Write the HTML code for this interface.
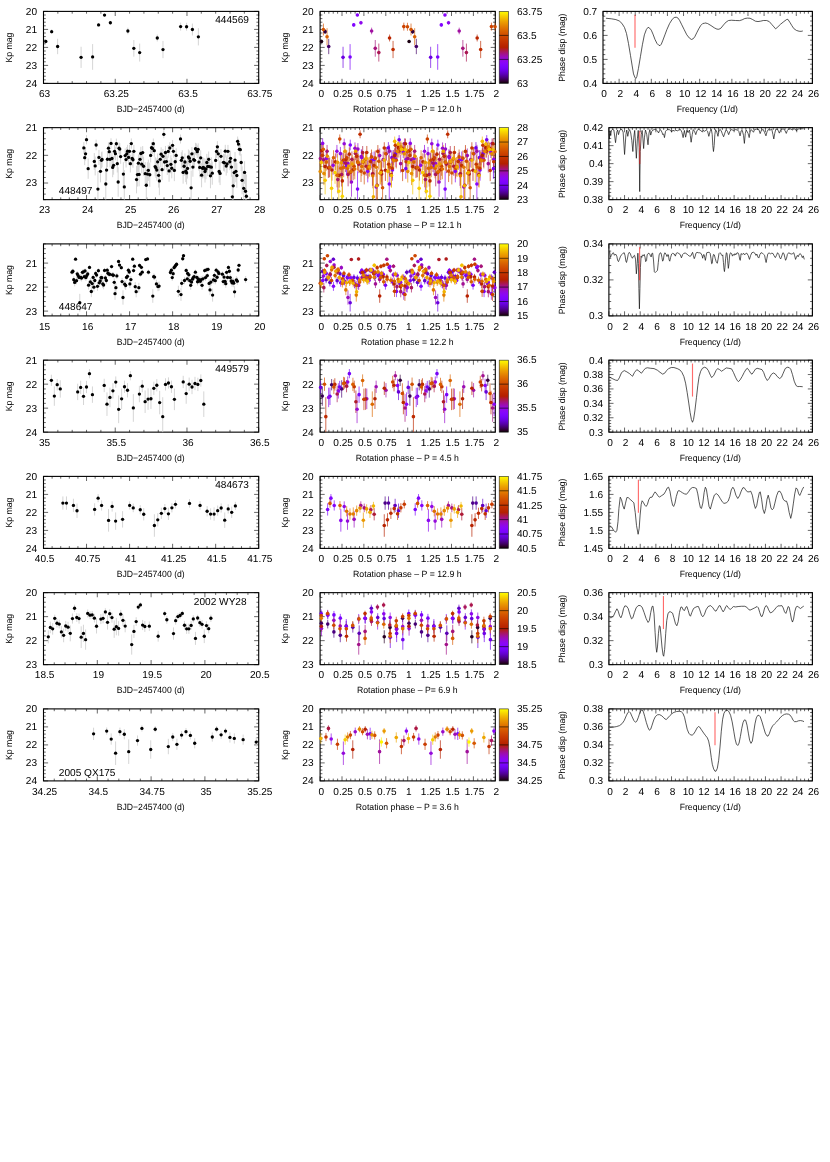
<!DOCTYPE html>
<html><head><meta charset="utf-8"><title>figure</title>
<style>
html,body{margin:0;padding:0;background:#fff;}
body{width:830px;height:1162px;overflow:hidden;font-family:"Liberation Sans", sans-serif;}
svg{display:block;will-change:transform;}
svg text{font-family:"Liberation Sans", sans-serif;fill:#000;text-rendering:geometricPrecision;}
</style></head><body>
<svg width="830" height="1162" viewBox="0 0 830 1162">
<rect width="830" height="1162" fill="#fff"/>
<defs><linearGradient id="pal" x1="0" y1="1" x2="0" y2="0">
<stop offset="0.000" stop-color="#000000"/>
<stop offset="0.020" stop-color="#240020"/>
<stop offset="0.040" stop-color="#33003f"/>
<stop offset="0.060" stop-color="#3e005e"/>
<stop offset="0.080" stop-color="#48007b"/>
<stop offset="0.100" stop-color="#510096"/>
<stop offset="0.120" stop-color="#5800af"/>
<stop offset="0.140" stop-color="#5f01c4"/>
<stop offset="0.160" stop-color="#6601d7"/>
<stop offset="0.180" stop-color="#6c01e7"/>
<stop offset="0.200" stop-color="#7202f3"/>
<stop offset="0.220" stop-color="#7803fa"/>
<stop offset="0.240" stop-color="#7d04fe"/>
<stop offset="0.260" stop-color="#8204fe"/>
<stop offset="0.280" stop-color="#8706fa"/>
<stop offset="0.300" stop-color="#8c07f3"/>
<stop offset="0.320" stop-color="#9008e7"/>
<stop offset="0.340" stop-color="#950ad7"/>
<stop offset="0.360" stop-color="#990cc4"/>
<stop offset="0.380" stop-color="#9d0eaf"/>
<stop offset="0.400" stop-color="#a11096"/>
<stop offset="0.420" stop-color="#a5137b"/>
<stop offset="0.440" stop-color="#a9165e"/>
<stop offset="0.460" stop-color="#ad193f"/>
<stop offset="0.480" stop-color="#b11c20"/>
<stop offset="0.500" stop-color="#b42000"/>
<stop offset="0.520" stop-color="#b82400"/>
<stop offset="0.540" stop-color="#bb2800"/>
<stop offset="0.560" stop-color="#bf2d00"/>
<stop offset="0.580" stop-color="#c23200"/>
<stop offset="0.600" stop-color="#c63700"/>
<stop offset="0.620" stop-color="#c93d00"/>
<stop offset="0.640" stop-color="#cc4300"/>
<stop offset="0.660" stop-color="#cf4900"/>
<stop offset="0.680" stop-color="#d25000"/>
<stop offset="0.700" stop-color="#d55700"/>
<stop offset="0.720" stop-color="#d85f00"/>
<stop offset="0.740" stop-color="#db6700"/>
<stop offset="0.760" stop-color="#de7000"/>
<stop offset="0.780" stop-color="#e17900"/>
<stop offset="0.800" stop-color="#e48300"/>
<stop offset="0.820" stop-color="#e78d00"/>
<stop offset="0.840" stop-color="#ea9700"/>
<stop offset="0.860" stop-color="#eca200"/>
<stop offset="0.880" stop-color="#efae00"/>
<stop offset="0.900" stop-color="#f2ba00"/>
<stop offset="0.920" stop-color="#f5c700"/>
<stop offset="0.940" stop-color="#f7d400"/>
<stop offset="0.960" stop-color="#fae200"/>
<stop offset="0.980" stop-color="#fcf000"/>
<stop offset="1.000" stop-color="#ffff00"/>
</linearGradient></defs>
<text transform="translate(44.60 97.00)" text-anchor="middle" font-size="10.1">63</text>
<text transform="translate(116.33 97.00)" text-anchor="middle" font-size="10.1">63.25</text>
<text transform="translate(188.07 97.00)" text-anchor="middle" font-size="10.1">63.5</text>
<text transform="translate(259.80 97.00)" text-anchor="middle" font-size="10.1">63.75</text>
<text transform="translate(37.00 14.80)" text-anchor="end" font-size="10.1">20</text>
<text transform="translate(37.00 32.80)" text-anchor="end" font-size="10.1">21</text>
<text transform="translate(37.00 50.80)" text-anchor="end" font-size="10.1">22</text>
<text transform="translate(37.00 68.80)" text-anchor="end" font-size="10.1">23</text>
<text transform="translate(37.00 86.80)" text-anchor="end" font-size="10.1">24</text>
<path d="M43.50 83.40v-4.60 M43.50 11.40v4.60 M57.85 83.40v-2.30 M57.85 11.40v2.30 M72.19 83.40v-2.30 M72.19 11.40v2.30 M86.54 83.40v-2.30 M86.54 11.40v2.30 M100.89 83.40v-2.30 M100.89 11.40v2.30 M115.23 83.40v-4.60 M115.23 11.40v4.60 M129.58 83.40v-2.30 M129.58 11.40v2.30 M143.93 83.40v-2.30 M143.93 11.40v2.30 M158.27 83.40v-2.30 M158.27 11.40v2.30 M172.62 83.40v-2.30 M172.62 11.40v2.30 M186.97 83.40v-4.60 M186.97 11.40v4.60 M201.31 83.40v-2.30 M201.31 11.40v2.30 M215.66 83.40v-2.30 M215.66 11.40v2.30 M230.01 83.40v-2.30 M230.01 11.40v2.30 M244.35 83.40v-2.30 M244.35 11.40v2.30 M258.70 83.40v-4.60 M258.70 11.40v4.60 M43.50 11.40h4.60 M258.70 11.40h-4.60 M43.50 15.00h2.30 M258.70 15.00h-2.30 M43.50 18.60h2.30 M258.70 18.60h-2.30 M43.50 22.20h2.30 M258.70 22.20h-2.30 M43.50 25.80h2.30 M258.70 25.80h-2.30 M43.50 29.40h4.60 M258.70 29.40h-4.60 M43.50 33.00h2.30 M258.70 33.00h-2.30 M43.50 36.60h2.30 M258.70 36.60h-2.30 M43.50 40.20h2.30 M258.70 40.20h-2.30 M43.50 43.80h2.30 M258.70 43.80h-2.30 M43.50 47.40h4.60 M258.70 47.40h-4.60 M43.50 51.00h2.30 M258.70 51.00h-2.30 M43.50 54.60h2.30 M258.70 54.60h-2.30 M43.50 58.20h2.30 M258.70 58.20h-2.30 M43.50 61.80h2.30 M258.70 61.80h-2.30 M43.50 65.40h4.60 M258.70 65.40h-4.60 M43.50 69.00h2.30 M258.70 69.00h-2.30 M43.50 72.60h2.30 M258.70 72.60h-2.30 M43.50 76.20h2.30 M258.70 76.20h-2.30 M43.50 79.80h2.30 M258.70 79.80h-2.30 M43.50 83.40h4.60 M258.70 83.40h-4.60" stroke="#000" stroke-width="0.6" fill="none"/>
<rect x="43.50" y="11.40" width="215.20" height="72.00" fill="none" stroke="#000" stroke-width="1.1"/>
<text transform="translate(150.70 112.10)" text-anchor="middle" font-size="9.0" textLength="68.00" lengthAdjust="spacingAndGlyphs">BJD−2457400 (d)</text>
<text transform="translate(11.60 47.60) rotate(-90)" text-anchor="middle" font-size="9.0" textLength="30.00" lengthAdjust="spacingAndGlyphs">Kp mag</text>
<path d="M45.83 39.86V43.04 M51.66 29.25V34.02 M57.63 38.80V54.17 M81.08 46.75V67.95 M92.61 44.10V69.81 M98.58 23.02V26.73 M104.54 13.75V16.40 M110.37 20.90V24.61 M127.87 27.66V34.29 M133.83 39.99V56.69 M139.66 43.57V61.59 M157.29 34.55V41.45 M162.99 40.92V58.14 M180.61 22.63V30.58 M186.58 22.76V30.71 M192.41 23.55V35.48 M198.37 28.19V45.42" stroke="#d0d0d0" stroke-width="0.9" fill="none"/>
<g fill="#000"><circle cx="45.83" cy="41.45" r="1.65"/><circle cx="51.66" cy="31.64" r="1.65"/><circle cx="57.63" cy="46.48" r="1.65"/><circle cx="81.08" cy="57.35" r="1.65"/><circle cx="92.61" cy="56.95" r="1.65"/><circle cx="98.58" cy="24.88" r="1.65"/><circle cx="104.54" cy="15.07" r="1.65"/><circle cx="110.37" cy="22.76" r="1.65"/><circle cx="127.87" cy="30.98" r="1.65"/><circle cx="133.83" cy="48.34" r="1.65"/><circle cx="139.66" cy="52.58" r="1.65"/><circle cx="157.29" cy="38.00" r="1.65"/><circle cx="162.99" cy="49.53" r="1.65"/><circle cx="180.61" cy="26.60" r="1.65"/><circle cx="186.58" cy="26.73" r="1.65"/><circle cx="192.41" cy="29.52" r="1.65"/><circle cx="198.37" cy="36.81" r="1.65"/></g>
<text transform="translate(248.90 23.00)" text-anchor="end" font-size="10.1">444569</text>
<text transform="translate(321.20 97.00)" text-anchor="middle" font-size="10.1">0</text>
<text transform="translate(343.10 97.00)" text-anchor="middle" font-size="10.1">0.25</text>
<text transform="translate(365.00 97.00)" text-anchor="middle" font-size="10.1">0.5</text>
<text transform="translate(386.90 97.00)" text-anchor="middle" font-size="10.1">0.75</text>
<text transform="translate(408.80 97.00)" text-anchor="middle" font-size="10.1">1</text>
<text transform="translate(430.70 97.00)" text-anchor="middle" font-size="10.1">1.25</text>
<text transform="translate(452.60 97.00)" text-anchor="middle" font-size="10.1">1.5</text>
<text transform="translate(474.50 97.00)" text-anchor="middle" font-size="10.1">1.75</text>
<text transform="translate(496.40 97.00)" text-anchor="middle" font-size="10.1">2</text>
<text transform="translate(313.60 14.80)" text-anchor="end" font-size="10.1">20</text>
<text transform="translate(313.60 32.80)" text-anchor="end" font-size="10.1">21</text>
<text transform="translate(313.60 50.80)" text-anchor="end" font-size="10.1">22</text>
<text transform="translate(313.60 68.80)" text-anchor="end" font-size="10.1">23</text>
<text transform="translate(313.60 86.80)" text-anchor="end" font-size="10.1">24</text>
<path d="M320.10 83.40v-4.60 M320.10 11.40v4.60 M324.48 83.40v-2.30 M324.48 11.40v2.30 M328.86 83.40v-2.30 M328.86 11.40v2.30 M333.24 83.40v-2.30 M333.24 11.40v2.30 M337.62 83.40v-2.30 M337.62 11.40v2.30 M342.00 83.40v-4.60 M342.00 11.40v4.60 M346.38 83.40v-2.30 M346.38 11.40v2.30 M350.76 83.40v-2.30 M350.76 11.40v2.30 M355.14 83.40v-2.30 M355.14 11.40v2.30 M359.52 83.40v-2.30 M359.52 11.40v2.30 M363.90 83.40v-4.60 M363.90 11.40v4.60 M368.28 83.40v-2.30 M368.28 11.40v2.30 M372.66 83.40v-2.30 M372.66 11.40v2.30 M377.04 83.40v-2.30 M377.04 11.40v2.30 M381.42 83.40v-2.30 M381.42 11.40v2.30 M385.80 83.40v-4.60 M385.80 11.40v4.60 M390.18 83.40v-2.30 M390.18 11.40v2.30 M394.56 83.40v-2.30 M394.56 11.40v2.30 M398.94 83.40v-2.30 M398.94 11.40v2.30 M403.32 83.40v-2.30 M403.32 11.40v2.30 M407.70 83.40v-4.60 M407.70 11.40v4.60 M412.08 83.40v-2.30 M412.08 11.40v2.30 M416.46 83.40v-2.30 M416.46 11.40v2.30 M420.84 83.40v-2.30 M420.84 11.40v2.30 M425.22 83.40v-2.30 M425.22 11.40v2.30 M429.60 83.40v-4.60 M429.60 11.40v4.60 M433.98 83.40v-2.30 M433.98 11.40v2.30 M438.36 83.40v-2.30 M438.36 11.40v2.30 M442.74 83.40v-2.30 M442.74 11.40v2.30 M447.12 83.40v-2.30 M447.12 11.40v2.30 M451.50 83.40v-4.60 M451.50 11.40v4.60 M455.88 83.40v-2.30 M455.88 11.40v2.30 M460.26 83.40v-2.30 M460.26 11.40v2.30 M464.64 83.40v-2.30 M464.64 11.40v2.30 M469.02 83.40v-2.30 M469.02 11.40v2.30 M473.40 83.40v-4.60 M473.40 11.40v4.60 M477.78 83.40v-2.30 M477.78 11.40v2.30 M482.16 83.40v-2.30 M482.16 11.40v2.30 M486.54 83.40v-2.30 M486.54 11.40v2.30 M490.92 83.40v-2.30 M490.92 11.40v2.30 M495.30 83.40v-4.60 M495.30 11.40v4.60 M320.10 11.40h4.60 M495.30 11.40h-4.60 M320.10 15.00h2.30 M495.30 15.00h-2.30 M320.10 18.60h2.30 M495.30 18.60h-2.30 M320.10 22.20h2.30 M495.30 22.20h-2.30 M320.10 25.80h2.30 M495.30 25.80h-2.30 M320.10 29.40h4.60 M495.30 29.40h-4.60 M320.10 33.00h2.30 M495.30 33.00h-2.30 M320.10 36.60h2.30 M495.30 36.60h-2.30 M320.10 40.20h2.30 M495.30 40.20h-2.30 M320.10 43.80h2.30 M495.30 43.80h-2.30 M320.10 47.40h4.60 M495.30 47.40h-4.60 M320.10 51.00h2.30 M495.30 51.00h-2.30 M320.10 54.60h2.30 M495.30 54.60h-2.30 M320.10 58.20h2.30 M495.30 58.20h-2.30 M320.10 61.80h2.30 M495.30 61.80h-2.30 M320.10 65.40h4.60 M495.30 65.40h-4.60 M320.10 69.00h2.30 M495.30 69.00h-2.30 M320.10 72.60h2.30 M495.30 72.60h-2.30 M320.10 76.20h2.30 M495.30 76.20h-2.30 M320.10 79.80h2.30 M495.30 79.80h-2.30 M320.10 83.40h4.60 M495.30 83.40h-4.60" stroke="#000" stroke-width="0.6" fill="none"/>
<rect x="320.10" y="11.40" width="175.20" height="72.00" fill="none" stroke="#000" stroke-width="1.1"/>
<text transform="translate(407.30 112.10)" text-anchor="middle" font-size="9.0" textLength="108.50" lengthAdjust="spacingAndGlyphs">Rotation phase – P = 12.0 h</text>
<text transform="translate(288.00 47.60) rotate(-90)" text-anchor="middle" font-size="9.0" textLength="30.00" lengthAdjust="spacingAndGlyphs">Kp mag</text>
<clipPath id="cm0"><rect x="318.10" y="11.40" width="179.20" height="72.00"/></clipPath>
<g clip-path="url(#cm0)"><g stroke-width="0.72" opacity="0.95"><path d="M321.52 39.86V43.04" stroke="#1b0011"/><path d="M409.12 39.86V43.04" stroke="#1b0011"/><path d="M325.08 29.25V34.02" stroke="#32003c"/><path d="M412.68 29.25V34.02" stroke="#32003c"/><path d="M328.73 38.80V54.17" stroke="#410066"/><path d="M416.33 38.80V54.17" stroke="#410066"/><path d="M343.05 46.75V67.95" stroke="#6b01e3"/><path d="M430.65 46.75V67.95" stroke="#6b01e3"/><path d="M350.09 44.10V69.81" stroke="#7a03fd"/><path d="M437.69 44.10V69.81" stroke="#7a03fd"/><path d="M353.73 23.02V26.73" stroke="#8104ff"/><path d="M441.33 23.02V26.73" stroke="#8104ff"/><path d="M357.37 13.75V16.40" stroke="#8806f9"/><path d="M444.97 13.75V16.40" stroke="#8806f9"/><path d="M360.93 20.90V24.61" stroke="#8e08ed"/><path d="M448.53 20.90V24.61" stroke="#8e08ed"/><path d="M371.61 27.66V34.29" stroke="#a00fa0"/><path d="M459.21 27.66V34.29" stroke="#a00fa0"/><path d="M375.26 39.99V56.69" stroke="#a5137b"/><path d="M462.86 39.99V56.69" stroke="#a5137b"/><path d="M378.82 43.57V61.59" stroke="#aa1754"/><path d="M466.42 43.57V61.59" stroke="#aa1754"/><path d="M389.58 34.55V41.45" stroke="#b92600"/><path d="M477.18 34.55V41.45" stroke="#b92600"/><path d="M393.06 40.92V58.14" stroke="#be2c00"/><path d="M480.66 40.92V58.14" stroke="#be2c00"/><path d="M403.82 22.63V30.58" stroke="#cc4200"/><path d="M491.42 22.63V30.58" stroke="#cc4200"/><path d="M407.46 22.76V30.71" stroke="#d04b00"/><path d="M495.06 22.76V30.71" stroke="#d04b00"/><path d="M323.42 23.55V35.48" stroke="#d45400"/><path d="M411.02 23.55V35.48" stroke="#d45400"/><path d="M327.06 28.19V45.42" stroke="#d85f00"/><path d="M414.66 28.19V45.42" stroke="#d85f00"/></g><circle cx="321.52" cy="41.45" r="1.8" fill="#1b0011"/><circle cx="409.12" cy="41.45" r="1.8" fill="#1b0011"/><circle cx="325.08" cy="31.64" r="1.8" fill="#32003c"/><circle cx="412.68" cy="31.64" r="1.8" fill="#32003c"/><circle cx="328.73" cy="46.48" r="1.8" fill="#410066"/><circle cx="416.33" cy="46.48" r="1.8" fill="#410066"/><circle cx="343.05" cy="57.35" r="1.8" fill="#6b01e3"/><circle cx="430.65" cy="57.35" r="1.8" fill="#6b01e3"/><circle cx="350.09" cy="56.95" r="1.8" fill="#7a03fd"/><circle cx="437.69" cy="56.95" r="1.8" fill="#7a03fd"/><circle cx="353.73" cy="24.88" r="1.8" fill="#8104ff"/><circle cx="441.33" cy="24.88" r="1.8" fill="#8104ff"/><circle cx="357.37" cy="15.07" r="1.8" fill="#8806f9"/><circle cx="444.97" cy="15.07" r="1.8" fill="#8806f9"/><circle cx="360.93" cy="22.76" r="1.8" fill="#8e08ed"/><circle cx="448.53" cy="22.76" r="1.8" fill="#8e08ed"/><circle cx="371.61" cy="30.98" r="1.8" fill="#a00fa0"/><circle cx="459.21" cy="30.98" r="1.8" fill="#a00fa0"/><circle cx="375.26" cy="48.34" r="1.8" fill="#a5137b"/><circle cx="462.86" cy="48.34" r="1.8" fill="#a5137b"/><circle cx="378.82" cy="52.58" r="1.8" fill="#aa1754"/><circle cx="466.42" cy="52.58" r="1.8" fill="#aa1754"/><circle cx="389.58" cy="38.00" r="1.8" fill="#b92600"/><circle cx="477.18" cy="38.00" r="1.8" fill="#b92600"/><circle cx="393.06" cy="49.53" r="1.8" fill="#be2c00"/><circle cx="480.66" cy="49.53" r="1.8" fill="#be2c00"/><circle cx="403.82" cy="26.60" r="1.8" fill="#cc4200"/><circle cx="491.42" cy="26.60" r="1.8" fill="#cc4200"/><circle cx="407.46" cy="26.73" r="1.8" fill="#d04b00"/><circle cx="495.06" cy="26.73" r="1.8" fill="#d04b00"/><circle cx="323.42" cy="29.52" r="1.8" fill="#d45400"/><circle cx="411.02" cy="29.52" r="1.8" fill="#d45400"/><circle cx="327.06" cy="36.81" r="1.8" fill="#d85f00"/><circle cx="414.66" cy="36.81" r="1.8" fill="#d85f00"/></g>
<rect x="499.20" y="11.40" width="9.20" height="72.00" fill="url(#pal)" stroke="#222" stroke-width="0.6"/>
<text transform="translate(517.00 86.70)" text-anchor="start" font-size="10.1">63</text>
<text transform="translate(517.00 62.70)" text-anchor="start" font-size="10.1">63.25</text>
<text transform="translate(517.00 38.70)" text-anchor="start" font-size="10.1">63.5</text>
<text transform="translate(517.00 14.70)" text-anchor="start" font-size="10.1">63.75</text>
<path d="M499.20 59.40H508.40 M499.20 35.40H508.40" stroke="#000" stroke-width="0.6"/>
<text transform="translate(604.10 97.00)" text-anchor="middle" font-size="10.1">0</text>
<text transform="translate(620.21 97.00)" text-anchor="middle" font-size="10.1">2</text>
<text transform="translate(636.32 97.00)" text-anchor="middle" font-size="10.1">4</text>
<text transform="translate(652.42 97.00)" text-anchor="middle" font-size="10.1">6</text>
<text transform="translate(668.53 97.00)" text-anchor="middle" font-size="10.1">8</text>
<text transform="translate(684.64 97.00)" text-anchor="middle" font-size="10.1">10</text>
<text transform="translate(700.75 97.00)" text-anchor="middle" font-size="10.1">12</text>
<text transform="translate(716.85 97.00)" text-anchor="middle" font-size="10.1">14</text>
<text transform="translate(732.96 97.00)" text-anchor="middle" font-size="10.1">16</text>
<text transform="translate(749.07 97.00)" text-anchor="middle" font-size="10.1">18</text>
<text transform="translate(765.18 97.00)" text-anchor="middle" font-size="10.1">20</text>
<text transform="translate(781.28 97.00)" text-anchor="middle" font-size="10.1">22</text>
<text transform="translate(797.39 97.00)" text-anchor="middle" font-size="10.1">24</text>
<text transform="translate(813.50 97.00)" text-anchor="middle" font-size="10.1">26</text>
<text transform="translate(597.20 86.80)" text-anchor="end" font-size="10.1">0.4</text>
<text transform="translate(597.20 62.80)" text-anchor="end" font-size="10.1">0.5</text>
<text transform="translate(597.20 38.80)" text-anchor="end" font-size="10.1">0.6</text>
<text transform="translate(597.20 14.80)" text-anchor="end" font-size="10.1">0.7</text>
<path d="M603.00 83.40v-4.60 M603.00 11.40v4.60 M607.03 83.40v-2.30 M607.03 11.40v2.30 M611.05 83.40v-2.30 M611.05 11.40v2.30 M615.08 83.40v-2.30 M615.08 11.40v2.30 M619.11 83.40v-4.60 M619.11 11.40v4.60 M623.13 83.40v-2.30 M623.13 11.40v2.30 M627.16 83.40v-2.30 M627.16 11.40v2.30 M631.19 83.40v-2.30 M631.19 11.40v2.30 M635.22 83.40v-4.60 M635.22 11.40v4.60 M639.24 83.40v-2.30 M639.24 11.40v2.30 M643.27 83.40v-2.30 M643.27 11.40v2.30 M647.30 83.40v-2.30 M647.30 11.40v2.30 M651.32 83.40v-4.60 M651.32 11.40v4.60 M655.35 83.40v-2.30 M655.35 11.40v2.30 M659.38 83.40v-2.30 M659.38 11.40v2.30 M663.40 83.40v-2.30 M663.40 11.40v2.30 M667.43 83.40v-4.60 M667.43 11.40v4.60 M671.46 83.40v-2.30 M671.46 11.40v2.30 M675.48 83.40v-2.30 M675.48 11.40v2.30 M679.51 83.40v-2.30 M679.51 11.40v2.30 M683.54 83.40v-4.60 M683.54 11.40v4.60 M687.57 83.40v-2.30 M687.57 11.40v2.30 M691.59 83.40v-2.30 M691.59 11.40v2.30 M695.62 83.40v-2.30 M695.62 11.40v2.30 M699.65 83.40v-4.60 M699.65 11.40v4.60 M703.67 83.40v-2.30 M703.67 11.40v2.30 M707.70 83.40v-2.30 M707.70 11.40v2.30 M711.73 83.40v-2.30 M711.73 11.40v2.30 M715.75 83.40v-4.60 M715.75 11.40v4.60 M719.78 83.40v-2.30 M719.78 11.40v2.30 M723.81 83.40v-2.30 M723.81 11.40v2.30 M727.83 83.40v-2.30 M727.83 11.40v2.30 M731.86 83.40v-4.60 M731.86 11.40v4.60 M735.89 83.40v-2.30 M735.89 11.40v2.30 M739.92 83.40v-2.30 M739.92 11.40v2.30 M743.94 83.40v-2.30 M743.94 11.40v2.30 M747.97 83.40v-4.60 M747.97 11.40v4.60 M752.00 83.40v-2.30 M752.00 11.40v2.30 M756.02 83.40v-2.30 M756.02 11.40v2.30 M760.05 83.40v-2.30 M760.05 11.40v2.30 M764.08 83.40v-4.60 M764.08 11.40v4.60 M768.10 83.40v-2.30 M768.10 11.40v2.30 M772.13 83.40v-2.30 M772.13 11.40v2.30 M776.16 83.40v-2.30 M776.16 11.40v2.30 M780.18 83.40v-4.60 M780.18 11.40v4.60 M784.21 83.40v-2.30 M784.21 11.40v2.30 M788.24 83.40v-2.30 M788.24 11.40v2.30 M792.27 83.40v-2.30 M792.27 11.40v2.30 M796.29 83.40v-4.60 M796.29 11.40v4.60 M800.32 83.40v-2.30 M800.32 11.40v2.30 M804.35 83.40v-2.30 M804.35 11.40v2.30 M808.37 83.40v-2.30 M808.37 11.40v2.30 M812.40 83.40v-4.60 M812.40 11.40v4.60 M603.00 83.40h4.60 M812.40 83.40h-4.60 M603.00 78.60h2.30 M812.40 78.60h-2.30 M603.00 73.80h2.30 M812.40 73.80h-2.30 M603.00 69.00h2.30 M812.40 69.00h-2.30 M603.00 64.20h2.30 M812.40 64.20h-2.30 M603.00 59.40h4.60 M812.40 59.40h-4.60 M603.00 54.60h2.30 M812.40 54.60h-2.30 M603.00 49.80h2.30 M812.40 49.80h-2.30 M603.00 45.00h2.30 M812.40 45.00h-2.30 M603.00 40.20h2.30 M812.40 40.20h-2.30 M603.00 35.40h4.60 M812.40 35.40h-4.60 M603.00 30.60h2.30 M812.40 30.60h-2.30 M603.00 25.80h2.30 M812.40 25.80h-2.30 M603.00 21.00h2.30 M812.40 21.00h-2.30 M603.00 16.20h2.30 M812.40 16.20h-2.30 M603.00 11.40h4.60 M812.40 11.40h-4.60" stroke="#000" stroke-width="0.6" fill="none"/>
<rect x="603.00" y="11.40" width="209.40" height="72.00" fill="none" stroke="#000" stroke-width="1.1"/>
<text transform="translate(707.30 112.10)" text-anchor="middle" font-size="9.0" textLength="61.20" lengthAdjust="spacingAndGlyphs">Frequency (1/d)</text>
<text transform="translate(564.50 47.60) rotate(-90)" text-anchor="middle" font-size="9.0" textLength="68.20" lengthAdjust="spacingAndGlyphs">Phase disp (mag)</text>
<path d="M605.95 18.25 L611.25 18.78 L615.89 19.58 L619.20 20.90 L621.86 23.29 L624.51 27.53 L626.49 33.49 L628.48 43.43 L630.47 55.36 L632.19 65.96 L633.52 73.92 L634.84 77.23 L635.77 78.55 L636.83 76.57 L638.42 68.61 L640.41 56.69 L642.40 44.76 L644.39 34.82 L646.37 29.52 L648.10 27.27 L649.69 28.19 L651.28 30.18 L653.00 34.16 L654.99 39.46 L656.98 43.43 L658.70 45.16 L660.02 45.69 L661.35 44.10 L662.94 40.12 L664.93 34.82 L666.92 29.52 L669.57 23.55 L672.22 19.31 L674.20 17.59 L676.19 17.19 L677.78 17.86 L679.51 20.24 L681.49 24.22 L684.14 29.52 L686.80 34.82 L689.45 38.13 L691.43 39.46 L693.16 38.80 L694.75 36.81 L696.73 32.83 L698.72 28.86 L700.71 25.54 L702.70 23.55 L704.69 23.16 L705.00 22.89 L707.65 23.55 L710.96 25.54 L714.28 27.80 L716.93 29.12 L718.92 29.25 L720.90 28.19 L723.55 24.88 L726.20 21.96 L728.59 20.51 L731.51 20.24 L735.48 20.51 L739.46 20.64 L742.11 19.84 L744.76 18.52 L747.41 18.12 L750.06 18.25 L752.71 19.58 L755.36 21.17 L758.01 21.57 L760.66 21.17 L763.31 20.51 L766.63 20.51 L769.28 21.57 L771.93 24.61 L773.92 26.87 L775.64 28.86 L777.89 26.87 L780.54 24.22 L783.86 21.57 L786.51 19.58 L787.83 19.31 L789.82 22.23 L791.81 25.54 L793.80 28.59 L796.45 30.45 L799.10 31.24 L801.08 31.37 L802.81 30.98" stroke="#111" stroke-width="0.7" fill="none" stroke-linejoin="round"/>
<path d="M635.00 14.80V47.80" stroke="#ff0000" stroke-opacity="0.58" stroke-width="1.15"/>
<text transform="translate(44.60 213.25)" text-anchor="middle" font-size="10.1">23</text>
<text transform="translate(87.64 213.25)" text-anchor="middle" font-size="10.1">24</text>
<text transform="translate(130.68 213.25)" text-anchor="middle" font-size="10.1">25</text>
<text transform="translate(173.72 213.25)" text-anchor="middle" font-size="10.1">26</text>
<text transform="translate(216.76 213.25)" text-anchor="middle" font-size="10.1">27</text>
<text transform="translate(259.80 213.25)" text-anchor="middle" font-size="10.1">28</text>
<text transform="translate(37.00 131.05)" text-anchor="end" font-size="10.1">21</text>
<text transform="translate(37.00 158.74)" text-anchor="end" font-size="10.1">22</text>
<text transform="translate(37.00 186.43)" text-anchor="end" font-size="10.1">23</text>
<path d="M43.50 199.65v-4.60 M43.50 127.65v4.60 M52.11 199.65v-2.30 M52.11 127.65v2.30 M60.72 199.65v-2.30 M60.72 127.65v2.30 M69.32 199.65v-2.30 M69.32 127.65v2.30 M77.93 199.65v-2.30 M77.93 127.65v2.30 M86.54 199.65v-4.60 M86.54 127.65v4.60 M95.15 199.65v-2.30 M95.15 127.65v2.30 M103.76 199.65v-2.30 M103.76 127.65v2.30 M112.36 199.65v-2.30 M112.36 127.65v2.30 M120.97 199.65v-2.30 M120.97 127.65v2.30 M129.58 199.65v-4.60 M129.58 127.65v4.60 M138.19 199.65v-2.30 M138.19 127.65v2.30 M146.80 199.65v-2.30 M146.80 127.65v2.30 M155.40 199.65v-2.30 M155.40 127.65v2.30 M164.01 199.65v-2.30 M164.01 127.65v2.30 M172.62 199.65v-4.60 M172.62 127.65v4.60 M181.23 199.65v-2.30 M181.23 127.65v2.30 M189.84 199.65v-2.30 M189.84 127.65v2.30 M198.44 199.65v-2.30 M198.44 127.65v2.30 M207.05 199.65v-2.30 M207.05 127.65v2.30 M215.66 199.65v-4.60 M215.66 127.65v4.60 M224.27 199.65v-2.30 M224.27 127.65v2.30 M232.88 199.65v-2.30 M232.88 127.65v2.30 M241.48 199.65v-2.30 M241.48 127.65v2.30 M250.09 199.65v-2.30 M250.09 127.65v2.30 M258.70 199.65v-4.60 M258.70 127.65v4.60 M43.50 127.65h4.60 M258.70 127.65h-4.60 M43.50 133.19h2.30 M258.70 133.19h-2.30 M43.50 138.73h2.30 M258.70 138.73h-2.30 M43.50 144.27h2.30 M258.70 144.27h-2.30 M43.50 149.80h2.30 M258.70 149.80h-2.30 M43.50 155.34h4.60 M258.70 155.34h-4.60 M43.50 160.88h2.30 M258.70 160.88h-2.30 M43.50 166.42h2.30 M258.70 166.42h-2.30 M43.50 171.96h2.30 M258.70 171.96h-2.30 M43.50 177.50h2.30 M258.70 177.50h-2.30 M43.50 183.03h4.60 M258.70 183.03h-4.60 M43.50 188.57h2.30 M258.70 188.57h-2.30 M43.50 194.11h2.30 M258.70 194.11h-2.30 M43.50 199.65h2.30 M258.70 199.65h-2.30" stroke="#000" stroke-width="0.6" fill="none"/>
<rect x="43.50" y="127.65" width="215.20" height="72.00" fill="none" stroke="#000" stroke-width="1.1"/>
<text transform="translate(150.70 228.35)" text-anchor="middle" font-size="9.0" textLength="68.00" lengthAdjust="spacingAndGlyphs">BJD−2457400 (d)</text>
<text transform="translate(11.60 163.85) rotate(-90)" text-anchor="middle" font-size="9.0" textLength="30.00" lengthAdjust="spacingAndGlyphs">Kp mag</text>
<path d="M86.51 135.11V144.32 M83.83 142.12V153.64 M85.57 147.03V160.59 M84.70 150.11V165.17 M88.17 158.45V178.81 M96.12 139.67V150.31 M94.31 153.10V169.83 M95.18 156.49V175.41 M97.93 171.24V199.65 M98.94 149.94V164.91 M100.46 160.40V182.35 M101.47 152.21V168.42 M102.05 151.53V167.36 M105.81 168.49V199.56 M106.60 159.48V180.66 M107.47 151.36V167.10 M108.48 142.36V153.98 M109.28 145.25V158.03 M110.00 151.48V167.27 M111.01 138.30V148.49 M111.95 150.79V166.22 M112.67 157.56V177.24 M113.61 156.06V174.68 M114.55 144.95V157.60 M115.42 146.91V160.41 M116.36 138.61V148.90 M117.30 154.76V172.52 M118.17 167.31V196.69 M119.04 142.42V154.06 M119.76 143.15V155.07 M120.63 149.24V163.86 M123.37 162.24V185.86 M124.31 170.10V199.65 M125.18 148.49V162.74 M126.05 151.65V167.53 M126.84 147.03V160.59 M127.57 144.83V157.43 M128.58 149.94V164.91 M129.52 144.95V157.60 M130.39 154.76V172.52 M131.33 138.43V148.66 M132.19 150.79V166.22 M132.99 151.76V167.71 M133.86 144.95V157.60 M136.53 165.85V193.38 M137.47 162.58V186.53 M138.41 154.43V171.98 M139.08 162.48V186.34 M140.02 151.48V167.27 M140.89 146.79V160.24 M142.70 146.02V159.13 M141.76 155.14V173.15 M143.57 156.71V175.78 M145.23 161.99V185.38 M146.31 169.19V199.65 M147.40 162.24V185.86 M148.34 159.63V180.94 M149.78 162.72V186.82 M150.65 148.32V162.48 M151.52 141.94V153.39 M152.46 142.54V154.23 M153.33 138.55V148.82 M154.27 144.47V156.92 M155.13 156.97V176.23 M155.93 157.92V177.88 M156.80 159.48V180.66 M157.66 153.38V170.28 M158.60 163.11V187.59 M159.40 166.65V195.18 M160.27 151.48V167.27 M161.13 147.32V161.02 M162.07 159.22V180.20 M162.94 149.07V163.60 M163.81 130.32V138.26 M164.60 153.49V170.46 M165.47 145.96V159.05 M166.41 153.16V169.92 M167.28 156.22V174.96 M168.22 145.07V157.77 M169.08 160.09V181.79 M169.81 142.24V153.81 M170.89 155.25V173.33 M171.76 158.19V178.34 M172.55 139.97V150.72 M173.42 144.95V157.60 M174.36 159.74V181.13 M175.23 153.33V170.19 M176.17 148.32V162.48 M180.51 134.47V143.50 M181.37 152.21V168.42 M182.24 150.22V165.34 M183.11 161.10V183.67 M184.05 156.71V175.78 M184.92 153.49V170.46 M185.78 160.24V182.07 M186.58 161.50V184.43 M187.52 158.29V178.53 M188.39 149.53V164.30 M189.33 150.51V165.78 M190.19 152.94V169.57 M191.13 170.56V199.65 M191.93 147.03V160.59 M192.87 157.29V176.78 M193.73 151.65V167.53 M194.53 152.21V168.42 M195.47 142.85V154.65 M196.41 143.45V155.49 M197.28 145.25V158.03 M198.17 143.33V155.32 M198.89 153.60V170.64 M199.76 157.56V177.24 M200.70 150.22V165.34 M201.57 162.96V187.30 M202.51 158.19V178.34 M203.23 157.56V177.24 M204.17 158.19V178.34 M205.04 160.50V182.54 M205.98 158.71V179.27 M206.84 153.88V171.08 M207.71 156.87V176.05 M208.65 151.48V167.27 M209.52 157.03V176.32 M210.46 163.44V188.27 M211.33 157.40V176.96 M212.27 161.65V184.72 M215.66 152.32V168.59 M216.53 145.07V157.77 M217.40 141.20V152.39 M218.27 147.03V160.59 M219.13 160.50V182.54 M220.07 161.84V185.10 M220.94 149.07V163.60 M223.47 153.77V170.90 M224.41 154.16V171.53 M225.28 144.83V157.43 M226.22 156.60V175.59 M227.08 154.98V172.88 M227.95 144.95V157.60 M229.76 153.33V170.19 M230.55 150.68V166.04 M231.42 157.29V176.78 M232.36 174.75V199.65 M233.23 169.51V199.65 M234.17 161.25V183.96 M235.04 152.04V168.15 M235.90 160.40V182.35 M236.84 163.20V187.79 M237.64 136.55V146.19 M238.51 138.86V149.23 M239.37 143.33V155.32 M240.31 143.63V155.74 M241.18 153.88V171.08 M242.12 166.30V194.38 M243.71 170.87V199.65 M244.58 161.15V183.77 M245.52 172.31V199.65 M246.39 174.52V199.65" stroke="#d0d0d0" stroke-width="0.9" fill="none"/>
<g fill="#000"><circle cx="86.51" cy="139.71" r="1.65"/><circle cx="83.83" cy="147.88" r="1.65"/><circle cx="85.57" cy="153.81" r="1.65"/><circle cx="84.70" cy="157.64" r="1.65"/><circle cx="88.17" cy="168.63" r="1.65"/><circle cx="96.12" cy="144.99" r="1.65"/><circle cx="94.31" cy="161.47" r="1.65"/><circle cx="95.18" cy="165.95" r="1.65"/><circle cx="97.93" cy="189.08" r="1.65"/><circle cx="98.94" cy="157.42" r="1.65"/><circle cx="100.46" cy="171.37" r="1.65"/><circle cx="101.47" cy="160.31" r="1.65"/><circle cx="102.05" cy="159.45" r="1.65"/><circle cx="105.81" cy="184.02" r="1.65"/><circle cx="106.60" cy="170.07" r="1.65"/><circle cx="107.47" cy="159.23" r="1.65"/><circle cx="108.48" cy="148.17" r="1.65"/><circle cx="109.28" cy="151.64" r="1.65"/><circle cx="110.00" cy="159.37" r="1.65"/><circle cx="111.01" cy="143.40" r="1.65"/><circle cx="111.95" cy="158.51" r="1.65"/><circle cx="112.67" cy="167.40" r="1.65"/><circle cx="113.61" cy="165.37" r="1.65"/><circle cx="114.55" cy="151.28" r="1.65"/><circle cx="115.42" cy="153.66" r="1.65"/><circle cx="116.36" cy="143.76" r="1.65"/><circle cx="117.30" cy="163.64" r="1.65"/><circle cx="118.17" cy="182.00" r="1.65"/><circle cx="119.04" cy="148.24" r="1.65"/><circle cx="119.76" cy="149.11" r="1.65"/><circle cx="120.63" cy="156.55" r="1.65"/><circle cx="123.37" cy="174.05" r="1.65"/><circle cx="124.31" cy="186.92" r="1.65"/><circle cx="125.18" cy="155.61" r="1.65"/><circle cx="126.05" cy="159.59" r="1.65"/><circle cx="126.84" cy="153.81" r="1.65"/><circle cx="127.57" cy="151.13" r="1.65"/><circle cx="128.58" cy="157.42" r="1.65"/><circle cx="129.52" cy="151.28" r="1.65"/><circle cx="130.39" cy="163.64" r="1.65"/><circle cx="131.33" cy="143.54" r="1.65"/><circle cx="132.19" cy="158.51" r="1.65"/><circle cx="132.99" cy="159.73" r="1.65"/><circle cx="133.86" cy="151.28" r="1.65"/><circle cx="136.53" cy="179.61" r="1.65"/><circle cx="137.47" cy="174.55" r="1.65"/><circle cx="138.41" cy="163.20" r="1.65"/><circle cx="139.08" cy="174.41" r="1.65"/><circle cx="140.02" cy="159.37" r="1.65"/><circle cx="140.89" cy="153.52" r="1.65"/><circle cx="142.70" cy="152.58" r="1.65"/><circle cx="141.76" cy="164.14" r="1.65"/><circle cx="143.57" cy="166.24" r="1.65"/><circle cx="145.23" cy="173.69" r="1.65"/><circle cx="146.31" cy="185.25" r="1.65"/><circle cx="147.40" cy="174.05" r="1.65"/><circle cx="148.34" cy="170.29" r="1.65"/><circle cx="149.78" cy="174.77" r="1.65"/><circle cx="150.65" cy="155.40" r="1.65"/><circle cx="151.52" cy="147.66" r="1.65"/><circle cx="152.46" cy="148.39" r="1.65"/><circle cx="153.33" cy="143.69" r="1.65"/><circle cx="154.27" cy="150.70" r="1.65"/><circle cx="155.13" cy="166.60" r="1.65"/><circle cx="155.93" cy="167.90" r="1.65"/><circle cx="156.80" cy="170.07" r="1.65"/><circle cx="157.66" cy="161.83" r="1.65"/><circle cx="158.60" cy="175.35" r="1.65"/><circle cx="159.40" cy="180.92" r="1.65"/><circle cx="160.27" cy="159.37" r="1.65"/><circle cx="161.13" cy="154.17" r="1.65"/><circle cx="162.07" cy="169.71" r="1.65"/><circle cx="162.94" cy="156.34" r="1.65"/><circle cx="163.81" cy="134.29" r="1.65"/><circle cx="164.60" cy="161.98" r="1.65"/><circle cx="165.47" cy="152.51" r="1.65"/><circle cx="166.41" cy="161.54" r="1.65"/><circle cx="167.28" cy="165.59" r="1.65"/><circle cx="168.22" cy="151.42" r="1.65"/><circle cx="169.08" cy="170.94" r="1.65"/><circle cx="169.81" cy="148.02" r="1.65"/><circle cx="170.89" cy="164.29" r="1.65"/><circle cx="171.76" cy="168.27" r="1.65"/><circle cx="172.55" cy="145.35" r="1.65"/><circle cx="173.42" cy="151.28" r="1.65"/><circle cx="174.36" cy="170.43" r="1.65"/><circle cx="175.23" cy="161.76" r="1.65"/><circle cx="176.17" cy="155.40" r="1.65"/><circle cx="180.51" cy="138.99" r="1.65"/><circle cx="181.37" cy="160.31" r="1.65"/><circle cx="182.24" cy="157.78" r="1.65"/><circle cx="183.11" cy="172.39" r="1.65"/><circle cx="184.05" cy="166.24" r="1.65"/><circle cx="184.92" cy="161.98" r="1.65"/><circle cx="185.78" cy="171.16" r="1.65"/><circle cx="186.58" cy="172.96" r="1.65"/><circle cx="187.52" cy="168.41" r="1.65"/><circle cx="188.39" cy="156.92" r="1.65"/><circle cx="189.33" cy="158.14" r="1.65"/><circle cx="190.19" cy="161.25" r="1.65"/><circle cx="191.13" cy="187.78" r="1.65"/><circle cx="191.93" cy="153.81" r="1.65"/><circle cx="192.87" cy="167.04" r="1.65"/><circle cx="193.73" cy="159.59" r="1.65"/><circle cx="194.53" cy="160.31" r="1.65"/><circle cx="195.47" cy="148.75" r="1.65"/><circle cx="196.41" cy="149.47" r="1.65"/><circle cx="197.28" cy="151.64" r="1.65"/><circle cx="198.17" cy="149.33" r="1.65"/><circle cx="198.89" cy="162.12" r="1.65"/><circle cx="199.76" cy="167.40" r="1.65"/><circle cx="200.70" cy="157.78" r="1.65"/><circle cx="201.57" cy="175.13" r="1.65"/><circle cx="202.51" cy="168.27" r="1.65"/><circle cx="203.23" cy="167.40" r="1.65"/><circle cx="204.17" cy="168.27" r="1.65"/><circle cx="205.04" cy="171.52" r="1.65"/><circle cx="205.98" cy="168.99" r="1.65"/><circle cx="206.84" cy="162.48" r="1.65"/><circle cx="207.71" cy="166.46" r="1.65"/><circle cx="208.65" cy="159.37" r="1.65"/><circle cx="209.52" cy="166.67" r="1.65"/><circle cx="210.46" cy="175.86" r="1.65"/><circle cx="211.33" cy="167.18" r="1.65"/><circle cx="212.27" cy="173.18" r="1.65"/><circle cx="215.66" cy="160.46" r="1.65"/><circle cx="216.53" cy="151.42" r="1.65"/><circle cx="217.40" cy="146.80" r="1.65"/><circle cx="218.27" cy="153.81" r="1.65"/><circle cx="219.13" cy="171.52" r="1.65"/><circle cx="220.07" cy="173.47" r="1.65"/><circle cx="220.94" cy="156.34" r="1.65"/><circle cx="223.47" cy="162.34" r="1.65"/><circle cx="224.41" cy="162.84" r="1.65"/><circle cx="225.28" cy="151.13" r="1.65"/><circle cx="226.22" cy="166.10" r="1.65"/><circle cx="227.08" cy="163.93" r="1.65"/><circle cx="227.95" cy="151.28" r="1.65"/><circle cx="229.76" cy="161.76" r="1.65"/><circle cx="230.55" cy="158.36" r="1.65"/><circle cx="231.42" cy="167.04" r="1.65"/><circle cx="232.36" cy="196.82" r="1.65"/><circle cx="233.23" cy="185.83" r="1.65"/><circle cx="234.17" cy="172.60" r="1.65"/><circle cx="235.04" cy="160.10" r="1.65"/><circle cx="235.90" cy="171.37" r="1.65"/><circle cx="236.84" cy="175.49" r="1.65"/><circle cx="237.64" cy="141.37" r="1.65"/><circle cx="238.51" cy="144.05" r="1.65"/><circle cx="239.37" cy="149.33" r="1.65"/><circle cx="240.31" cy="149.69" r="1.65"/><circle cx="241.18" cy="162.48" r="1.65"/><circle cx="242.12" cy="180.34" r="1.65"/><circle cx="243.71" cy="188.36" r="1.65"/><circle cx="244.58" cy="172.46" r="1.65"/><circle cx="245.52" cy="191.25" r="1.65"/><circle cx="246.39" cy="196.24" r="1.65"/></g>
<text transform="translate(58.80 194.45)" text-anchor="start" font-size="10.1">448497</text>
<text transform="translate(321.20 213.25)" text-anchor="middle" font-size="10.1">0</text>
<text transform="translate(343.10 213.25)" text-anchor="middle" font-size="10.1">0.25</text>
<text transform="translate(365.00 213.25)" text-anchor="middle" font-size="10.1">0.5</text>
<text transform="translate(386.90 213.25)" text-anchor="middle" font-size="10.1">0.75</text>
<text transform="translate(408.80 213.25)" text-anchor="middle" font-size="10.1">1</text>
<text transform="translate(430.70 213.25)" text-anchor="middle" font-size="10.1">1.25</text>
<text transform="translate(452.60 213.25)" text-anchor="middle" font-size="10.1">1.5</text>
<text transform="translate(474.50 213.25)" text-anchor="middle" font-size="10.1">1.75</text>
<text transform="translate(496.40 213.25)" text-anchor="middle" font-size="10.1">2</text>
<text transform="translate(313.60 131.05)" text-anchor="end" font-size="10.1">21</text>
<text transform="translate(313.60 158.74)" text-anchor="end" font-size="10.1">22</text>
<text transform="translate(313.60 186.43)" text-anchor="end" font-size="10.1">23</text>
<path d="M320.10 199.65v-4.60 M320.10 127.65v4.60 M324.48 199.65v-2.30 M324.48 127.65v2.30 M328.86 199.65v-2.30 M328.86 127.65v2.30 M333.24 199.65v-2.30 M333.24 127.65v2.30 M337.62 199.65v-2.30 M337.62 127.65v2.30 M342.00 199.65v-4.60 M342.00 127.65v4.60 M346.38 199.65v-2.30 M346.38 127.65v2.30 M350.76 199.65v-2.30 M350.76 127.65v2.30 M355.14 199.65v-2.30 M355.14 127.65v2.30 M359.52 199.65v-2.30 M359.52 127.65v2.30 M363.90 199.65v-4.60 M363.90 127.65v4.60 M368.28 199.65v-2.30 M368.28 127.65v2.30 M372.66 199.65v-2.30 M372.66 127.65v2.30 M377.04 199.65v-2.30 M377.04 127.65v2.30 M381.42 199.65v-2.30 M381.42 127.65v2.30 M385.80 199.65v-4.60 M385.80 127.65v4.60 M390.18 199.65v-2.30 M390.18 127.65v2.30 M394.56 199.65v-2.30 M394.56 127.65v2.30 M398.94 199.65v-2.30 M398.94 127.65v2.30 M403.32 199.65v-2.30 M403.32 127.65v2.30 M407.70 199.65v-4.60 M407.70 127.65v4.60 M412.08 199.65v-2.30 M412.08 127.65v2.30 M416.46 199.65v-2.30 M416.46 127.65v2.30 M420.84 199.65v-2.30 M420.84 127.65v2.30 M425.22 199.65v-2.30 M425.22 127.65v2.30 M429.60 199.65v-4.60 M429.60 127.65v4.60 M433.98 199.65v-2.30 M433.98 127.65v2.30 M438.36 199.65v-2.30 M438.36 127.65v2.30 M442.74 199.65v-2.30 M442.74 127.65v2.30 M447.12 199.65v-2.30 M447.12 127.65v2.30 M451.50 199.65v-4.60 M451.50 127.65v4.60 M455.88 199.65v-2.30 M455.88 127.65v2.30 M460.26 199.65v-2.30 M460.26 127.65v2.30 M464.64 199.65v-2.30 M464.64 127.65v2.30 M469.02 199.65v-2.30 M469.02 127.65v2.30 M473.40 199.65v-4.60 M473.40 127.65v4.60 M477.78 199.65v-2.30 M477.78 127.65v2.30 M482.16 199.65v-2.30 M482.16 127.65v2.30 M486.54 199.65v-2.30 M486.54 127.65v2.30 M490.92 199.65v-2.30 M490.92 127.65v2.30 M495.30 199.65v-4.60 M495.30 127.65v4.60 M320.10 127.65h4.60 M495.30 127.65h-4.60 M320.10 133.19h2.30 M495.30 133.19h-2.30 M320.10 138.73h2.30 M495.30 138.73h-2.30 M320.10 144.27h2.30 M495.30 144.27h-2.30 M320.10 149.80h2.30 M495.30 149.80h-2.30 M320.10 155.34h4.60 M495.30 155.34h-4.60 M320.10 160.88h2.30 M495.30 160.88h-2.30 M320.10 166.42h2.30 M495.30 166.42h-2.30 M320.10 171.96h2.30 M495.30 171.96h-2.30 M320.10 177.50h2.30 M495.30 177.50h-2.30 M320.10 183.03h4.60 M495.30 183.03h-4.60 M320.10 188.57h2.30 M495.30 188.57h-2.30 M320.10 194.11h2.30 M495.30 194.11h-2.30 M320.10 199.65h2.30 M495.30 199.65h-2.30" stroke="#000" stroke-width="0.6" fill="none"/>
<rect x="320.10" y="127.65" width="175.20" height="72.00" fill="none" stroke="#000" stroke-width="1.1"/>
<text transform="translate(407.30 228.35)" text-anchor="middle" font-size="9.0" textLength="108.50" lengthAdjust="spacingAndGlyphs">Rotation phase – P = 12.1 h</text>
<text transform="translate(288.00 163.85) rotate(-90)" text-anchor="middle" font-size="9.0" textLength="30.00" lengthAdjust="spacingAndGlyphs">Kp mag</text>
<clipPath id="cm1"><rect x="318.10" y="127.65" width="179.20" height="72.00"/></clipPath>
<g clip-path="url(#cm1)"><g stroke-width="0.72" opacity="0.95"><path d="M388.36 142.12V153.64" stroke="#6e02ec"/><path d="M475.96 142.12V153.64" stroke="#6e02ec"/><path d="M391.86 150.11V165.17" stroke="#7002ee"/><path d="M479.46 150.11V165.17" stroke="#7002ee"/><path d="M395.35 147.03V160.59" stroke="#7102f0"/><path d="M482.95 147.03V160.59" stroke="#7102f0"/><path d="M399.14 135.11V144.32" stroke="#7202f2"/><path d="M486.74 135.11V144.32" stroke="#7202f2"/><path d="M405.83 158.45V178.81" stroke="#7402f6"/><path d="M493.43 158.45V178.81" stroke="#7402f6"/><path d="M342.98 153.10V169.83" stroke="#7c03fe"/><path d="M430.58 153.10V169.83" stroke="#7c03fe"/><path d="M346.48 156.49V175.41" stroke="#7d04ff"/><path d="M434.08 156.49V175.41" stroke="#7d04ff"/><path d="M350.26 139.67V150.31" stroke="#7e04ff"/><path d="M437.86 139.67V150.31" stroke="#7e04ff"/><path d="M357.54 171.24V199.65" stroke="#8004ff"/><path d="M445.14 171.24V199.65" stroke="#8004ff"/><path d="M361.62 149.94V164.91" stroke="#8104ff"/><path d="M449.22 149.94V164.91" stroke="#8104ff"/><path d="M367.73 160.40V182.35" stroke="#8305fe"/><path d="M455.33 160.40V182.35" stroke="#8305fe"/><path d="M371.81 152.21V168.42" stroke="#8405fd"/><path d="M459.41 152.21V168.42" stroke="#8405fd"/><path d="M374.14 151.53V167.36" stroke="#8505fd"/><path d="M461.74 151.53V167.36" stroke="#8505fd"/><path d="M389.28 168.49V199.56" stroke="#8906f7"/><path d="M476.88 168.49V199.56" stroke="#8906f7"/><path d="M392.48 159.48V180.66" stroke="#8a06f6"/><path d="M480.08 159.48V180.66" stroke="#8a06f6"/><path d="M395.98 151.36V167.10" stroke="#8b07f4"/><path d="M483.58 151.36V167.10" stroke="#8b07f4"/><path d="M400.06 142.36V153.98" stroke="#8c07f2"/><path d="M487.66 142.36V153.98" stroke="#8c07f2"/><path d="M403.26 145.25V158.03" stroke="#8d07f0"/><path d="M490.86 145.25V158.03" stroke="#8d07f0"/><path d="M406.17 151.48V167.27" stroke="#8e08ee"/><path d="M493.77 151.48V167.27" stroke="#8e08ee"/><path d="M322.65 138.30V148.49" stroke="#8f08eb"/><path d="M410.25 138.30V148.49" stroke="#8f08eb"/><path d="M326.43 150.79V166.22" stroke="#9008e8"/><path d="M414.03 150.79V166.22" stroke="#9008e8"/><path d="M329.34 157.56V177.24" stroke="#9108e6"/><path d="M416.94 157.56V177.24" stroke="#9108e6"/><path d="M333.13 156.06V174.68" stroke="#9209e3"/><path d="M420.73 156.06V174.68" stroke="#9209e3"/><path d="M336.91 144.95V157.60" stroke="#9309df"/><path d="M424.51 144.95V157.60" stroke="#9309df"/><path d="M340.41 146.91V160.41" stroke="#930adc"/><path d="M428.01 146.91V160.41" stroke="#930adc"/><path d="M344.19 138.61V148.90" stroke="#940ad9"/><path d="M431.79 138.61V148.90" stroke="#940ad9"/><path d="M347.98 154.76V172.52" stroke="#950ad5"/><path d="M435.58 154.76V172.52" stroke="#950ad5"/><path d="M351.47 167.31V196.69" stroke="#960bd1"/><path d="M439.07 167.31V196.69" stroke="#960bd1"/><path d="M354.97 142.42V154.06" stroke="#970bcd"/><path d="M442.57 142.42V154.06" stroke="#970bcd"/><path d="M357.88 143.15V155.07" stroke="#980bca"/><path d="M445.48 143.15V155.07" stroke="#980bca"/><path d="M361.37 149.24V163.86" stroke="#990cc6"/><path d="M448.97 149.24V163.86" stroke="#990cc6"/><path d="M372.44 162.24V185.86" stroke="#9b0db9"/><path d="M460.04 162.24V185.86" stroke="#9b0db9"/><path d="M376.22 170.10V199.65" stroke="#9c0eb4"/><path d="M463.82 170.10V199.65" stroke="#9c0eb4"/><path d="M379.72 148.49V162.74" stroke="#9d0eaf"/><path d="M467.32 148.49V162.74" stroke="#9d0eaf"/><path d="M383.21 151.65V167.53" stroke="#9e0eaa"/><path d="M470.81 151.65V167.53" stroke="#9e0eaa"/><path d="M386.41 147.03V160.59" stroke="#9f0fa6"/><path d="M474.01 147.03V160.59" stroke="#9f0fa6"/><path d="M389.33 144.83V157.43" stroke="#9f0fa2"/><path d="M476.93 144.83V157.43" stroke="#9f0fa2"/><path d="M393.40 149.94V164.91" stroke="#a0109c"/><path d="M481.00 149.94V164.91" stroke="#a0109c"/><path d="M397.19 144.95V157.60" stroke="#a11096"/><path d="M484.79 144.95V157.60" stroke="#a11096"/><path d="M400.68 154.76V172.52" stroke="#a21191"/><path d="M488.28 154.76V172.52" stroke="#a21191"/><path d="M404.47 138.43V148.66" stroke="#a3118b"/><path d="M492.07 138.43V148.66" stroke="#a3118b"/><path d="M320.36 150.79V166.22" stroke="#a41286"/><path d="M407.96 150.79V166.22" stroke="#a41286"/><path d="M323.56 151.76V167.71" stroke="#a41281"/><path d="M411.16 151.76V167.71" stroke="#a41281"/><path d="M327.06 144.95V157.60" stroke="#a5137b"/><path d="M414.66 144.95V157.60" stroke="#a5137b"/><path d="M337.83 165.85V193.38" stroke="#a81569"/><path d="M425.43 165.85V193.38" stroke="#a81569"/><path d="M341.62 162.58V186.53" stroke="#a91563"/><path d="M429.22 162.58V186.53" stroke="#a91563"/><path d="M345.40 154.43V171.98" stroke="#a9165c"/><path d="M433.00 154.43V171.98" stroke="#a9165c"/><path d="M348.12 162.48V186.34" stroke="#aa1658"/><path d="M435.72 162.48V186.34" stroke="#aa1658"/><path d="M351.91 151.48V167.27" stroke="#ab1751"/><path d="M439.51 151.48V167.27" stroke="#ab1751"/><path d="M355.40 146.79V160.24" stroke="#ac184b"/><path d="M443.00 146.79V160.24" stroke="#ac184b"/><path d="M358.89 155.14V173.15" stroke="#ac1845"/><path d="M446.49 155.14V173.15" stroke="#ac1845"/><path d="M362.68 146.02V159.13" stroke="#ad193e"/><path d="M450.28 146.02V159.13" stroke="#ad193e"/><path d="M366.17 156.71V175.78" stroke="#ae1a38"/><path d="M453.77 156.71V175.78" stroke="#ae1a38"/><path d="M372.87 161.99V185.38" stroke="#af1b2b"/><path d="M460.47 161.99V185.38" stroke="#af1b2b"/><path d="M377.24 169.19V199.65" stroke="#b01c24"/><path d="M464.84 169.19V199.65" stroke="#b01c24"/><path d="M381.61 162.24V185.86" stroke="#b11d1c"/><path d="M469.21 162.24V185.86" stroke="#b11d1c"/><path d="M385.39 159.63V180.94" stroke="#b21d15"/><path d="M472.99 159.63V180.94" stroke="#b21d15"/><path d="M391.21 162.72V186.82" stroke="#b31f0a"/><path d="M478.81 162.72V186.82" stroke="#b31f0a"/><path d="M394.71 148.32V162.48" stroke="#b41f03"/><path d="M482.31 148.32V162.48" stroke="#b41f03"/><path d="M398.20 141.94V153.39" stroke="#b52000"/><path d="M485.80 141.94V153.39" stroke="#b52000"/><path d="M401.99 142.54V154.23" stroke="#b52100"/><path d="M489.59 142.54V154.23" stroke="#b52100"/><path d="M405.48 138.55V148.82" stroke="#b62200"/><path d="M493.08 138.55V148.82" stroke="#b62200"/><path d="M321.67 144.47V156.92" stroke="#b72300"/><path d="M409.27 144.47V156.92" stroke="#b72300"/><path d="M325.16 156.97V176.23" stroke="#b82400"/><path d="M412.76 156.97V176.23" stroke="#b82400"/><path d="M328.36 157.92V177.88" stroke="#b82400"/><path d="M415.96 157.92V177.88" stroke="#b82400"/><path d="M331.86 159.48V180.66" stroke="#b92500"/><path d="M419.46 159.48V180.66" stroke="#b92500"/><path d="M335.35 153.38V170.28" stroke="#ba2600"/><path d="M422.95 153.38V170.28" stroke="#ba2600"/><path d="M339.14 163.11V187.59" stroke="#ba2700"/><path d="M426.74 163.11V187.59" stroke="#ba2700"/><path d="M342.34 166.65V195.18" stroke="#bb2800"/><path d="M429.94 166.65V195.18" stroke="#bb2800"/><path d="M345.83 151.48V167.27" stroke="#bc2900"/><path d="M433.43 151.48V167.27" stroke="#bc2900"/><path d="M349.33 147.32V161.02" stroke="#bd2a00"/><path d="M436.93 147.32V161.02" stroke="#bd2a00"/><path d="M353.11 159.22V180.20" stroke="#bd2b00"/><path d="M440.71 159.22V180.20" stroke="#bd2b00"/><path d="M356.61 149.07V163.60" stroke="#be2c00"/><path d="M444.21 149.07V163.60" stroke="#be2c00"/><path d="M360.10 130.32V138.26" stroke="#bf2d00"/><path d="M447.70 130.32V138.26" stroke="#bf2d00"/><path d="M363.30 153.49V170.46" stroke="#bf2d00"/><path d="M450.90 153.49V170.46" stroke="#bf2d00"/><path d="M366.80 145.96V159.05" stroke="#c02e00"/><path d="M454.40 145.96V159.05" stroke="#c02e00"/><path d="M370.58 153.16V169.92" stroke="#c13000"/><path d="M458.18 153.16V169.92" stroke="#c13000"/><path d="M374.08 156.22V174.96" stroke="#c13100"/><path d="M461.68 156.22V174.96" stroke="#c13100"/><path d="M377.86 145.07V157.77" stroke="#c23200"/><path d="M465.46 145.07V157.77" stroke="#c23200"/><path d="M381.36 160.09V181.79" stroke="#c33300"/><path d="M468.96 160.09V181.79" stroke="#c33300"/><path d="M384.27 142.24V153.81" stroke="#c33400"/><path d="M471.87 142.24V153.81" stroke="#c33400"/><path d="M388.64 155.25V173.33" stroke="#c43500"/><path d="M476.24 155.25V173.33" stroke="#c43500"/><path d="M392.13 158.19V178.34" stroke="#c53600"/><path d="M479.73 158.19V178.34" stroke="#c53600"/><path d="M395.33 139.97V150.72" stroke="#c53700"/><path d="M482.93 139.97V150.72" stroke="#c53700"/><path d="M398.83 144.95V157.60" stroke="#c63800"/><path d="M486.43 144.95V157.60" stroke="#c63800"/><path d="M402.61 159.74V181.13" stroke="#c73900"/><path d="M490.21 159.74V181.13" stroke="#c73900"/><path d="M406.11 153.33V170.19" stroke="#c83a00"/><path d="M493.71 153.33V170.19" stroke="#c83a00"/><path d="M322.29 148.32V162.48" stroke="#c83c00"/><path d="M409.89 148.32V162.48" stroke="#c83c00"/><path d="M339.76 134.47V143.50" stroke="#cb4200"/><path d="M427.36 134.47V143.50" stroke="#cb4200"/><path d="M343.26 152.21V168.42" stroke="#cc4300"/><path d="M430.86 152.21V168.42" stroke="#cc4300"/><path d="M346.75 150.22V165.34" stroke="#cd4400"/><path d="M434.35 150.22V165.34" stroke="#cd4400"/><path d="M350.25 161.10V183.67" stroke="#cd4600"/><path d="M437.85 161.10V183.67" stroke="#cd4600"/><path d="M354.03 156.71V175.78" stroke="#ce4700"/><path d="M441.63 156.71V175.78" stroke="#ce4700"/><path d="M357.53 153.49V170.46" stroke="#cf4800"/><path d="M445.13 153.49V170.46" stroke="#cf4800"/><path d="M361.02 160.24V182.07" stroke="#cf4a00"/><path d="M448.62 160.24V182.07" stroke="#cf4a00"/><path d="M364.22 161.50V184.43" stroke="#d04b00"/><path d="M451.82 161.50V184.43" stroke="#d04b00"/><path d="M368.01 158.29V178.53" stroke="#d14c00"/><path d="M455.61 158.29V178.53" stroke="#d14c00"/><path d="M371.50 149.53V164.30" stroke="#d14e00"/><path d="M459.10 149.53V164.30" stroke="#d14e00"/><path d="M375.29 150.51V165.78" stroke="#d24f00"/><path d="M462.89 150.51V165.78" stroke="#d24f00"/><path d="M378.78 152.94V169.57" stroke="#d35100"/><path d="M466.38 152.94V169.57" stroke="#d35100"/><path d="M382.57 170.56V199.65" stroke="#d35200"/><path d="M470.17 170.56V199.65" stroke="#d35200"/><path d="M385.77 147.03V160.59" stroke="#d45400"/><path d="M473.37 147.03V160.59" stroke="#d45400"/><path d="M389.55 157.29V176.78" stroke="#d45500"/><path d="M477.15 157.29V176.78" stroke="#d45500"/><path d="M393.05 151.65V167.53" stroke="#d55700"/><path d="M480.65 151.65V167.53" stroke="#d55700"/><path d="M396.25 152.21V168.42" stroke="#d65800"/><path d="M483.85 152.21V168.42" stroke="#d65800"/><path d="M400.04 142.85V154.65" stroke="#d65a00"/><path d="M487.64 142.85V154.65" stroke="#d65a00"/><path d="M403.82 143.45V155.49" stroke="#d75b00"/><path d="M491.42 143.45V155.49" stroke="#d75b00"/><path d="M407.32 145.25V158.03" stroke="#d85d00"/><path d="M494.92 145.25V158.03" stroke="#d85d00"/><path d="M323.31 143.33V155.32" stroke="#d85f00"/><path d="M410.91 143.33V155.32" stroke="#d85f00"/><path d="M326.22 153.60V170.64" stroke="#d96000"/><path d="M413.82 153.60V170.64" stroke="#d96000"/><path d="M329.71 157.56V177.24" stroke="#d96200"/><path d="M417.31 157.56V177.24" stroke="#d96200"/><path d="M333.50 150.22V165.34" stroke="#da6300"/><path d="M421.10 150.22V165.34" stroke="#da6300"/><path d="M336.99 162.96V187.30" stroke="#db6500"/><path d="M424.59 162.96V187.30" stroke="#db6500"/><path d="M340.78 158.19V178.34" stroke="#db6700"/><path d="M428.38 158.19V178.34" stroke="#db6700"/><path d="M343.69 157.56V177.24" stroke="#dc6800"/><path d="M431.29 157.56V177.24" stroke="#dc6800"/><path d="M347.48 158.19V178.34" stroke="#dc6a00"/><path d="M435.08 158.19V178.34" stroke="#dc6a00"/><path d="M350.97 160.50V182.54" stroke="#dd6c00"/><path d="M438.57 160.50V182.54" stroke="#dd6c00"/><path d="M354.75 158.71V179.27" stroke="#de6e00"/><path d="M442.35 158.71V179.27" stroke="#de6e00"/><path d="M358.25 153.88V171.08" stroke="#de7000"/><path d="M445.85 153.88V171.08" stroke="#de7000"/><path d="M361.74 156.87V176.05" stroke="#df7100"/><path d="M449.34 156.87V176.05" stroke="#df7100"/><path d="M365.53 151.48V167.27" stroke="#df7300"/><path d="M453.13 151.48V167.27" stroke="#df7300"/><path d="M369.02 157.03V176.32" stroke="#e07500"/><path d="M456.62 157.03V176.32" stroke="#e07500"/><path d="M372.81 163.44V188.27" stroke="#e17700"/><path d="M460.41 163.44V188.27" stroke="#e17700"/><path d="M376.30 157.40V176.96" stroke="#e17900"/><path d="M463.90 157.40V176.96" stroke="#e17900"/><path d="M380.09 161.65V184.72" stroke="#e27b00"/><path d="M467.69 161.65V184.72" stroke="#e27b00"/><path d="M393.77 152.32V168.59" stroke="#e48300"/><path d="M481.37 152.32V168.59" stroke="#e48300"/><path d="M397.27 145.07V157.77" stroke="#e58500"/><path d="M484.87 145.07V157.77" stroke="#e58500"/><path d="M400.76 141.20V152.39" stroke="#e58700"/><path d="M488.36 141.20V152.39" stroke="#e58700"/><path d="M404.25 147.03V160.59" stroke="#e68900"/><path d="M491.85 147.03V160.59" stroke="#e68900"/><path d="M320.15 160.50V182.54" stroke="#e68b00"/><path d="M407.75 160.50V182.54" stroke="#e68b00"/><path d="M323.93 161.84V185.10" stroke="#e78d00"/><path d="M411.53 161.84V185.10" stroke="#e78d00"/><path d="M327.43 149.07V163.60" stroke="#e88f00"/><path d="M415.03 149.07V163.60" stroke="#e88f00"/><path d="M337.62 153.77V170.90" stroke="#e99500"/><path d="M425.22 153.77V170.90" stroke="#e99500"/><path d="M341.40 154.16V171.53" stroke="#ea9700"/><path d="M429.00 154.16V171.53" stroke="#ea9700"/><path d="M344.90 144.83V157.43" stroke="#ea9a00"/><path d="M432.50 144.83V157.43" stroke="#ea9a00"/><path d="M348.68 156.60V175.59" stroke="#eb9c00"/><path d="M436.28 156.60V175.59" stroke="#eb9c00"/><path d="M352.18 154.98V172.88" stroke="#ec9e00"/><path d="M439.78 154.98V172.88" stroke="#ec9e00"/><path d="M355.67 144.95V157.60" stroke="#eca100"/><path d="M443.27 144.95V157.60" stroke="#eca100"/><path d="M362.95 153.33V170.19" stroke="#eda500"/><path d="M450.55 153.33V170.19" stroke="#eda500"/><path d="M366.15 150.68V166.04" stroke="#eea700"/><path d="M453.75 150.68V166.04" stroke="#eea700"/><path d="M369.65 157.29V176.78" stroke="#eeaa00"/><path d="M457.25 157.29V176.78" stroke="#eeaa00"/><path d="M373.43 174.75V199.65" stroke="#efac00"/><path d="M461.03 174.75V199.65" stroke="#efac00"/><path d="M376.93 169.51V199.65" stroke="#efaf00"/><path d="M464.53 169.51V199.65" stroke="#efaf00"/><path d="M380.71 161.25V183.96" stroke="#f0b100"/><path d="M468.31 161.25V183.96" stroke="#f0b100"/><path d="M384.21 152.04V168.15" stroke="#f1b400"/><path d="M471.81 152.04V168.15" stroke="#f1b400"/><path d="M387.70 160.40V182.35" stroke="#f1b600"/><path d="M475.30 160.40V182.35" stroke="#f1b600"/><path d="M391.49 163.20V187.79" stroke="#f2b900"/><path d="M479.09 163.20V187.79" stroke="#f2b900"/><path d="M394.69 136.55V146.19" stroke="#f2bb00"/><path d="M482.29 136.55V146.19" stroke="#f2bb00"/><path d="M398.18 138.86V149.23" stroke="#f3be00"/><path d="M485.78 138.86V149.23" stroke="#f3be00"/><path d="M401.68 143.33V155.32" stroke="#f3c000"/><path d="M489.28 143.33V155.32" stroke="#f3c000"/><path d="M405.46 143.63V155.74" stroke="#f4c300"/><path d="M493.06 143.63V155.74" stroke="#f4c300"/><path d="M321.36 153.88V171.08" stroke="#f4c600"/><path d="M408.96 153.88V171.08" stroke="#f4c600"/><path d="M325.14 166.30V194.38" stroke="#f5c800"/><path d="M412.74 166.30V194.38" stroke="#f5c800"/><path d="M331.55 170.87V199.65" stroke="#f6cd00"/><path d="M419.15 170.87V199.65" stroke="#f6cd00"/><path d="M335.04 161.15V183.77" stroke="#f6d000"/><path d="M422.64 161.15V183.77" stroke="#f6d000"/><path d="M338.83 172.31V199.65" stroke="#f7d300"/><path d="M426.43 172.31V199.65" stroke="#f7d300"/><path d="M342.32 174.52V199.65" stroke="#f8d600"/><path d="M429.92 174.52V199.65" stroke="#f8d600"/></g><circle cx="388.36" cy="147.88" r="1.8" fill="#6e02ec"/><circle cx="475.96" cy="147.88" r="1.8" fill="#6e02ec"/><circle cx="391.86" cy="157.64" r="1.8" fill="#7002ee"/><circle cx="479.46" cy="157.64" r="1.8" fill="#7002ee"/><circle cx="395.35" cy="153.81" r="1.8" fill="#7102f0"/><circle cx="482.95" cy="153.81" r="1.8" fill="#7102f0"/><circle cx="399.14" cy="139.71" r="1.8" fill="#7202f2"/><circle cx="486.74" cy="139.71" r="1.8" fill="#7202f2"/><circle cx="405.83" cy="168.63" r="1.8" fill="#7402f6"/><circle cx="493.43" cy="168.63" r="1.8" fill="#7402f6"/><circle cx="342.98" cy="161.47" r="1.8" fill="#7c03fe"/><circle cx="430.58" cy="161.47" r="1.8" fill="#7c03fe"/><circle cx="346.48" cy="165.95" r="1.8" fill="#7d04ff"/><circle cx="434.08" cy="165.95" r="1.8" fill="#7d04ff"/><circle cx="350.26" cy="144.99" r="1.8" fill="#7e04ff"/><circle cx="437.86" cy="144.99" r="1.8" fill="#7e04ff"/><circle cx="357.54" cy="189.08" r="1.8" fill="#8004ff"/><circle cx="445.14" cy="189.08" r="1.8" fill="#8004ff"/><circle cx="361.62" cy="157.42" r="1.8" fill="#8104ff"/><circle cx="449.22" cy="157.42" r="1.8" fill="#8104ff"/><circle cx="367.73" cy="171.37" r="1.8" fill="#8305fe"/><circle cx="455.33" cy="171.37" r="1.8" fill="#8305fe"/><circle cx="371.81" cy="160.31" r="1.8" fill="#8405fd"/><circle cx="459.41" cy="160.31" r="1.8" fill="#8405fd"/><circle cx="374.14" cy="159.45" r="1.8" fill="#8505fd"/><circle cx="461.74" cy="159.45" r="1.8" fill="#8505fd"/><circle cx="389.28" cy="184.02" r="1.8" fill="#8906f7"/><circle cx="476.88" cy="184.02" r="1.8" fill="#8906f7"/><circle cx="392.48" cy="170.07" r="1.8" fill="#8a06f6"/><circle cx="480.08" cy="170.07" r="1.8" fill="#8a06f6"/><circle cx="395.98" cy="159.23" r="1.8" fill="#8b07f4"/><circle cx="483.58" cy="159.23" r="1.8" fill="#8b07f4"/><circle cx="400.06" cy="148.17" r="1.8" fill="#8c07f2"/><circle cx="487.66" cy="148.17" r="1.8" fill="#8c07f2"/><circle cx="403.26" cy="151.64" r="1.8" fill="#8d07f0"/><circle cx="490.86" cy="151.64" r="1.8" fill="#8d07f0"/><circle cx="406.17" cy="159.37" r="1.8" fill="#8e08ee"/><circle cx="493.77" cy="159.37" r="1.8" fill="#8e08ee"/><circle cx="322.65" cy="143.40" r="1.8" fill="#8f08eb"/><circle cx="410.25" cy="143.40" r="1.8" fill="#8f08eb"/><circle cx="326.43" cy="158.51" r="1.8" fill="#9008e8"/><circle cx="414.03" cy="158.51" r="1.8" fill="#9008e8"/><circle cx="329.34" cy="167.40" r="1.8" fill="#9108e6"/><circle cx="416.94" cy="167.40" r="1.8" fill="#9108e6"/><circle cx="333.13" cy="165.37" r="1.8" fill="#9209e3"/><circle cx="420.73" cy="165.37" r="1.8" fill="#9209e3"/><circle cx="336.91" cy="151.28" r="1.8" fill="#9309df"/><circle cx="424.51" cy="151.28" r="1.8" fill="#9309df"/><circle cx="340.41" cy="153.66" r="1.8" fill="#930adc"/><circle cx="428.01" cy="153.66" r="1.8" fill="#930adc"/><circle cx="344.19" cy="143.76" r="1.8" fill="#940ad9"/><circle cx="431.79" cy="143.76" r="1.8" fill="#940ad9"/><circle cx="347.98" cy="163.64" r="1.8" fill="#950ad5"/><circle cx="435.58" cy="163.64" r="1.8" fill="#950ad5"/><circle cx="351.47" cy="182.00" r="1.8" fill="#960bd1"/><circle cx="439.07" cy="182.00" r="1.8" fill="#960bd1"/><circle cx="354.97" cy="148.24" r="1.8" fill="#970bcd"/><circle cx="442.57" cy="148.24" r="1.8" fill="#970bcd"/><circle cx="357.88" cy="149.11" r="1.8" fill="#980bca"/><circle cx="445.48" cy="149.11" r="1.8" fill="#980bca"/><circle cx="361.37" cy="156.55" r="1.8" fill="#990cc6"/><circle cx="448.97" cy="156.55" r="1.8" fill="#990cc6"/><circle cx="372.44" cy="174.05" r="1.8" fill="#9b0db9"/><circle cx="460.04" cy="174.05" r="1.8" fill="#9b0db9"/><circle cx="376.22" cy="186.92" r="1.8" fill="#9c0eb4"/><circle cx="463.82" cy="186.92" r="1.8" fill="#9c0eb4"/><circle cx="379.72" cy="155.61" r="1.8" fill="#9d0eaf"/><circle cx="467.32" cy="155.61" r="1.8" fill="#9d0eaf"/><circle cx="383.21" cy="159.59" r="1.8" fill="#9e0eaa"/><circle cx="470.81" cy="159.59" r="1.8" fill="#9e0eaa"/><circle cx="386.41" cy="153.81" r="1.8" fill="#9f0fa6"/><circle cx="474.01" cy="153.81" r="1.8" fill="#9f0fa6"/><circle cx="389.33" cy="151.13" r="1.8" fill="#9f0fa2"/><circle cx="476.93" cy="151.13" r="1.8" fill="#9f0fa2"/><circle cx="393.40" cy="157.42" r="1.8" fill="#a0109c"/><circle cx="481.00" cy="157.42" r="1.8" fill="#a0109c"/><circle cx="397.19" cy="151.28" r="1.8" fill="#a11096"/><circle cx="484.79" cy="151.28" r="1.8" fill="#a11096"/><circle cx="400.68" cy="163.64" r="1.8" fill="#a21191"/><circle cx="488.28" cy="163.64" r="1.8" fill="#a21191"/><circle cx="404.47" cy="143.54" r="1.8" fill="#a3118b"/><circle cx="492.07" cy="143.54" r="1.8" fill="#a3118b"/><circle cx="320.36" cy="158.51" r="1.8" fill="#a41286"/><circle cx="407.96" cy="158.51" r="1.8" fill="#a41286"/><circle cx="323.56" cy="159.73" r="1.8" fill="#a41281"/><circle cx="411.16" cy="159.73" r="1.8" fill="#a41281"/><circle cx="327.06" cy="151.28" r="1.8" fill="#a5137b"/><circle cx="414.66" cy="151.28" r="1.8" fill="#a5137b"/><circle cx="337.83" cy="179.61" r="1.8" fill="#a81569"/><circle cx="425.43" cy="179.61" r="1.8" fill="#a81569"/><circle cx="341.62" cy="174.55" r="1.8" fill="#a91563"/><circle cx="429.22" cy="174.55" r="1.8" fill="#a91563"/><circle cx="345.40" cy="163.20" r="1.8" fill="#a9165c"/><circle cx="433.00" cy="163.20" r="1.8" fill="#a9165c"/><circle cx="348.12" cy="174.41" r="1.8" fill="#aa1658"/><circle cx="435.72" cy="174.41" r="1.8" fill="#aa1658"/><circle cx="351.91" cy="159.37" r="1.8" fill="#ab1751"/><circle cx="439.51" cy="159.37" r="1.8" fill="#ab1751"/><circle cx="355.40" cy="153.52" r="1.8" fill="#ac184b"/><circle cx="443.00" cy="153.52" r="1.8" fill="#ac184b"/><circle cx="358.89" cy="164.14" r="1.8" fill="#ac1845"/><circle cx="446.49" cy="164.14" r="1.8" fill="#ac1845"/><circle cx="362.68" cy="152.58" r="1.8" fill="#ad193e"/><circle cx="450.28" cy="152.58" r="1.8" fill="#ad193e"/><circle cx="366.17" cy="166.24" r="1.8" fill="#ae1a38"/><circle cx="453.77" cy="166.24" r="1.8" fill="#ae1a38"/><circle cx="372.87" cy="173.69" r="1.8" fill="#af1b2b"/><circle cx="460.47" cy="173.69" r="1.8" fill="#af1b2b"/><circle cx="377.24" cy="185.25" r="1.8" fill="#b01c24"/><circle cx="464.84" cy="185.25" r="1.8" fill="#b01c24"/><circle cx="381.61" cy="174.05" r="1.8" fill="#b11d1c"/><circle cx="469.21" cy="174.05" r="1.8" fill="#b11d1c"/><circle cx="385.39" cy="170.29" r="1.8" fill="#b21d15"/><circle cx="472.99" cy="170.29" r="1.8" fill="#b21d15"/><circle cx="391.21" cy="174.77" r="1.8" fill="#b31f0a"/><circle cx="478.81" cy="174.77" r="1.8" fill="#b31f0a"/><circle cx="394.71" cy="155.40" r="1.8" fill="#b41f03"/><circle cx="482.31" cy="155.40" r="1.8" fill="#b41f03"/><circle cx="398.20" cy="147.66" r="1.8" fill="#b52000"/><circle cx="485.80" cy="147.66" r="1.8" fill="#b52000"/><circle cx="401.99" cy="148.39" r="1.8" fill="#b52100"/><circle cx="489.59" cy="148.39" r="1.8" fill="#b52100"/><circle cx="405.48" cy="143.69" r="1.8" fill="#b62200"/><circle cx="493.08" cy="143.69" r="1.8" fill="#b62200"/><circle cx="321.67" cy="150.70" r="1.8" fill="#b72300"/><circle cx="409.27" cy="150.70" r="1.8" fill="#b72300"/><circle cx="325.16" cy="166.60" r="1.8" fill="#b82400"/><circle cx="412.76" cy="166.60" r="1.8" fill="#b82400"/><circle cx="328.36" cy="167.90" r="1.8" fill="#b82400"/><circle cx="415.96" cy="167.90" r="1.8" fill="#b82400"/><circle cx="331.86" cy="170.07" r="1.8" fill="#b92500"/><circle cx="419.46" cy="170.07" r="1.8" fill="#b92500"/><circle cx="335.35" cy="161.83" r="1.8" fill="#ba2600"/><circle cx="422.95" cy="161.83" r="1.8" fill="#ba2600"/><circle cx="339.14" cy="175.35" r="1.8" fill="#ba2700"/><circle cx="426.74" cy="175.35" r="1.8" fill="#ba2700"/><circle cx="342.34" cy="180.92" r="1.8" fill="#bb2800"/><circle cx="429.94" cy="180.92" r="1.8" fill="#bb2800"/><circle cx="345.83" cy="159.37" r="1.8" fill="#bc2900"/><circle cx="433.43" cy="159.37" r="1.8" fill="#bc2900"/><circle cx="349.33" cy="154.17" r="1.8" fill="#bd2a00"/><circle cx="436.93" cy="154.17" r="1.8" fill="#bd2a00"/><circle cx="353.11" cy="169.71" r="1.8" fill="#bd2b00"/><circle cx="440.71" cy="169.71" r="1.8" fill="#bd2b00"/><circle cx="356.61" cy="156.34" r="1.8" fill="#be2c00"/><circle cx="444.21" cy="156.34" r="1.8" fill="#be2c00"/><circle cx="360.10" cy="134.29" r="1.8" fill="#bf2d00"/><circle cx="447.70" cy="134.29" r="1.8" fill="#bf2d00"/><circle cx="363.30" cy="161.98" r="1.8" fill="#bf2d00"/><circle cx="450.90" cy="161.98" r="1.8" fill="#bf2d00"/><circle cx="366.80" cy="152.51" r="1.8" fill="#c02e00"/><circle cx="454.40" cy="152.51" r="1.8" fill="#c02e00"/><circle cx="370.58" cy="161.54" r="1.8" fill="#c13000"/><circle cx="458.18" cy="161.54" r="1.8" fill="#c13000"/><circle cx="374.08" cy="165.59" r="1.8" fill="#c13100"/><circle cx="461.68" cy="165.59" r="1.8" fill="#c13100"/><circle cx="377.86" cy="151.42" r="1.8" fill="#c23200"/><circle cx="465.46" cy="151.42" r="1.8" fill="#c23200"/><circle cx="381.36" cy="170.94" r="1.8" fill="#c33300"/><circle cx="468.96" cy="170.94" r="1.8" fill="#c33300"/><circle cx="384.27" cy="148.02" r="1.8" fill="#c33400"/><circle cx="471.87" cy="148.02" r="1.8" fill="#c33400"/><circle cx="388.64" cy="164.29" r="1.8" fill="#c43500"/><circle cx="476.24" cy="164.29" r="1.8" fill="#c43500"/><circle cx="392.13" cy="168.27" r="1.8" fill="#c53600"/><circle cx="479.73" cy="168.27" r="1.8" fill="#c53600"/><circle cx="395.33" cy="145.35" r="1.8" fill="#c53700"/><circle cx="482.93" cy="145.35" r="1.8" fill="#c53700"/><circle cx="398.83" cy="151.28" r="1.8" fill="#c63800"/><circle cx="486.43" cy="151.28" r="1.8" fill="#c63800"/><circle cx="402.61" cy="170.43" r="1.8" fill="#c73900"/><circle cx="490.21" cy="170.43" r="1.8" fill="#c73900"/><circle cx="406.11" cy="161.76" r="1.8" fill="#c83a00"/><circle cx="493.71" cy="161.76" r="1.8" fill="#c83a00"/><circle cx="322.29" cy="155.40" r="1.8" fill="#c83c00"/><circle cx="409.89" cy="155.40" r="1.8" fill="#c83c00"/><circle cx="339.76" cy="138.99" r="1.8" fill="#cb4200"/><circle cx="427.36" cy="138.99" r="1.8" fill="#cb4200"/><circle cx="343.26" cy="160.31" r="1.8" fill="#cc4300"/><circle cx="430.86" cy="160.31" r="1.8" fill="#cc4300"/><circle cx="346.75" cy="157.78" r="1.8" fill="#cd4400"/><circle cx="434.35" cy="157.78" r="1.8" fill="#cd4400"/><circle cx="350.25" cy="172.39" r="1.8" fill="#cd4600"/><circle cx="437.85" cy="172.39" r="1.8" fill="#cd4600"/><circle cx="354.03" cy="166.24" r="1.8" fill="#ce4700"/><circle cx="441.63" cy="166.24" r="1.8" fill="#ce4700"/><circle cx="357.53" cy="161.98" r="1.8" fill="#cf4800"/><circle cx="445.13" cy="161.98" r="1.8" fill="#cf4800"/><circle cx="361.02" cy="171.16" r="1.8" fill="#cf4a00"/><circle cx="448.62" cy="171.16" r="1.8" fill="#cf4a00"/><circle cx="364.22" cy="172.96" r="1.8" fill="#d04b00"/><circle cx="451.82" cy="172.96" r="1.8" fill="#d04b00"/><circle cx="368.01" cy="168.41" r="1.8" fill="#d14c00"/><circle cx="455.61" cy="168.41" r="1.8" fill="#d14c00"/><circle cx="371.50" cy="156.92" r="1.8" fill="#d14e00"/><circle cx="459.10" cy="156.92" r="1.8" fill="#d14e00"/><circle cx="375.29" cy="158.14" r="1.8" fill="#d24f00"/><circle cx="462.89" cy="158.14" r="1.8" fill="#d24f00"/><circle cx="378.78" cy="161.25" r="1.8" fill="#d35100"/><circle cx="466.38" cy="161.25" r="1.8" fill="#d35100"/><circle cx="382.57" cy="187.78" r="1.8" fill="#d35200"/><circle cx="470.17" cy="187.78" r="1.8" fill="#d35200"/><circle cx="385.77" cy="153.81" r="1.8" fill="#d45400"/><circle cx="473.37" cy="153.81" r="1.8" fill="#d45400"/><circle cx="389.55" cy="167.04" r="1.8" fill="#d45500"/><circle cx="477.15" cy="167.04" r="1.8" fill="#d45500"/><circle cx="393.05" cy="159.59" r="1.8" fill="#d55700"/><circle cx="480.65" cy="159.59" r="1.8" fill="#d55700"/><circle cx="396.25" cy="160.31" r="1.8" fill="#d65800"/><circle cx="483.85" cy="160.31" r="1.8" fill="#d65800"/><circle cx="400.04" cy="148.75" r="1.8" fill="#d65a00"/><circle cx="487.64" cy="148.75" r="1.8" fill="#d65a00"/><circle cx="403.82" cy="149.47" r="1.8" fill="#d75b00"/><circle cx="491.42" cy="149.47" r="1.8" fill="#d75b00"/><circle cx="407.32" cy="151.64" r="1.8" fill="#d85d00"/><circle cx="494.92" cy="151.64" r="1.8" fill="#d85d00"/><circle cx="323.31" cy="149.33" r="1.8" fill="#d85f00"/><circle cx="410.91" cy="149.33" r="1.8" fill="#d85f00"/><circle cx="326.22" cy="162.12" r="1.8" fill="#d96000"/><circle cx="413.82" cy="162.12" r="1.8" fill="#d96000"/><circle cx="329.71" cy="167.40" r="1.8" fill="#d96200"/><circle cx="417.31" cy="167.40" r="1.8" fill="#d96200"/><circle cx="333.50" cy="157.78" r="1.8" fill="#da6300"/><circle cx="421.10" cy="157.78" r="1.8" fill="#da6300"/><circle cx="336.99" cy="175.13" r="1.8" fill="#db6500"/><circle cx="424.59" cy="175.13" r="1.8" fill="#db6500"/><circle cx="340.78" cy="168.27" r="1.8" fill="#db6700"/><circle cx="428.38" cy="168.27" r="1.8" fill="#db6700"/><circle cx="343.69" cy="167.40" r="1.8" fill="#dc6800"/><circle cx="431.29" cy="167.40" r="1.8" fill="#dc6800"/><circle cx="347.48" cy="168.27" r="1.8" fill="#dc6a00"/><circle cx="435.08" cy="168.27" r="1.8" fill="#dc6a00"/><circle cx="350.97" cy="171.52" r="1.8" fill="#dd6c00"/><circle cx="438.57" cy="171.52" r="1.8" fill="#dd6c00"/><circle cx="354.75" cy="168.99" r="1.8" fill="#de6e00"/><circle cx="442.35" cy="168.99" r="1.8" fill="#de6e00"/><circle cx="358.25" cy="162.48" r="1.8" fill="#de7000"/><circle cx="445.85" cy="162.48" r="1.8" fill="#de7000"/><circle cx="361.74" cy="166.46" r="1.8" fill="#df7100"/><circle cx="449.34" cy="166.46" r="1.8" fill="#df7100"/><circle cx="365.53" cy="159.37" r="1.8" fill="#df7300"/><circle cx="453.13" cy="159.37" r="1.8" fill="#df7300"/><circle cx="369.02" cy="166.67" r="1.8" fill="#e07500"/><circle cx="456.62" cy="166.67" r="1.8" fill="#e07500"/><circle cx="372.81" cy="175.86" r="1.8" fill="#e17700"/><circle cx="460.41" cy="175.86" r="1.8" fill="#e17700"/><circle cx="376.30" cy="167.18" r="1.8" fill="#e17900"/><circle cx="463.90" cy="167.18" r="1.8" fill="#e17900"/><circle cx="380.09" cy="173.18" r="1.8" fill="#e27b00"/><circle cx="467.69" cy="173.18" r="1.8" fill="#e27b00"/><circle cx="393.77" cy="160.46" r="1.8" fill="#e48300"/><circle cx="481.37" cy="160.46" r="1.8" fill="#e48300"/><circle cx="397.27" cy="151.42" r="1.8" fill="#e58500"/><circle cx="484.87" cy="151.42" r="1.8" fill="#e58500"/><circle cx="400.76" cy="146.80" r="1.8" fill="#e58700"/><circle cx="488.36" cy="146.80" r="1.8" fill="#e58700"/><circle cx="404.25" cy="153.81" r="1.8" fill="#e68900"/><circle cx="491.85" cy="153.81" r="1.8" fill="#e68900"/><circle cx="320.15" cy="171.52" r="1.8" fill="#e68b00"/><circle cx="407.75" cy="171.52" r="1.8" fill="#e68b00"/><circle cx="323.93" cy="173.47" r="1.8" fill="#e78d00"/><circle cx="411.53" cy="173.47" r="1.8" fill="#e78d00"/><circle cx="327.43" cy="156.34" r="1.8" fill="#e88f00"/><circle cx="415.03" cy="156.34" r="1.8" fill="#e88f00"/><circle cx="337.62" cy="162.34" r="1.8" fill="#e99500"/><circle cx="425.22" cy="162.34" r="1.8" fill="#e99500"/><circle cx="341.40" cy="162.84" r="1.8" fill="#ea9700"/><circle cx="429.00" cy="162.84" r="1.8" fill="#ea9700"/><circle cx="344.90" cy="151.13" r="1.8" fill="#ea9a00"/><circle cx="432.50" cy="151.13" r="1.8" fill="#ea9a00"/><circle cx="348.68" cy="166.10" r="1.8" fill="#eb9c00"/><circle cx="436.28" cy="166.10" r="1.8" fill="#eb9c00"/><circle cx="352.18" cy="163.93" r="1.8" fill="#ec9e00"/><circle cx="439.78" cy="163.93" r="1.8" fill="#ec9e00"/><circle cx="355.67" cy="151.28" r="1.8" fill="#eca100"/><circle cx="443.27" cy="151.28" r="1.8" fill="#eca100"/><circle cx="362.95" cy="161.76" r="1.8" fill="#eda500"/><circle cx="450.55" cy="161.76" r="1.8" fill="#eda500"/><circle cx="366.15" cy="158.36" r="1.8" fill="#eea700"/><circle cx="453.75" cy="158.36" r="1.8" fill="#eea700"/><circle cx="369.65" cy="167.04" r="1.8" fill="#eeaa00"/><circle cx="457.25" cy="167.04" r="1.8" fill="#eeaa00"/><circle cx="373.43" cy="196.82" r="1.8" fill="#efac00"/><circle cx="461.03" cy="196.82" r="1.8" fill="#efac00"/><circle cx="376.93" cy="185.83" r="1.8" fill="#efaf00"/><circle cx="464.53" cy="185.83" r="1.8" fill="#efaf00"/><circle cx="380.71" cy="172.60" r="1.8" fill="#f0b100"/><circle cx="468.31" cy="172.60" r="1.8" fill="#f0b100"/><circle cx="384.21" cy="160.10" r="1.8" fill="#f1b400"/><circle cx="471.81" cy="160.10" r="1.8" fill="#f1b400"/><circle cx="387.70" cy="171.37" r="1.8" fill="#f1b600"/><circle cx="475.30" cy="171.37" r="1.8" fill="#f1b600"/><circle cx="391.49" cy="175.49" r="1.8" fill="#f2b900"/><circle cx="479.09" cy="175.49" r="1.8" fill="#f2b900"/><circle cx="394.69" cy="141.37" r="1.8" fill="#f2bb00"/><circle cx="482.29" cy="141.37" r="1.8" fill="#f2bb00"/><circle cx="398.18" cy="144.05" r="1.8" fill="#f3be00"/><circle cx="485.78" cy="144.05" r="1.8" fill="#f3be00"/><circle cx="401.68" cy="149.33" r="1.8" fill="#f3c000"/><circle cx="489.28" cy="149.33" r="1.8" fill="#f3c000"/><circle cx="405.46" cy="149.69" r="1.8" fill="#f4c300"/><circle cx="493.06" cy="149.69" r="1.8" fill="#f4c300"/><circle cx="321.36" cy="162.48" r="1.8" fill="#f4c600"/><circle cx="408.96" cy="162.48" r="1.8" fill="#f4c600"/><circle cx="325.14" cy="180.34" r="1.8" fill="#f5c800"/><circle cx="412.74" cy="180.34" r="1.8" fill="#f5c800"/><circle cx="331.55" cy="188.36" r="1.8" fill="#f6cd00"/><circle cx="419.15" cy="188.36" r="1.8" fill="#f6cd00"/><circle cx="335.04" cy="172.46" r="1.8" fill="#f6d000"/><circle cx="422.64" cy="172.46" r="1.8" fill="#f6d000"/><circle cx="338.83" cy="191.25" r="1.8" fill="#f7d300"/><circle cx="426.43" cy="191.25" r="1.8" fill="#f7d300"/><circle cx="342.32" cy="196.24" r="1.8" fill="#f8d600"/><circle cx="429.92" cy="196.24" r="1.8" fill="#f8d600"/></g>
<rect x="499.20" y="127.65" width="9.20" height="72.00" fill="url(#pal)" stroke="#222" stroke-width="0.6"/>
<text transform="translate(517.00 202.95)" text-anchor="start" font-size="10.1">23</text>
<text transform="translate(517.00 188.55)" text-anchor="start" font-size="10.1">24</text>
<text transform="translate(517.00 174.15)" text-anchor="start" font-size="10.1">25</text>
<text transform="translate(517.00 159.75)" text-anchor="start" font-size="10.1">26</text>
<text transform="translate(517.00 145.35)" text-anchor="start" font-size="10.1">27</text>
<text transform="translate(517.00 130.95)" text-anchor="start" font-size="10.1">28</text>
<path d="M499.20 185.25H508.40 M499.20 170.85H508.40 M499.20 156.45H508.40 M499.20 142.05H508.40" stroke="#000" stroke-width="0.6"/>
<text transform="translate(610.00 213.25)" text-anchor="middle" font-size="10.1">0</text>
<text transform="translate(625.65 213.25)" text-anchor="middle" font-size="10.1">2</text>
<text transform="translate(641.31 213.25)" text-anchor="middle" font-size="10.1">4</text>
<text transform="translate(656.96 213.25)" text-anchor="middle" font-size="10.1">6</text>
<text transform="translate(672.62 213.25)" text-anchor="middle" font-size="10.1">8</text>
<text transform="translate(688.27 213.25)" text-anchor="middle" font-size="10.1">10</text>
<text transform="translate(703.92 213.25)" text-anchor="middle" font-size="10.1">12</text>
<text transform="translate(719.58 213.25)" text-anchor="middle" font-size="10.1">14</text>
<text transform="translate(735.23 213.25)" text-anchor="middle" font-size="10.1">16</text>
<text transform="translate(750.88 213.25)" text-anchor="middle" font-size="10.1">18</text>
<text transform="translate(766.54 213.25)" text-anchor="middle" font-size="10.1">20</text>
<text transform="translate(782.19 213.25)" text-anchor="middle" font-size="10.1">22</text>
<text transform="translate(797.85 213.25)" text-anchor="middle" font-size="10.1">24</text>
<text transform="translate(813.50 213.25)" text-anchor="middle" font-size="10.1">26</text>
<text transform="translate(603.10 203.05)" text-anchor="end" font-size="10.1">0.38</text>
<text transform="translate(603.10 185.05)" text-anchor="end" font-size="10.1">0.39</text>
<text transform="translate(603.10 167.05)" text-anchor="end" font-size="10.1">0.4</text>
<text transform="translate(603.10 149.05)" text-anchor="end" font-size="10.1">0.41</text>
<text transform="translate(603.10 131.05)" text-anchor="end" font-size="10.1">0.42</text>
<path d="M608.90 199.65v-4.60 M608.90 127.65v4.60 M612.81 199.65v-2.30 M612.81 127.65v2.30 M616.73 199.65v-2.30 M616.73 127.65v2.30 M620.64 199.65v-2.30 M620.64 127.65v2.30 M624.55 199.65v-4.60 M624.55 127.65v4.60 M628.47 199.65v-2.30 M628.47 127.65v2.30 M632.38 199.65v-2.30 M632.38 127.65v2.30 M636.29 199.65v-2.30 M636.29 127.65v2.30 M640.21 199.65v-4.60 M640.21 127.65v4.60 M644.12 199.65v-2.30 M644.12 127.65v2.30 M648.03 199.65v-2.30 M648.03 127.65v2.30 M651.95 199.65v-2.30 M651.95 127.65v2.30 M655.86 199.65v-4.60 M655.86 127.65v4.60 M659.77 199.65v-2.30 M659.77 127.65v2.30 M663.69 199.65v-2.30 M663.69 127.65v2.30 M667.60 199.65v-2.30 M667.60 127.65v2.30 M671.52 199.65v-4.60 M671.52 127.65v4.60 M675.43 199.65v-2.30 M675.43 127.65v2.30 M679.34 199.65v-2.30 M679.34 127.65v2.30 M683.26 199.65v-2.30 M683.26 127.65v2.30 M687.17 199.65v-4.60 M687.17 127.65v4.60 M691.08 199.65v-2.30 M691.08 127.65v2.30 M695.00 199.65v-2.30 M695.00 127.65v2.30 M698.91 199.65v-2.30 M698.91 127.65v2.30 M702.82 199.65v-4.60 M702.82 127.65v4.60 M706.74 199.65v-2.30 M706.74 127.65v2.30 M710.65 199.65v-2.30 M710.65 127.65v2.30 M714.56 199.65v-2.30 M714.56 127.65v2.30 M718.48 199.65v-4.60 M718.48 127.65v4.60 M722.39 199.65v-2.30 M722.39 127.65v2.30 M726.30 199.65v-2.30 M726.30 127.65v2.30 M730.22 199.65v-2.30 M730.22 127.65v2.30 M734.13 199.65v-4.60 M734.13 127.65v4.60 M738.04 199.65v-2.30 M738.04 127.65v2.30 M741.96 199.65v-2.30 M741.96 127.65v2.30 M745.87 199.65v-2.30 M745.87 127.65v2.30 M749.78 199.65v-4.60 M749.78 127.65v4.60 M753.70 199.65v-2.30 M753.70 127.65v2.30 M757.61 199.65v-2.30 M757.61 127.65v2.30 M761.52 199.65v-2.30 M761.52 127.65v2.30 M765.44 199.65v-4.60 M765.44 127.65v4.60 M769.35 199.65v-2.30 M769.35 127.65v2.30 M773.27 199.65v-2.30 M773.27 127.65v2.30 M777.18 199.65v-2.30 M777.18 127.65v2.30 M781.09 199.65v-4.60 M781.09 127.65v4.60 M785.01 199.65v-2.30 M785.01 127.65v2.30 M788.92 199.65v-2.30 M788.92 127.65v2.30 M792.83 199.65v-2.30 M792.83 127.65v2.30 M796.75 199.65v-4.60 M796.75 127.65v4.60 M800.66 199.65v-2.30 M800.66 127.65v2.30 M804.57 199.65v-2.30 M804.57 127.65v2.30 M808.49 199.65v-2.30 M808.49 127.65v2.30 M812.40 199.65v-4.60 M812.40 127.65v4.60 M608.90 199.65h4.60 M812.40 199.65h-4.60 M608.90 196.05h2.30 M812.40 196.05h-2.30 M608.90 192.45h2.30 M812.40 192.45h-2.30 M608.90 188.85h2.30 M812.40 188.85h-2.30 M608.90 185.25h2.30 M812.40 185.25h-2.30 M608.90 181.65h4.60 M812.40 181.65h-4.60 M608.90 178.05h2.30 M812.40 178.05h-2.30 M608.90 174.45h2.30 M812.40 174.45h-2.30 M608.90 170.85h2.30 M812.40 170.85h-2.30 M608.90 167.25h2.30 M812.40 167.25h-2.30 M608.90 163.65h4.60 M812.40 163.65h-4.60 M608.90 160.05h2.30 M812.40 160.05h-2.30 M608.90 156.45h2.30 M812.40 156.45h-2.30 M608.90 152.85h2.30 M812.40 152.85h-2.30 M608.90 149.25h2.30 M812.40 149.25h-2.30 M608.90 145.65h4.60 M812.40 145.65h-4.60 M608.90 142.05h2.30 M812.40 142.05h-2.30 M608.90 138.45h2.30 M812.40 138.45h-2.30 M608.90 134.85h2.30 M812.40 134.85h-2.30 M608.90 131.25h2.30 M812.40 131.25h-2.30 M608.90 127.65h4.60 M812.40 127.65h-4.60" stroke="#000" stroke-width="0.6" fill="none"/>
<rect x="608.90" y="127.65" width="203.50" height="72.00" fill="none" stroke="#000" stroke-width="1.1"/>
<text transform="translate(710.25 228.35)" text-anchor="middle" font-size="9.0" textLength="61.20" lengthAdjust="spacingAndGlyphs">Frequency (1/d)</text>
<text transform="translate(564.50 163.85) rotate(-90)" text-anchor="middle" font-size="9.0" textLength="68.20" lengthAdjust="spacingAndGlyphs">Phase disp (mag)</text>
<path d="M609.05 132.12 L609.39 138.87 L610.06 131.28 L610.73 135.49 L611.33 130.43 L612.59 129.42 L613.86 130.01 L615.54 142.66 L616.81 132.12 L617.65 130.01 L618.49 134.65 L619.51 130.86 L620.60 129.59 L621.87 129.42 L623.13 132.12 L624.57 154.47 L625.92 134.65 L626.76 130.01 L627.77 136.34 L628.78 131.28 L629.63 129.59 L630.72 132.96 L631.82 140.55 L632.83 151.52 L633.84 137.18 L634.69 130.43 L635.53 143.08 L636.37 158.27 L637.39 138.87 L638.23 130.43 L639.16 147.30 L639.70 191.58 L640.25 151.52 L641.27 134.65 L642.11 130.43 L642.95 138.87 L643.63 148.57 L644.47 137.18 L645.48 130.01 L646.75 134.65 L648.01 144.77 L649.02 132.96 L649.87 129.59 L650.71 135.07 L651.81 131.28 L653.07 130.01 L654.76 129.42 L656.45 130.01 L657.46 130.86 L658.55 132.96 L659.65 130.43 L660.66 129.76 L661.93 132.12 L662.77 134.65 L663.61 133.81 L664.46 137.60 L665.55 131.28 L666.99 129.76 L669.10 129.59 L670.78 130.43 L671.63 132.12 L672.47 130.43 L673.00 130.01 L674.27 131.28 L675.53 130.01 L677.22 130.86 L678.90 130.01 L680.59 129.59 L681.86 132.12 L683.12 137.60 L684.39 130.43 L685.65 137.18 L686.92 130.43 L688.18 132.54 L689.45 130.01 L690.29 135.49 L691.13 142.24 L692.23 134.65 L693.24 129.59 L694.51 131.28 L695.77 134.65 L697.04 130.43 L698.30 129.42 L699.99 130.01 L702.10 131.70 L703.36 130.43 L704.63 131.28 L706.31 130.01 L707.58 131.28 L708.84 136.34 L710.11 131.28 L711.37 129.42 L712.22 134.65 L712.81 145.61 L713.48 151.52 L714.16 145.61 L714.83 134.65 L715.59 129.59 L716.86 132.12 L717.95 136.34 L718.96 131.28 L719.81 129.42 L721.07 130.43 L722.34 133.81 L723.60 136.76 L724.87 132.96 L726.13 129.76 L727.40 131.28 L728.66 134.65 L729.93 131.28 L731.19 129.59 L733.72 130.43 L735.41 129.59 L737.52 130.01 L738.78 131.28 L740.05 135.92 L740.89 132.12 L741.00 130.92 L742.34 130.47 L743.50 135.37 L744.39 143.40 L745.28 133.59 L746.17 130.02 L747.24 131.81 L748.13 133.59 L749.20 137.60 L750.09 131.81 L751.25 129.58 L752.41 130.92 L753.48 132.25 L754.55 129.58 L756.60 129.13 L758.83 129.58 L760.17 133.59 L761.51 130.02 L763.29 129.58 L764.63 132.70 L765.96 135.82 L767.03 131.81 L768.19 129.58 L769.98 130.20 L771.76 129.13 L772.92 134.48 L773.81 138.94 L774.70 133.59 L775.77 129.31 L777.55 129.13 L778.45 131.36 L779.34 133.14 L780.41 130.47 L781.57 129.13 L783.80 128.95 L785.13 130.92 L786.29 133.41 L787.36 130.47 L788.70 128.95 L790.93 128.95 L792.27 130.02 L793.60 128.95 L795.39 128.95 L796.46 130.92 L797.35 129.13 L799.84 128.78 L803.68 128.78" stroke="#111" stroke-width="0.7" fill="none" stroke-linejoin="round"/>
<path d="M639.75 131.05V164.05" stroke="#ff0000" stroke-opacity="0.58" stroke-width="1.15"/>
<text transform="translate(44.60 329.50)" text-anchor="middle" font-size="10.1">15</text>
<text transform="translate(87.64 329.50)" text-anchor="middle" font-size="10.1">16</text>
<text transform="translate(130.68 329.50)" text-anchor="middle" font-size="10.1">17</text>
<text transform="translate(173.72 329.50)" text-anchor="middle" font-size="10.1">18</text>
<text transform="translate(216.76 329.50)" text-anchor="middle" font-size="10.1">19</text>
<text transform="translate(259.80 329.50)" text-anchor="middle" font-size="10.1">20</text>
<text transform="translate(37.00 266.50)" text-anchor="end" font-size="10.1">21</text>
<text transform="translate(37.00 290.50)" text-anchor="end" font-size="10.1">22</text>
<text transform="translate(37.00 314.50)" text-anchor="end" font-size="10.1">23</text>
<path d="M43.50 315.90v-4.60 M43.50 243.90v4.60 M52.11 315.90v-2.30 M52.11 243.90v2.30 M60.72 315.90v-2.30 M60.72 243.90v2.30 M69.32 315.90v-2.30 M69.32 243.90v2.30 M77.93 315.90v-2.30 M77.93 243.90v2.30 M86.54 315.90v-4.60 M86.54 243.90v4.60 M95.15 315.90v-2.30 M95.15 243.90v2.30 M103.76 315.90v-2.30 M103.76 243.90v2.30 M112.36 315.90v-2.30 M112.36 243.90v2.30 M120.97 315.90v-2.30 M120.97 243.90v2.30 M129.58 315.90v-4.60 M129.58 243.90v4.60 M138.19 315.90v-2.30 M138.19 243.90v2.30 M146.80 315.90v-2.30 M146.80 243.90v2.30 M155.40 315.90v-2.30 M155.40 243.90v2.30 M164.01 315.90v-2.30 M164.01 243.90v2.30 M172.62 315.90v-4.60 M172.62 243.90v4.60 M181.23 315.90v-2.30 M181.23 243.90v2.30 M189.84 315.90v-2.30 M189.84 243.90v2.30 M198.44 315.90v-2.30 M198.44 243.90v2.30 M207.05 315.90v-2.30 M207.05 243.90v2.30 M215.66 315.90v-4.60 M215.66 243.90v4.60 M224.27 315.90v-2.30 M224.27 243.90v2.30 M232.88 315.90v-2.30 M232.88 243.90v2.30 M241.48 315.90v-2.30 M241.48 243.90v2.30 M250.09 315.90v-2.30 M250.09 243.90v2.30 M258.70 315.90v-4.60 M258.70 243.90v4.60 M43.50 243.90h2.30 M258.70 243.90h-2.30 M43.50 248.70h2.30 M258.70 248.70h-2.30 M43.50 253.50h2.30 M258.70 253.50h-2.30 M43.50 258.30h2.30 M258.70 258.30h-2.30 M43.50 263.10h4.60 M258.70 263.10h-4.60 M43.50 267.90h2.30 M258.70 267.90h-2.30 M43.50 272.70h2.30 M258.70 272.70h-2.30 M43.50 277.50h2.30 M258.70 277.50h-2.30 M43.50 282.30h2.30 M258.70 282.30h-2.30 M43.50 287.10h4.60 M258.70 287.10h-4.60 M43.50 291.90h2.30 M258.70 291.90h-2.30 M43.50 296.70h2.30 M258.70 296.70h-2.30 M43.50 301.50h2.30 M258.70 301.50h-2.30 M43.50 306.30h2.30 M258.70 306.30h-2.30 M43.50 311.10h4.60 M258.70 311.10h-4.60 M43.50 315.90h2.30 M258.70 315.90h-2.30" stroke="#000" stroke-width="0.6" fill="none"/>
<rect x="43.50" y="243.90" width="215.20" height="72.00" fill="none" stroke="#000" stroke-width="1.1"/>
<text transform="translate(150.70 344.60)" text-anchor="middle" font-size="9.0" textLength="68.00" lengthAdjust="spacingAndGlyphs">BJD−2457400 (d)</text>
<text transform="translate(11.60 280.10) rotate(-90)" text-anchor="middle" font-size="9.0" textLength="30.00" lengthAdjust="spacingAndGlyphs">Kp mag</text>
<path d="M72.02 269.61V274.78 M72.89 268.76V273.74 M73.76 276.21V283.21 M74.70 278.55V286.37 M75.57 257.65V260.71 M76.51 277.01V284.29 M77.23 271.03V276.54 M78.10 272.62V278.56 M79.04 274.21V280.59 M79.76 293.85V311.54 M80.70 274.21V280.59 M81.57 274.84V281.41 M82.43 269.74V274.94 M83.37 269.28V274.38 M84.24 273.58V279.77 M85.04 268.44V273.35 M85.90 274.40V280.83 M86.77 272.62V278.56 M87.71 271.15V276.70 M88.58 280.83V289.57 M89.52 265.29V269.56 M90.39 278.06V285.70 M91.33 285.86V297.12 M92.19 279.46V287.63 M93.13 274.21V280.59 M93.86 282.43V291.88 M94.80 276.89V284.12 M95.66 270.70V276.14 M96.60 272.18V277.99 M97.47 281.72V290.85 M98.41 268.24V273.11 M99.28 278.85V286.79 M100.22 277.32V284.70 M101.08 274.40V280.83 M101.81 274.52V281.00 M102.75 279.76V288.05 M103.61 280.66V289.32 M104.55 267.98V272.79 M105.42 274.71V281.24 M106.36 276.89V284.12 M107.23 267.78V272.55 M107.95 270.51V275.90 M109.04 271.35V276.94 M109.90 271.54V277.18 M111.57 264.49V268.62 M112.43 271.99V277.75 M113.37 272.31V278.15 M114.24 278.42V286.20 M115.04 287.52V299.81 M115.90 282.84V292.49 M116.84 272.94V278.96 M118.58 259.81V263.17 M119.52 263.16V267.05 M121.33 265.49V269.79 M122.05 277.81V285.37 M122.99 290.32V304.66 M124.72 280.06V288.47 M125.66 281.07V289.92 M126.53 274.21V280.59 M127.47 273.26V279.37 M128.41 267.78V272.55 M129.28 269.41V274.54 M129.86 279.76V288.05 M130.89 276.08V283.05 M132.70 257.65V260.71 M133.57 268.11V272.95 M134.36 264.16V268.22 M135.23 282.02V291.28 M136.17 285.98V297.30 M138.84 282.84V292.49 M139.57 263.50V267.44 M140.43 271.35V276.94 M141.37 265.16V269.40 M142.24 269.61V274.78 M145.71 257.99V261.10 M147.52 257.45V260.48 M148.46 269.61V274.78 M152.80 289.28V302.81 M153.66 273.58V279.77 M154.60 273.89V280.18 M156.41 279.76V288.05 M158.00 281.96V291.20 M159.08 281.55V290.60 M170.43 269.86V275.10 M171.37 267.78V272.55 M172.24 274.40V280.83 M173.18 270.90V276.38 M174.05 265.49V269.79 M174.99 264.36V268.46 M175.71 263.36V267.29 M176.58 262.36V266.12 M178.39 285.75V296.95 M180.99 288.17V300.89 M181.71 279.27V287.38 M182.72 257.24V260.25 M183.52 254.38V257.04 M184.53 276.89V284.12 M186.19 267.98V272.79 M187.28 275.46V282.23 M187.64 270.70V276.14 M188.89 271.99V277.75 M189.76 277.01V284.29 M190.70 280.95V289.75 M191.57 278.24V285.95 M192.51 275.77V282.64 M193.23 274.40V280.83 M194.17 273.58V279.77 M195.40 269.61V274.78 M196.84 274.21V280.59 M197.57 277.94V285.53 M198.43 275.77V282.64 M199.37 276.70V283.87 M200.24 277.63V285.12 M201.18 276.08V283.05 M202.05 280.95V289.75 M202.99 275.46V282.23 M204.65 268.11V272.95 M205.52 274.40V280.83 M206.46 267.46V272.16 M207.33 272.62V278.56 M208.05 267.00V271.60 M209.13 279.33V287.46 M210.00 284.62V295.18 M210.94 278.24V285.95 M212.60 288.60V301.62 M213.47 276.39V283.46 M214.41 272.43V278.31 M215.28 277.01V284.29 M216.22 267.78V272.55 M217.08 274.08V280.43 M218.02 269.28V274.38 M218.89 270.70V276.14 M222.36 271.35V276.94 M223.23 277.81V285.37 M224.10 273.89V280.18 M225.04 277.63V285.12 M225.76 279.58V287.80 M226.63 269.74V274.94 M227.57 274.21V280.59 M228.43 265.29V269.56 M229.37 268.76V273.74 M230.24 274.40V280.83 M231.18 277.32V284.70 M232.05 278.85V286.79 M232.99 277.63V285.12 M233.71 279.15V287.21 M234.58 286.14V297.57 M236.39 276.27V283.30 M237.33 277.44V284.87 M238.19 267.65V272.39 M238.99 263.36V267.29 M245.64 276.08V283.05" stroke="#d0d0d0" stroke-width="0.9" fill="none"/>
<g fill="#000"><circle cx="72.02" cy="272.19" r="1.65"/><circle cx="72.89" cy="271.25" r="1.65"/><circle cx="73.76" cy="279.71" r="1.65"/><circle cx="74.70" cy="282.46" r="1.65"/><circle cx="75.57" cy="259.18" r="1.65"/><circle cx="76.51" cy="280.65" r="1.65"/><circle cx="77.23" cy="273.78" r="1.65"/><circle cx="78.10" cy="275.59" r="1.65"/><circle cx="79.04" cy="277.40" r="1.65"/><circle cx="79.76" cy="302.70" r="1.65"/><circle cx="80.70" cy="277.40" r="1.65"/><circle cx="81.57" cy="278.12" r="1.65"/><circle cx="82.43" cy="272.34" r="1.65"/><circle cx="83.37" cy="271.83" r="1.65"/><circle cx="84.24" cy="276.67" r="1.65"/><circle cx="85.04" cy="270.89" r="1.65"/><circle cx="85.90" cy="277.61" r="1.65"/><circle cx="86.77" cy="275.59" r="1.65"/><circle cx="87.71" cy="273.93" r="1.65"/><circle cx="88.58" cy="285.20" r="1.65"/><circle cx="89.52" cy="267.42" r="1.65"/><circle cx="90.39" cy="281.88" r="1.65"/><circle cx="91.33" cy="291.49" r="1.65"/><circle cx="92.19" cy="283.54" r="1.65"/><circle cx="93.13" cy="277.40" r="1.65"/><circle cx="93.86" cy="287.16" r="1.65"/><circle cx="94.80" cy="280.51" r="1.65"/><circle cx="95.66" cy="273.42" r="1.65"/><circle cx="96.60" cy="275.08" r="1.65"/><circle cx="97.47" cy="286.29" r="1.65"/><circle cx="98.41" cy="270.67" r="1.65"/><circle cx="99.28" cy="282.82" r="1.65"/><circle cx="100.22" cy="281.01" r="1.65"/><circle cx="101.08" cy="277.61" r="1.65"/><circle cx="101.81" cy="277.76" r="1.65"/><circle cx="102.75" cy="283.90" r="1.65"/><circle cx="103.61" cy="284.99" r="1.65"/><circle cx="104.55" cy="270.39" r="1.65"/><circle cx="105.42" cy="277.98" r="1.65"/><circle cx="106.36" cy="280.51" r="1.65"/><circle cx="107.23" cy="270.17" r="1.65"/><circle cx="107.95" cy="273.20" r="1.65"/><circle cx="109.04" cy="274.14" r="1.65"/><circle cx="109.90" cy="274.36" r="1.65"/><circle cx="111.57" cy="266.55" r="1.65"/><circle cx="112.43" cy="274.87" r="1.65"/><circle cx="113.37" cy="275.23" r="1.65"/><circle cx="114.24" cy="282.31" r="1.65"/><circle cx="115.04" cy="293.66" r="1.65"/><circle cx="115.90" cy="287.66" r="1.65"/><circle cx="116.84" cy="275.95" r="1.65"/><circle cx="118.58" cy="261.49" r="1.65"/><circle cx="119.52" cy="265.11" r="1.65"/><circle cx="121.33" cy="267.64" r="1.65"/><circle cx="122.05" cy="281.59" r="1.65"/><circle cx="122.99" cy="297.49" r="1.65"/><circle cx="124.72" cy="284.27" r="1.65"/><circle cx="125.66" cy="285.49" r="1.65"/><circle cx="126.53" cy="277.40" r="1.65"/><circle cx="127.47" cy="276.31" r="1.65"/><circle cx="128.41" cy="270.17" r="1.65"/><circle cx="129.28" cy="271.98" r="1.65"/><circle cx="129.86" cy="283.90" r="1.65"/><circle cx="130.89" cy="279.57" r="1.65"/><circle cx="132.70" cy="259.18" r="1.65"/><circle cx="133.57" cy="270.53" r="1.65"/><circle cx="134.36" cy="266.19" r="1.65"/><circle cx="135.23" cy="286.65" r="1.65"/><circle cx="136.17" cy="291.64" r="1.65"/><circle cx="138.84" cy="287.66" r="1.65"/><circle cx="139.57" cy="265.47" r="1.65"/><circle cx="140.43" cy="274.14" r="1.65"/><circle cx="141.37" cy="267.28" r="1.65"/><circle cx="142.24" cy="272.19" r="1.65"/><circle cx="145.71" cy="259.54" r="1.65"/><circle cx="147.52" cy="258.96" r="1.65"/><circle cx="148.46" cy="272.19" r="1.65"/><circle cx="152.80" cy="296.05" r="1.65"/><circle cx="153.66" cy="276.67" r="1.65"/><circle cx="154.60" cy="277.04" r="1.65"/><circle cx="156.41" cy="283.90" r="1.65"/><circle cx="158.00" cy="286.58" r="1.65"/><circle cx="159.08" cy="286.07" r="1.65"/><circle cx="170.43" cy="272.48" r="1.65"/><circle cx="171.37" cy="270.17" r="1.65"/><circle cx="172.24" cy="277.61" r="1.65"/><circle cx="173.18" cy="273.64" r="1.65"/><circle cx="174.05" cy="267.64" r="1.65"/><circle cx="174.99" cy="266.41" r="1.65"/><circle cx="175.71" cy="265.33" r="1.65"/><circle cx="176.58" cy="264.24" r="1.65"/><circle cx="178.39" cy="291.35" r="1.65"/><circle cx="180.99" cy="294.53" r="1.65"/><circle cx="181.71" cy="283.33" r="1.65"/><circle cx="182.72" cy="258.75" r="1.65"/><circle cx="183.52" cy="255.71" r="1.65"/><circle cx="184.53" cy="280.51" r="1.65"/><circle cx="186.19" cy="270.39" r="1.65"/><circle cx="187.28" cy="278.84" r="1.65"/><circle cx="187.64" cy="273.42" r="1.65"/><circle cx="188.89" cy="274.87" r="1.65"/><circle cx="189.76" cy="280.65" r="1.65"/><circle cx="190.70" cy="285.35" r="1.65"/><circle cx="191.57" cy="282.10" r="1.65"/><circle cx="192.51" cy="279.20" r="1.65"/><circle cx="193.23" cy="277.61" r="1.65"/><circle cx="194.17" cy="276.67" r="1.65"/><circle cx="195.40" cy="272.19" r="1.65"/><circle cx="196.84" cy="277.40" r="1.65"/><circle cx="197.57" cy="281.73" r="1.65"/><circle cx="198.43" cy="279.20" r="1.65"/><circle cx="199.37" cy="280.29" r="1.65"/><circle cx="200.24" cy="281.37" r="1.65"/><circle cx="201.18" cy="279.57" r="1.65"/><circle cx="202.05" cy="285.35" r="1.65"/><circle cx="202.99" cy="278.84" r="1.65"/><circle cx="204.65" cy="270.53" r="1.65"/><circle cx="205.52" cy="277.61" r="1.65"/><circle cx="206.46" cy="269.81" r="1.65"/><circle cx="207.33" cy="275.59" r="1.65"/><circle cx="208.05" cy="269.30" r="1.65"/><circle cx="209.13" cy="283.40" r="1.65"/><circle cx="210.00" cy="289.90" r="1.65"/><circle cx="210.94" cy="282.10" r="1.65"/><circle cx="212.60" cy="295.11" r="1.65"/><circle cx="213.47" cy="279.93" r="1.65"/><circle cx="214.41" cy="275.37" r="1.65"/><circle cx="215.28" cy="280.65" r="1.65"/><circle cx="216.22" cy="270.17" r="1.65"/><circle cx="217.08" cy="277.25" r="1.65"/><circle cx="218.02" cy="271.83" r="1.65"/><circle cx="218.89" cy="273.42" r="1.65"/><circle cx="222.36" cy="274.14" r="1.65"/><circle cx="223.23" cy="281.59" r="1.65"/><circle cx="224.10" cy="277.04" r="1.65"/><circle cx="225.04" cy="281.37" r="1.65"/><circle cx="225.76" cy="283.69" r="1.65"/><circle cx="226.63" cy="272.34" r="1.65"/><circle cx="227.57" cy="277.40" r="1.65"/><circle cx="228.43" cy="267.42" r="1.65"/><circle cx="229.37" cy="271.25" r="1.65"/><circle cx="230.24" cy="277.61" r="1.65"/><circle cx="231.18" cy="281.01" r="1.65"/><circle cx="232.05" cy="282.82" r="1.65"/><circle cx="232.99" cy="281.37" r="1.65"/><circle cx="233.71" cy="283.18" r="1.65"/><circle cx="234.58" cy="291.86" r="1.65"/><circle cx="236.39" cy="279.78" r="1.65"/><circle cx="237.33" cy="281.16" r="1.65"/><circle cx="238.19" cy="270.02" r="1.65"/><circle cx="238.99" cy="265.33" r="1.65"/><circle cx="245.64" cy="279.57" r="1.65"/></g>
<text transform="translate(58.80 310.10)" text-anchor="start" font-size="10.1">448647</text>
<text transform="translate(321.20 329.50)" text-anchor="middle" font-size="10.1">0</text>
<text transform="translate(343.10 329.50)" text-anchor="middle" font-size="10.1">0.25</text>
<text transform="translate(365.00 329.50)" text-anchor="middle" font-size="10.1">0.5</text>
<text transform="translate(386.90 329.50)" text-anchor="middle" font-size="10.1">0.75</text>
<text transform="translate(408.80 329.50)" text-anchor="middle" font-size="10.1">1</text>
<text transform="translate(430.70 329.50)" text-anchor="middle" font-size="10.1">1.25</text>
<text transform="translate(452.60 329.50)" text-anchor="middle" font-size="10.1">1.5</text>
<text transform="translate(474.50 329.50)" text-anchor="middle" font-size="10.1">1.75</text>
<text transform="translate(496.40 329.50)" text-anchor="middle" font-size="10.1">2</text>
<text transform="translate(313.60 266.50)" text-anchor="end" font-size="10.1">21</text>
<text transform="translate(313.60 290.50)" text-anchor="end" font-size="10.1">22</text>
<text transform="translate(313.60 314.50)" text-anchor="end" font-size="10.1">23</text>
<path d="M320.10 315.90v-4.60 M320.10 243.90v4.60 M324.48 315.90v-2.30 M324.48 243.90v2.30 M328.86 315.90v-2.30 M328.86 243.90v2.30 M333.24 315.90v-2.30 M333.24 243.90v2.30 M337.62 315.90v-2.30 M337.62 243.90v2.30 M342.00 315.90v-4.60 M342.00 243.90v4.60 M346.38 315.90v-2.30 M346.38 243.90v2.30 M350.76 315.90v-2.30 M350.76 243.90v2.30 M355.14 315.90v-2.30 M355.14 243.90v2.30 M359.52 315.90v-2.30 M359.52 243.90v2.30 M363.90 315.90v-4.60 M363.90 243.90v4.60 M368.28 315.90v-2.30 M368.28 243.90v2.30 M372.66 315.90v-2.30 M372.66 243.90v2.30 M377.04 315.90v-2.30 M377.04 243.90v2.30 M381.42 315.90v-2.30 M381.42 243.90v2.30 M385.80 315.90v-4.60 M385.80 243.90v4.60 M390.18 315.90v-2.30 M390.18 243.90v2.30 M394.56 315.90v-2.30 M394.56 243.90v2.30 M398.94 315.90v-2.30 M398.94 243.90v2.30 M403.32 315.90v-2.30 M403.32 243.90v2.30 M407.70 315.90v-4.60 M407.70 243.90v4.60 M412.08 315.90v-2.30 M412.08 243.90v2.30 M416.46 315.90v-2.30 M416.46 243.90v2.30 M420.84 315.90v-2.30 M420.84 243.90v2.30 M425.22 315.90v-2.30 M425.22 243.90v2.30 M429.60 315.90v-4.60 M429.60 243.90v4.60 M433.98 315.90v-2.30 M433.98 243.90v2.30 M438.36 315.90v-2.30 M438.36 243.90v2.30 M442.74 315.90v-2.30 M442.74 243.90v2.30 M447.12 315.90v-2.30 M447.12 243.90v2.30 M451.50 315.90v-4.60 M451.50 243.90v4.60 M455.88 315.90v-2.30 M455.88 243.90v2.30 M460.26 315.90v-2.30 M460.26 243.90v2.30 M464.64 315.90v-2.30 M464.64 243.90v2.30 M469.02 315.90v-2.30 M469.02 243.90v2.30 M473.40 315.90v-4.60 M473.40 243.90v4.60 M477.78 315.90v-2.30 M477.78 243.90v2.30 M482.16 315.90v-2.30 M482.16 243.90v2.30 M486.54 315.90v-2.30 M486.54 243.90v2.30 M490.92 315.90v-2.30 M490.92 243.90v2.30 M495.30 315.90v-4.60 M495.30 243.90v4.60 M320.10 243.90h2.30 M495.30 243.90h-2.30 M320.10 248.70h2.30 M495.30 248.70h-2.30 M320.10 253.50h2.30 M495.30 253.50h-2.30 M320.10 258.30h2.30 M495.30 258.30h-2.30 M320.10 263.10h4.60 M495.30 263.10h-4.60 M320.10 267.90h2.30 M495.30 267.90h-2.30 M320.10 272.70h2.30 M495.30 272.70h-2.30 M320.10 277.50h2.30 M495.30 277.50h-2.30 M320.10 282.30h2.30 M495.30 282.30h-2.30 M320.10 287.10h4.60 M495.30 287.10h-4.60 M320.10 291.90h2.30 M495.30 291.90h-2.30 M320.10 296.70h2.30 M495.30 296.70h-2.30 M320.10 301.50h2.30 M495.30 301.50h-2.30 M320.10 306.30h2.30 M495.30 306.30h-2.30 M320.10 311.10h4.60 M495.30 311.10h-4.60 M320.10 315.90h2.30 M495.30 315.90h-2.30" stroke="#000" stroke-width="0.6" fill="none"/>
<rect x="320.10" y="243.90" width="175.20" height="72.00" fill="none" stroke="#000" stroke-width="1.1"/>
<text transform="translate(407.30 344.60)" text-anchor="middle" font-size="9.0" textLength="92.50" lengthAdjust="spacingAndGlyphs">Rotation phase = 12.2 h</text>
<text transform="translate(288.00 280.10) rotate(-90)" text-anchor="middle" font-size="9.0" textLength="30.00" lengthAdjust="spacingAndGlyphs">Kp mag</text>
<clipPath id="cm2"><rect x="318.10" y="243.90" width="179.20" height="72.00"/></clipPath>
<g clip-path="url(#cm2)"><g stroke-width="0.72" opacity="0.95"><path d="M406.79 269.61V274.78" stroke="#5d01bd"/><path d="M494.39 269.61V274.78" stroke="#5d01bd"/><path d="M322.67 268.76V273.74" stroke="#5e01c1"/><path d="M410.27 268.76V273.74" stroke="#5e01c1"/><path d="M326.14 276.21V283.21" stroke="#6001c5"/><path d="M413.74 276.21V283.21" stroke="#6001c5"/><path d="M329.90 278.55V286.37" stroke="#6101c9"/><path d="M417.50 278.55V286.37" stroke="#6101c9"/><path d="M333.37 257.65V260.71" stroke="#6201cd"/><path d="M420.97 257.65V260.71" stroke="#6201cd"/><path d="M337.13 277.01V284.29" stroke="#6401d1"/><path d="M424.73 277.01V284.29" stroke="#6401d1"/><path d="M340.03 271.03V276.54" stroke="#6501d4"/><path d="M427.63 271.03V276.54" stroke="#6501d4"/><path d="M343.50 272.62V278.56" stroke="#6601d8"/><path d="M431.10 272.62V278.56" stroke="#6601d8"/><path d="M347.26 274.21V280.59" stroke="#6801dc"/><path d="M434.86 274.21V280.59" stroke="#6801dc"/><path d="M350.15 293.85V311.54" stroke="#6901de"/><path d="M437.75 293.85V311.54" stroke="#6901de"/><path d="M353.91 274.21V280.59" stroke="#6a01e2"/><path d="M441.51 274.21V280.59" stroke="#6a01e2"/><path d="M357.39 274.84V281.41" stroke="#6b01e5"/><path d="M444.99 274.84V281.41" stroke="#6b01e5"/><path d="M360.86 269.74V274.94" stroke="#6c02e7"/><path d="M448.46 269.74V274.94" stroke="#6c02e7"/><path d="M364.62 269.28V274.38" stroke="#6e02ea"/><path d="M452.22 269.28V274.38" stroke="#6e02ea"/><path d="M368.09 273.58V279.77" stroke="#6f02ed"/><path d="M455.69 273.58V279.77" stroke="#6f02ed"/><path d="M371.27 268.44V273.35" stroke="#7002ef"/><path d="M458.87 268.44V273.35" stroke="#7002ef"/><path d="M374.75 274.40V280.83" stroke="#7102f1"/><path d="M462.35 274.40V280.83" stroke="#7102f1"/><path d="M378.22 272.62V278.56" stroke="#7202f3"/><path d="M465.82 272.62V278.56" stroke="#7202f3"/><path d="M381.98 271.15V276.70" stroke="#7402f5"/><path d="M469.58 271.15V276.70" stroke="#7402f5"/><path d="M385.45 280.83V289.57" stroke="#7502f7"/><path d="M473.05 280.83V289.57" stroke="#7502f7"/><path d="M389.21 265.29V269.56" stroke="#7602f8"/><path d="M476.81 265.29V269.56" stroke="#7602f8"/><path d="M392.69 278.06V285.70" stroke="#7703fa"/><path d="M480.29 278.06V285.70" stroke="#7703fa"/><path d="M396.45 285.86V297.12" stroke="#7803fb"/><path d="M484.05 285.86V297.12" stroke="#7803fb"/><path d="M399.92 279.46V287.63" stroke="#7903fc"/><path d="M487.52 279.46V287.63" stroke="#7903fc"/><path d="M403.68 274.21V280.59" stroke="#7a03fd"/><path d="M491.28 274.21V280.59" stroke="#7a03fd"/><path d="M406.57 282.43V291.88" stroke="#7b03fe"/><path d="M494.17 282.43V291.88" stroke="#7b03fe"/><path d="M322.74 276.89V284.12" stroke="#7c03fe"/><path d="M410.34 276.89V284.12" stroke="#7c03fe"/><path d="M326.21 270.70V276.14" stroke="#7e04ff"/><path d="M413.81 270.70V276.14" stroke="#7e04ff"/><path d="M329.97 272.18V277.99" stroke="#7f04ff"/><path d="M417.57 272.18V277.99" stroke="#7f04ff"/><path d="M333.44 281.72V290.85" stroke="#8004ff"/><path d="M421.04 281.72V290.85" stroke="#8004ff"/><path d="M337.20 268.24V273.11" stroke="#8104ff"/><path d="M424.80 268.24V273.11" stroke="#8104ff"/><path d="M340.68 278.85V286.79" stroke="#8204ff"/><path d="M428.28 278.85V286.79" stroke="#8204ff"/><path d="M344.44 277.32V284.70" stroke="#8305fe"/><path d="M432.04 277.32V284.70" stroke="#8305fe"/><path d="M347.91 274.40V280.83" stroke="#8405fd"/><path d="M435.51 274.40V280.83" stroke="#8405fd"/><path d="M350.80 274.52V281.00" stroke="#8505fd"/><path d="M438.40 274.52V281.00" stroke="#8505fd"/><path d="M354.56 279.76V288.05" stroke="#8605fc"/><path d="M442.16 279.76V288.05" stroke="#8605fc"/><path d="M358.04 280.66V289.32" stroke="#8706fb"/><path d="M445.64 280.66V289.32" stroke="#8706fb"/><path d="M361.80 267.98V272.79" stroke="#8806f9"/><path d="M449.40 267.98V272.79" stroke="#8806f9"/><path d="M365.27 274.71V281.24" stroke="#8906f8"/><path d="M452.87 274.71V281.24" stroke="#8906f8"/><path d="M369.03 276.89V284.12" stroke="#8a06f6"/><path d="M456.63 276.89V284.12" stroke="#8a06f6"/><path d="M372.50 267.78V272.55" stroke="#8b07f4"/><path d="M460.10 267.78V272.55" stroke="#8b07f4"/><path d="M375.40 270.51V275.90" stroke="#8c07f3"/><path d="M463.00 270.51V275.90" stroke="#8c07f3"/><path d="M379.74 271.35V276.94" stroke="#8d07f0"/><path d="M467.34 271.35V276.94" stroke="#8d07f0"/><path d="M383.21 271.54V277.18" stroke="#8e07ee"/><path d="M470.81 271.54V277.18" stroke="#8e07ee"/><path d="M389.86 264.49V268.62" stroke="#8f08e9"/><path d="M477.46 264.49V268.62" stroke="#8f08e9"/><path d="M393.34 271.99V277.75" stroke="#9008e7"/><path d="M480.94 271.99V277.75" stroke="#9008e7"/><path d="M397.10 272.31V278.15" stroke="#9109e3"/><path d="M484.70 272.31V278.15" stroke="#9109e3"/><path d="M400.57 278.42V286.20" stroke="#9209e0"/><path d="M488.17 278.42V286.20" stroke="#9209e0"/><path d="M403.75 287.52V299.81" stroke="#9309de"/><path d="M491.35 287.52V299.81" stroke="#9309de"/><path d="M407.22 282.84V292.49" stroke="#940ada"/><path d="M494.82 282.84V292.49" stroke="#940ada"/><path d="M323.39 272.94V278.96" stroke="#950ad7"/><path d="M410.99 272.94V278.96" stroke="#950ad7"/><path d="M330.33 259.81V263.17" stroke="#970bcf"/><path d="M417.93 259.81V263.17" stroke="#970bcf"/><path d="M334.09 263.16V267.05" stroke="#980bcb"/><path d="M421.69 263.16V267.05" stroke="#980bcb"/><path d="M341.33 265.49V269.79" stroke="#990cc3"/><path d="M428.93 265.49V269.79" stroke="#990cc3"/><path d="M344.22 277.81V285.37" stroke="#9a0cbf"/><path d="M431.82 277.81V285.37" stroke="#9a0cbf"/><path d="M347.98 290.32V304.66" stroke="#9b0dbb"/><path d="M435.58 290.32V304.66" stroke="#9b0dbb"/><path d="M354.92 280.06V288.47" stroke="#9d0eb2"/><path d="M442.52 280.06V288.47" stroke="#9d0eb2"/><path d="M358.69 281.07V289.92" stroke="#9e0eac"/><path d="M446.29 281.07V289.92" stroke="#9e0eac"/><path d="M362.16 274.21V280.59" stroke="#9e0fa8"/><path d="M449.76 274.21V280.59" stroke="#9e0fa8"/><path d="M365.92 273.26V279.37" stroke="#9f0fa2"/><path d="M453.52 273.26V279.37" stroke="#9f0fa2"/><path d="M369.68 267.78V272.55" stroke="#a0109d"/><path d="M457.28 267.78V272.55" stroke="#a0109d"/><path d="M373.15 269.41V274.54" stroke="#a11098"/><path d="M460.75 269.41V274.54" stroke="#a11098"/><path d="M375.47 279.76V288.05" stroke="#a21094"/><path d="M463.07 279.76V288.05" stroke="#a21094"/><path d="M379.62 276.08V283.05" stroke="#a3118e"/><path d="M467.22 276.08V283.05" stroke="#a3118e"/><path d="M386.85 257.65V260.71" stroke="#a41283"/><path d="M474.45 257.65V260.71" stroke="#a41283"/><path d="M390.32 268.11V272.95" stroke="#a5137d"/><path d="M477.92 268.11V272.95" stroke="#a5137d"/><path d="M393.50 264.16V268.22" stroke="#a61378"/><path d="M481.10 264.16V268.22" stroke="#a61378"/><path d="M396.98 282.02V291.28" stroke="#a61472"/><path d="M484.58 282.02V291.28" stroke="#a61472"/><path d="M400.74 285.98V297.30" stroke="#a7146c"/><path d="M488.34 285.98V297.30" stroke="#a7146c"/><path d="M323.84 282.84V292.49" stroke="#aa1659"/><path d="M411.44 282.84V292.49" stroke="#aa1659"/><path d="M326.74 263.50V267.44" stroke="#aa1754"/><path d="M414.34 263.50V267.44" stroke="#aa1754"/><path d="M330.21 271.35V276.94" stroke="#ab174e"/><path d="M417.81 271.35V276.94" stroke="#ab174e"/><path d="M333.97 265.16V269.40" stroke="#ac1847"/><path d="M421.57 265.16V269.40" stroke="#ac1847"/><path d="M337.44 269.61V274.78" stroke="#ad1941"/><path d="M425.04 269.61V274.78" stroke="#ad1941"/><path d="M351.33 257.99V261.10" stroke="#b01b28"/><path d="M438.93 257.99V261.10" stroke="#b01b28"/><path d="M358.56 257.45V260.48" stroke="#b11d1b"/><path d="M446.16 257.45V260.48" stroke="#b11d1b"/><path d="M362.33 269.61V274.78" stroke="#b21e14"/><path d="M449.93 269.61V274.78" stroke="#b21e14"/><path d="M379.69 289.28V302.81" stroke="#b62100"/><path d="M467.29 289.28V302.81" stroke="#b62100"/><path d="M383.16 273.58V279.77" stroke="#b62200"/><path d="M470.76 273.58V279.77" stroke="#b62200"/><path d="M386.92 273.89V280.18" stroke="#b72300"/><path d="M474.52 273.89V280.18" stroke="#b72300"/><path d="M394.15 279.76V288.05" stroke="#b92500"/><path d="M481.75 279.76V288.05" stroke="#b92500"/><path d="M400.52 281.96V291.20" stroke="#ba2600"/><path d="M488.12 281.96V291.20" stroke="#ba2600"/><path d="M404.86 281.55V290.60" stroke="#bb2800"/><path d="M492.46 281.55V290.60" stroke="#bb2800"/><path d="M362.69 269.86V275.10" stroke="#c43400"/><path d="M450.29 269.86V275.10" stroke="#c43400"/><path d="M366.45 267.78V272.55" stroke="#c53600"/><path d="M454.05 267.78V272.55" stroke="#c53600"/><path d="M369.92 274.40V280.83" stroke="#c53700"/><path d="M457.52 274.40V280.83" stroke="#c53700"/><path d="M373.68 270.90V276.38" stroke="#c63800"/><path d="M461.28 270.90V276.38" stroke="#c63800"/><path d="M377.15 265.49V269.79" stroke="#c73900"/><path d="M464.75 265.49V269.79" stroke="#c73900"/><path d="M380.91 264.36V268.46" stroke="#c73a00"/><path d="M468.51 264.36V268.46" stroke="#c73a00"/><path d="M383.81 263.36V267.29" stroke="#c83b00"/><path d="M471.41 263.36V267.29" stroke="#c83b00"/><path d="M387.28 262.36V266.12" stroke="#c93c00"/><path d="M474.88 262.36V266.12" stroke="#c93c00"/><path d="M394.51 285.75V296.95" stroke="#ca3f00"/><path d="M482.11 285.75V296.95" stroke="#ca3f00"/><path d="M404.93 288.17V300.89" stroke="#cc4200"/><path d="M492.53 288.17V300.89" stroke="#cc4200"/><path d="M320.22 279.27V287.38" stroke="#cc4400"/><path d="M407.82 279.27V287.38" stroke="#cc4400"/><path d="M324.27 257.24V260.25" stroke="#cd4500"/><path d="M411.87 257.24V260.25" stroke="#cd4500"/><path d="M327.46 254.38V257.04" stroke="#ce4600"/><path d="M415.06 254.38V257.04" stroke="#ce4600"/><path d="M331.51 276.89V284.12" stroke="#ce4800"/><path d="M419.11 276.89V284.12" stroke="#ce4800"/><path d="M338.16 267.98V272.79" stroke="#d04a00"/><path d="M425.76 267.98V272.79" stroke="#d04a00"/><path d="M342.50 275.46V282.23" stroke="#d04c00"/><path d="M430.10 275.46V282.23" stroke="#d04c00"/><path d="M343.95 270.70V276.14" stroke="#d14d00"/><path d="M431.55 270.70V276.14" stroke="#d14d00"/><path d="M348.97 271.99V277.75" stroke="#d24f00"/><path d="M436.57 271.99V277.75" stroke="#d24f00"/><path d="M352.44 277.01V284.29" stroke="#d25000"/><path d="M440.04 277.01V284.29" stroke="#d25000"/><path d="M356.20 280.95V289.75" stroke="#d35200"/><path d="M443.80 280.95V289.75" stroke="#d35200"/><path d="M359.67 278.24V285.95" stroke="#d45300"/><path d="M447.27 278.24V285.95" stroke="#d45300"/><path d="M363.43 275.77V282.64" stroke="#d45500"/><path d="M451.03 275.77V282.64" stroke="#d45500"/><path d="M366.33 274.40V280.83" stroke="#d55600"/><path d="M453.93 274.40V280.83" stroke="#d55600"/><path d="M370.09 273.58V279.77" stroke="#d55800"/><path d="M457.69 273.58V279.77" stroke="#d55800"/><path d="M375.01 269.61V274.78" stroke="#d65a00"/><path d="M462.61 269.61V274.78" stroke="#d65a00"/><path d="M380.79 274.21V280.59" stroke="#d75c00"/><path d="M468.39 274.21V280.59" stroke="#d75c00"/><path d="M383.69 277.94V285.53" stroke="#d85e00"/><path d="M471.29 277.94V285.53" stroke="#d85e00"/><path d="M387.16 275.77V282.64" stroke="#d85f00"/><path d="M474.76 275.77V282.64" stroke="#d85f00"/><path d="M390.92 276.70V283.87" stroke="#d96100"/><path d="M478.52 276.70V283.87" stroke="#d96100"/><path d="M394.39 277.63V285.12" stroke="#da6300"/><path d="M481.99 277.63V285.12" stroke="#da6300"/><path d="M398.15 276.08V283.05" stroke="#da6400"/><path d="M485.75 276.08V283.05" stroke="#da6400"/><path d="M401.63 280.95V289.75" stroke="#db6600"/><path d="M489.23 280.95V289.75" stroke="#db6600"/><path d="M405.39 275.46V282.23" stroke="#dc6800"/><path d="M492.99 275.46V282.23" stroke="#dc6800"/><path d="M324.44 268.11V272.95" stroke="#dd6b00"/><path d="M412.04 268.11V272.95" stroke="#dd6b00"/><path d="M327.91 274.40V280.83" stroke="#dd6d00"/><path d="M415.51 274.40V280.83" stroke="#dd6d00"/><path d="M331.68 267.46V272.16" stroke="#de6f00"/><path d="M419.28 267.46V272.16" stroke="#de6f00"/><path d="M335.15 272.62V278.56" stroke="#de7100"/><path d="M422.75 272.62V278.56" stroke="#de7100"/><path d="M338.04 267.00V271.60" stroke="#df7200"/><path d="M425.64 267.00V271.60" stroke="#df7200"/><path d="M342.38 279.33V287.46" stroke="#e07400"/><path d="M429.98 279.33V287.46" stroke="#e07400"/><path d="M345.85 284.62V295.18" stroke="#e07600"/><path d="M433.45 284.62V295.18" stroke="#e07600"/><path d="M349.62 278.24V285.95" stroke="#e17800"/><path d="M437.22 278.24V285.95" stroke="#e17800"/><path d="M356.27 288.60V301.62" stroke="#e27c00"/><path d="M443.87 288.60V301.62" stroke="#e27c00"/><path d="M359.74 276.39V283.46" stroke="#e37e00"/><path d="M447.34 276.39V283.46" stroke="#e37e00"/><path d="M363.50 272.43V278.31" stroke="#e38000"/><path d="M451.10 272.43V278.31" stroke="#e38000"/><path d="M366.98 277.01V284.29" stroke="#e48200"/><path d="M454.58 277.01V284.29" stroke="#e48200"/><path d="M370.74 267.78V272.55" stroke="#e48400"/><path d="M458.34 267.78V272.55" stroke="#e48400"/><path d="M374.21 274.08V280.43" stroke="#e58600"/><path d="M461.81 274.08V280.43" stroke="#e58600"/><path d="M377.97 269.28V274.38" stroke="#e68800"/><path d="M465.57 269.28V274.38" stroke="#e68800"/><path d="M381.44 270.70V276.14" stroke="#e68a00"/><path d="M469.04 270.70V276.14" stroke="#e68a00"/><path d="M395.33 271.35V276.94" stroke="#e89200"/><path d="M482.93 271.35V276.94" stroke="#e89200"/><path d="M398.80 277.81V285.37" stroke="#e99500"/><path d="M486.40 277.81V285.37" stroke="#e99500"/><path d="M402.28 273.89V280.18" stroke="#ea9700"/><path d="M489.88 273.89V280.18" stroke="#ea9700"/><path d="M406.04 277.63V285.12" stroke="#ea9900"/><path d="M493.64 277.63V285.12" stroke="#ea9900"/><path d="M321.33 279.58V287.80" stroke="#eb9b00"/><path d="M408.93 279.58V287.80" stroke="#eb9b00"/><path d="M324.80 269.74V274.94" stroke="#eb9d00"/><path d="M412.40 269.74V274.94" stroke="#eb9d00"/><path d="M328.56 274.21V280.59" stroke="#eca000"/><path d="M416.16 274.21V280.59" stroke="#eca000"/><path d="M332.04 265.29V269.56" stroke="#eca200"/><path d="M419.64 265.29V269.56" stroke="#eca200"/><path d="M335.80 268.76V273.74" stroke="#eda400"/><path d="M423.40 268.76V273.74" stroke="#eda400"/><path d="M339.27 274.40V280.83" stroke="#eea700"/><path d="M426.87 274.40V280.83" stroke="#eea700"/><path d="M343.03 277.32V284.70" stroke="#eea900"/><path d="M430.63 277.32V284.70" stroke="#eea900"/><path d="M346.50 278.85V286.79" stroke="#efac00"/><path d="M434.10 278.85V286.79" stroke="#efac00"/><path d="M350.26 277.63V285.12" stroke="#efae00"/><path d="M437.86 277.63V285.12" stroke="#efae00"/><path d="M353.16 279.15V287.21" stroke="#f0b000"/><path d="M440.76 279.15V287.21" stroke="#f0b000"/><path d="M356.63 286.14V297.57" stroke="#f0b300"/><path d="M444.23 286.14V297.57" stroke="#f0b300"/><path d="M363.86 276.27V283.30" stroke="#f1b800"/><path d="M451.46 276.27V283.30" stroke="#f1b800"/><path d="M367.63 277.44V284.87" stroke="#f2ba00"/><path d="M455.23 277.44V284.87" stroke="#f2ba00"/><path d="M371.10 267.65V272.39" stroke="#f3bd00"/><path d="M458.70 267.65V272.39" stroke="#f3bd00"/><path d="M374.28 263.36V267.29" stroke="#f3bf00"/><path d="M461.88 263.36V267.29" stroke="#f3bf00"/><path d="M400.90 276.08V283.05" stroke="#f7d300"/><path d="M488.50 276.08V283.05" stroke="#f7d300"/></g><circle cx="406.79" cy="272.19" r="1.8" fill="#5d01bd"/><circle cx="494.39" cy="272.19" r="1.8" fill="#5d01bd"/><circle cx="322.67" cy="271.25" r="1.8" fill="#5e01c1"/><circle cx="410.27" cy="271.25" r="1.8" fill="#5e01c1"/><circle cx="326.14" cy="279.71" r="1.8" fill="#6001c5"/><circle cx="413.74" cy="279.71" r="1.8" fill="#6001c5"/><circle cx="329.90" cy="282.46" r="1.8" fill="#6101c9"/><circle cx="417.50" cy="282.46" r="1.8" fill="#6101c9"/><circle cx="333.37" cy="259.18" r="1.8" fill="#6201cd"/><circle cx="420.97" cy="259.18" r="1.8" fill="#6201cd"/><circle cx="337.13" cy="280.65" r="1.8" fill="#6401d1"/><circle cx="424.73" cy="280.65" r="1.8" fill="#6401d1"/><circle cx="340.03" cy="273.78" r="1.8" fill="#6501d4"/><circle cx="427.63" cy="273.78" r="1.8" fill="#6501d4"/><circle cx="343.50" cy="275.59" r="1.8" fill="#6601d8"/><circle cx="431.10" cy="275.59" r="1.8" fill="#6601d8"/><circle cx="347.26" cy="277.40" r="1.8" fill="#6801dc"/><circle cx="434.86" cy="277.40" r="1.8" fill="#6801dc"/><circle cx="350.15" cy="302.70" r="1.8" fill="#6901de"/><circle cx="437.75" cy="302.70" r="1.8" fill="#6901de"/><circle cx="353.91" cy="277.40" r="1.8" fill="#6a01e2"/><circle cx="441.51" cy="277.40" r="1.8" fill="#6a01e2"/><circle cx="357.39" cy="278.12" r="1.8" fill="#6b01e5"/><circle cx="444.99" cy="278.12" r="1.8" fill="#6b01e5"/><circle cx="360.86" cy="272.34" r="1.8" fill="#6c02e7"/><circle cx="448.46" cy="272.34" r="1.8" fill="#6c02e7"/><circle cx="364.62" cy="271.83" r="1.8" fill="#6e02ea"/><circle cx="452.22" cy="271.83" r="1.8" fill="#6e02ea"/><circle cx="368.09" cy="276.67" r="1.8" fill="#6f02ed"/><circle cx="455.69" cy="276.67" r="1.8" fill="#6f02ed"/><circle cx="371.27" cy="270.89" r="1.8" fill="#7002ef"/><circle cx="458.87" cy="270.89" r="1.8" fill="#7002ef"/><circle cx="374.75" cy="277.61" r="1.8" fill="#7102f1"/><circle cx="462.35" cy="277.61" r="1.8" fill="#7102f1"/><circle cx="378.22" cy="275.59" r="1.8" fill="#7202f3"/><circle cx="465.82" cy="275.59" r="1.8" fill="#7202f3"/><circle cx="381.98" cy="273.93" r="1.8" fill="#7402f5"/><circle cx="469.58" cy="273.93" r="1.8" fill="#7402f5"/><circle cx="385.45" cy="285.20" r="1.8" fill="#7502f7"/><circle cx="473.05" cy="285.20" r="1.8" fill="#7502f7"/><circle cx="389.21" cy="267.42" r="1.8" fill="#7602f8"/><circle cx="476.81" cy="267.42" r="1.8" fill="#7602f8"/><circle cx="392.69" cy="281.88" r="1.8" fill="#7703fa"/><circle cx="480.29" cy="281.88" r="1.8" fill="#7703fa"/><circle cx="396.45" cy="291.49" r="1.8" fill="#7803fb"/><circle cx="484.05" cy="291.49" r="1.8" fill="#7803fb"/><circle cx="399.92" cy="283.54" r="1.8" fill="#7903fc"/><circle cx="487.52" cy="283.54" r="1.8" fill="#7903fc"/><circle cx="403.68" cy="277.40" r="1.8" fill="#7a03fd"/><circle cx="491.28" cy="277.40" r="1.8" fill="#7a03fd"/><circle cx="406.57" cy="287.16" r="1.8" fill="#7b03fe"/><circle cx="494.17" cy="287.16" r="1.8" fill="#7b03fe"/><circle cx="322.74" cy="280.51" r="1.8" fill="#7c03fe"/><circle cx="410.34" cy="280.51" r="1.8" fill="#7c03fe"/><circle cx="326.21" cy="273.42" r="1.8" fill="#7e04ff"/><circle cx="413.81" cy="273.42" r="1.8" fill="#7e04ff"/><circle cx="329.97" cy="275.08" r="1.8" fill="#7f04ff"/><circle cx="417.57" cy="275.08" r="1.8" fill="#7f04ff"/><circle cx="333.44" cy="286.29" r="1.8" fill="#8004ff"/><circle cx="421.04" cy="286.29" r="1.8" fill="#8004ff"/><circle cx="337.20" cy="270.67" r="1.8" fill="#8104ff"/><circle cx="424.80" cy="270.67" r="1.8" fill="#8104ff"/><circle cx="340.68" cy="282.82" r="1.8" fill="#8204ff"/><circle cx="428.28" cy="282.82" r="1.8" fill="#8204ff"/><circle cx="344.44" cy="281.01" r="1.8" fill="#8305fe"/><circle cx="432.04" cy="281.01" r="1.8" fill="#8305fe"/><circle cx="347.91" cy="277.61" r="1.8" fill="#8405fd"/><circle cx="435.51" cy="277.61" r="1.8" fill="#8405fd"/><circle cx="350.80" cy="277.76" r="1.8" fill="#8505fd"/><circle cx="438.40" cy="277.76" r="1.8" fill="#8505fd"/><circle cx="354.56" cy="283.90" r="1.8" fill="#8605fc"/><circle cx="442.16" cy="283.90" r="1.8" fill="#8605fc"/><circle cx="358.04" cy="284.99" r="1.8" fill="#8706fb"/><circle cx="445.64" cy="284.99" r="1.8" fill="#8706fb"/><circle cx="361.80" cy="270.39" r="1.8" fill="#8806f9"/><circle cx="449.40" cy="270.39" r="1.8" fill="#8806f9"/><circle cx="365.27" cy="277.98" r="1.8" fill="#8906f8"/><circle cx="452.87" cy="277.98" r="1.8" fill="#8906f8"/><circle cx="369.03" cy="280.51" r="1.8" fill="#8a06f6"/><circle cx="456.63" cy="280.51" r="1.8" fill="#8a06f6"/><circle cx="372.50" cy="270.17" r="1.8" fill="#8b07f4"/><circle cx="460.10" cy="270.17" r="1.8" fill="#8b07f4"/><circle cx="375.40" cy="273.20" r="1.8" fill="#8c07f3"/><circle cx="463.00" cy="273.20" r="1.8" fill="#8c07f3"/><circle cx="379.74" cy="274.14" r="1.8" fill="#8d07f0"/><circle cx="467.34" cy="274.14" r="1.8" fill="#8d07f0"/><circle cx="383.21" cy="274.36" r="1.8" fill="#8e07ee"/><circle cx="470.81" cy="274.36" r="1.8" fill="#8e07ee"/><circle cx="389.86" cy="266.55" r="1.8" fill="#8f08e9"/><circle cx="477.46" cy="266.55" r="1.8" fill="#8f08e9"/><circle cx="393.34" cy="274.87" r="1.8" fill="#9008e7"/><circle cx="480.94" cy="274.87" r="1.8" fill="#9008e7"/><circle cx="397.10" cy="275.23" r="1.8" fill="#9109e3"/><circle cx="484.70" cy="275.23" r="1.8" fill="#9109e3"/><circle cx="400.57" cy="282.31" r="1.8" fill="#9209e0"/><circle cx="488.17" cy="282.31" r="1.8" fill="#9209e0"/><circle cx="403.75" cy="293.66" r="1.8" fill="#9309de"/><circle cx="491.35" cy="293.66" r="1.8" fill="#9309de"/><circle cx="407.22" cy="287.66" r="1.8" fill="#940ada"/><circle cx="494.82" cy="287.66" r="1.8" fill="#940ada"/><circle cx="323.39" cy="275.95" r="1.8" fill="#950ad7"/><circle cx="410.99" cy="275.95" r="1.8" fill="#950ad7"/><circle cx="330.33" cy="261.49" r="1.8" fill="#970bcf"/><circle cx="417.93" cy="261.49" r="1.8" fill="#970bcf"/><circle cx="334.09" cy="265.11" r="1.8" fill="#980bcb"/><circle cx="421.69" cy="265.11" r="1.8" fill="#980bcb"/><circle cx="341.33" cy="267.64" r="1.8" fill="#990cc3"/><circle cx="428.93" cy="267.64" r="1.8" fill="#990cc3"/><circle cx="344.22" cy="281.59" r="1.8" fill="#9a0cbf"/><circle cx="431.82" cy="281.59" r="1.8" fill="#9a0cbf"/><circle cx="347.98" cy="297.49" r="1.8" fill="#9b0dbb"/><circle cx="435.58" cy="297.49" r="1.8" fill="#9b0dbb"/><circle cx="354.92" cy="284.27" r="1.8" fill="#9d0eb2"/><circle cx="442.52" cy="284.27" r="1.8" fill="#9d0eb2"/><circle cx="358.69" cy="285.49" r="1.8" fill="#9e0eac"/><circle cx="446.29" cy="285.49" r="1.8" fill="#9e0eac"/><circle cx="362.16" cy="277.40" r="1.8" fill="#9e0fa8"/><circle cx="449.76" cy="277.40" r="1.8" fill="#9e0fa8"/><circle cx="365.92" cy="276.31" r="1.8" fill="#9f0fa2"/><circle cx="453.52" cy="276.31" r="1.8" fill="#9f0fa2"/><circle cx="369.68" cy="270.17" r="1.8" fill="#a0109d"/><circle cx="457.28" cy="270.17" r="1.8" fill="#a0109d"/><circle cx="373.15" cy="271.98" r="1.8" fill="#a11098"/><circle cx="460.75" cy="271.98" r="1.8" fill="#a11098"/><circle cx="375.47" cy="283.90" r="1.8" fill="#a21094"/><circle cx="463.07" cy="283.90" r="1.8" fill="#a21094"/><circle cx="379.62" cy="279.57" r="1.8" fill="#a3118e"/><circle cx="467.22" cy="279.57" r="1.8" fill="#a3118e"/><circle cx="386.85" cy="259.18" r="1.8" fill="#a41283"/><circle cx="474.45" cy="259.18" r="1.8" fill="#a41283"/><circle cx="390.32" cy="270.53" r="1.8" fill="#a5137d"/><circle cx="477.92" cy="270.53" r="1.8" fill="#a5137d"/><circle cx="393.50" cy="266.19" r="1.8" fill="#a61378"/><circle cx="481.10" cy="266.19" r="1.8" fill="#a61378"/><circle cx="396.98" cy="286.65" r="1.8" fill="#a61472"/><circle cx="484.58" cy="286.65" r="1.8" fill="#a61472"/><circle cx="400.74" cy="291.64" r="1.8" fill="#a7146c"/><circle cx="488.34" cy="291.64" r="1.8" fill="#a7146c"/><circle cx="323.84" cy="287.66" r="1.8" fill="#aa1659"/><circle cx="411.44" cy="287.66" r="1.8" fill="#aa1659"/><circle cx="326.74" cy="265.47" r="1.8" fill="#aa1754"/><circle cx="414.34" cy="265.47" r="1.8" fill="#aa1754"/><circle cx="330.21" cy="274.14" r="1.8" fill="#ab174e"/><circle cx="417.81" cy="274.14" r="1.8" fill="#ab174e"/><circle cx="333.97" cy="267.28" r="1.8" fill="#ac1847"/><circle cx="421.57" cy="267.28" r="1.8" fill="#ac1847"/><circle cx="337.44" cy="272.19" r="1.8" fill="#ad1941"/><circle cx="425.04" cy="272.19" r="1.8" fill="#ad1941"/><circle cx="351.33" cy="259.54" r="1.8" fill="#b01b28"/><circle cx="438.93" cy="259.54" r="1.8" fill="#b01b28"/><circle cx="358.56" cy="258.96" r="1.8" fill="#b11d1b"/><circle cx="446.16" cy="258.96" r="1.8" fill="#b11d1b"/><circle cx="362.33" cy="272.19" r="1.8" fill="#b21e14"/><circle cx="449.93" cy="272.19" r="1.8" fill="#b21e14"/><circle cx="379.69" cy="296.05" r="1.8" fill="#b62100"/><circle cx="467.29" cy="296.05" r="1.8" fill="#b62100"/><circle cx="383.16" cy="276.67" r="1.8" fill="#b62200"/><circle cx="470.76" cy="276.67" r="1.8" fill="#b62200"/><circle cx="386.92" cy="277.04" r="1.8" fill="#b72300"/><circle cx="474.52" cy="277.04" r="1.8" fill="#b72300"/><circle cx="394.15" cy="283.90" r="1.8" fill="#b92500"/><circle cx="481.75" cy="283.90" r="1.8" fill="#b92500"/><circle cx="400.52" cy="286.58" r="1.8" fill="#ba2600"/><circle cx="488.12" cy="286.58" r="1.8" fill="#ba2600"/><circle cx="404.86" cy="286.07" r="1.8" fill="#bb2800"/><circle cx="492.46" cy="286.07" r="1.8" fill="#bb2800"/><circle cx="362.69" cy="272.48" r="1.8" fill="#c43400"/><circle cx="450.29" cy="272.48" r="1.8" fill="#c43400"/><circle cx="366.45" cy="270.17" r="1.8" fill="#c53600"/><circle cx="454.05" cy="270.17" r="1.8" fill="#c53600"/><circle cx="369.92" cy="277.61" r="1.8" fill="#c53700"/><circle cx="457.52" cy="277.61" r="1.8" fill="#c53700"/><circle cx="373.68" cy="273.64" r="1.8" fill="#c63800"/><circle cx="461.28" cy="273.64" r="1.8" fill="#c63800"/><circle cx="377.15" cy="267.64" r="1.8" fill="#c73900"/><circle cx="464.75" cy="267.64" r="1.8" fill="#c73900"/><circle cx="380.91" cy="266.41" r="1.8" fill="#c73a00"/><circle cx="468.51" cy="266.41" r="1.8" fill="#c73a00"/><circle cx="383.81" cy="265.33" r="1.8" fill="#c83b00"/><circle cx="471.41" cy="265.33" r="1.8" fill="#c83b00"/><circle cx="387.28" cy="264.24" r="1.8" fill="#c93c00"/><circle cx="474.88" cy="264.24" r="1.8" fill="#c93c00"/><circle cx="394.51" cy="291.35" r="1.8" fill="#ca3f00"/><circle cx="482.11" cy="291.35" r="1.8" fill="#ca3f00"/><circle cx="404.93" cy="294.53" r="1.8" fill="#cc4200"/><circle cx="492.53" cy="294.53" r="1.8" fill="#cc4200"/><circle cx="320.22" cy="283.33" r="1.8" fill="#cc4400"/><circle cx="407.82" cy="283.33" r="1.8" fill="#cc4400"/><circle cx="324.27" cy="258.75" r="1.8" fill="#cd4500"/><circle cx="411.87" cy="258.75" r="1.8" fill="#cd4500"/><circle cx="327.46" cy="255.71" r="1.8" fill="#ce4600"/><circle cx="415.06" cy="255.71" r="1.8" fill="#ce4600"/><circle cx="331.51" cy="280.51" r="1.8" fill="#ce4800"/><circle cx="419.11" cy="280.51" r="1.8" fill="#ce4800"/><circle cx="338.16" cy="270.39" r="1.8" fill="#d04a00"/><circle cx="425.76" cy="270.39" r="1.8" fill="#d04a00"/><circle cx="342.50" cy="278.84" r="1.8" fill="#d04c00"/><circle cx="430.10" cy="278.84" r="1.8" fill="#d04c00"/><circle cx="343.95" cy="273.42" r="1.8" fill="#d14d00"/><circle cx="431.55" cy="273.42" r="1.8" fill="#d14d00"/><circle cx="348.97" cy="274.87" r="1.8" fill="#d24f00"/><circle cx="436.57" cy="274.87" r="1.8" fill="#d24f00"/><circle cx="352.44" cy="280.65" r="1.8" fill="#d25000"/><circle cx="440.04" cy="280.65" r="1.8" fill="#d25000"/><circle cx="356.20" cy="285.35" r="1.8" fill="#d35200"/><circle cx="443.80" cy="285.35" r="1.8" fill="#d35200"/><circle cx="359.67" cy="282.10" r="1.8" fill="#d45300"/><circle cx="447.27" cy="282.10" r="1.8" fill="#d45300"/><circle cx="363.43" cy="279.20" r="1.8" fill="#d45500"/><circle cx="451.03" cy="279.20" r="1.8" fill="#d45500"/><circle cx="366.33" cy="277.61" r="1.8" fill="#d55600"/><circle cx="453.93" cy="277.61" r="1.8" fill="#d55600"/><circle cx="370.09" cy="276.67" r="1.8" fill="#d55800"/><circle cx="457.69" cy="276.67" r="1.8" fill="#d55800"/><circle cx="375.01" cy="272.19" r="1.8" fill="#d65a00"/><circle cx="462.61" cy="272.19" r="1.8" fill="#d65a00"/><circle cx="380.79" cy="277.40" r="1.8" fill="#d75c00"/><circle cx="468.39" cy="277.40" r="1.8" fill="#d75c00"/><circle cx="383.69" cy="281.73" r="1.8" fill="#d85e00"/><circle cx="471.29" cy="281.73" r="1.8" fill="#d85e00"/><circle cx="387.16" cy="279.20" r="1.8" fill="#d85f00"/><circle cx="474.76" cy="279.20" r="1.8" fill="#d85f00"/><circle cx="390.92" cy="280.29" r="1.8" fill="#d96100"/><circle cx="478.52" cy="280.29" r="1.8" fill="#d96100"/><circle cx="394.39" cy="281.37" r="1.8" fill="#da6300"/><circle cx="481.99" cy="281.37" r="1.8" fill="#da6300"/><circle cx="398.15" cy="279.57" r="1.8" fill="#da6400"/><circle cx="485.75" cy="279.57" r="1.8" fill="#da6400"/><circle cx="401.63" cy="285.35" r="1.8" fill="#db6600"/><circle cx="489.23" cy="285.35" r="1.8" fill="#db6600"/><circle cx="405.39" cy="278.84" r="1.8" fill="#dc6800"/><circle cx="492.99" cy="278.84" r="1.8" fill="#dc6800"/><circle cx="324.44" cy="270.53" r="1.8" fill="#dd6b00"/><circle cx="412.04" cy="270.53" r="1.8" fill="#dd6b00"/><circle cx="327.91" cy="277.61" r="1.8" fill="#dd6d00"/><circle cx="415.51" cy="277.61" r="1.8" fill="#dd6d00"/><circle cx="331.68" cy="269.81" r="1.8" fill="#de6f00"/><circle cx="419.28" cy="269.81" r="1.8" fill="#de6f00"/><circle cx="335.15" cy="275.59" r="1.8" fill="#de7100"/><circle cx="422.75" cy="275.59" r="1.8" fill="#de7100"/><circle cx="338.04" cy="269.30" r="1.8" fill="#df7200"/><circle cx="425.64" cy="269.30" r="1.8" fill="#df7200"/><circle cx="342.38" cy="283.40" r="1.8" fill="#e07400"/><circle cx="429.98" cy="283.40" r="1.8" fill="#e07400"/><circle cx="345.85" cy="289.90" r="1.8" fill="#e07600"/><circle cx="433.45" cy="289.90" r="1.8" fill="#e07600"/><circle cx="349.62" cy="282.10" r="1.8" fill="#e17800"/><circle cx="437.22" cy="282.10" r="1.8" fill="#e17800"/><circle cx="356.27" cy="295.11" r="1.8" fill="#e27c00"/><circle cx="443.87" cy="295.11" r="1.8" fill="#e27c00"/><circle cx="359.74" cy="279.93" r="1.8" fill="#e37e00"/><circle cx="447.34" cy="279.93" r="1.8" fill="#e37e00"/><circle cx="363.50" cy="275.37" r="1.8" fill="#e38000"/><circle cx="451.10" cy="275.37" r="1.8" fill="#e38000"/><circle cx="366.98" cy="280.65" r="1.8" fill="#e48200"/><circle cx="454.58" cy="280.65" r="1.8" fill="#e48200"/><circle cx="370.74" cy="270.17" r="1.8" fill="#e48400"/><circle cx="458.34" cy="270.17" r="1.8" fill="#e48400"/><circle cx="374.21" cy="277.25" r="1.8" fill="#e58600"/><circle cx="461.81" cy="277.25" r="1.8" fill="#e58600"/><circle cx="377.97" cy="271.83" r="1.8" fill="#e68800"/><circle cx="465.57" cy="271.83" r="1.8" fill="#e68800"/><circle cx="381.44" cy="273.42" r="1.8" fill="#e68a00"/><circle cx="469.04" cy="273.42" r="1.8" fill="#e68a00"/><circle cx="395.33" cy="274.14" r="1.8" fill="#e89200"/><circle cx="482.93" cy="274.14" r="1.8" fill="#e89200"/><circle cx="398.80" cy="281.59" r="1.8" fill="#e99500"/><circle cx="486.40" cy="281.59" r="1.8" fill="#e99500"/><circle cx="402.28" cy="277.04" r="1.8" fill="#ea9700"/><circle cx="489.88" cy="277.04" r="1.8" fill="#ea9700"/><circle cx="406.04" cy="281.37" r="1.8" fill="#ea9900"/><circle cx="493.64" cy="281.37" r="1.8" fill="#ea9900"/><circle cx="321.33" cy="283.69" r="1.8" fill="#eb9b00"/><circle cx="408.93" cy="283.69" r="1.8" fill="#eb9b00"/><circle cx="324.80" cy="272.34" r="1.8" fill="#eb9d00"/><circle cx="412.40" cy="272.34" r="1.8" fill="#eb9d00"/><circle cx="328.56" cy="277.40" r="1.8" fill="#eca000"/><circle cx="416.16" cy="277.40" r="1.8" fill="#eca000"/><circle cx="332.04" cy="267.42" r="1.8" fill="#eca200"/><circle cx="419.64" cy="267.42" r="1.8" fill="#eca200"/><circle cx="335.80" cy="271.25" r="1.8" fill="#eda400"/><circle cx="423.40" cy="271.25" r="1.8" fill="#eda400"/><circle cx="339.27" cy="277.61" r="1.8" fill="#eea700"/><circle cx="426.87" cy="277.61" r="1.8" fill="#eea700"/><circle cx="343.03" cy="281.01" r="1.8" fill="#eea900"/><circle cx="430.63" cy="281.01" r="1.8" fill="#eea900"/><circle cx="346.50" cy="282.82" r="1.8" fill="#efac00"/><circle cx="434.10" cy="282.82" r="1.8" fill="#efac00"/><circle cx="350.26" cy="281.37" r="1.8" fill="#efae00"/><circle cx="437.86" cy="281.37" r="1.8" fill="#efae00"/><circle cx="353.16" cy="283.18" r="1.8" fill="#f0b000"/><circle cx="440.76" cy="283.18" r="1.8" fill="#f0b000"/><circle cx="356.63" cy="291.86" r="1.8" fill="#f0b300"/><circle cx="444.23" cy="291.86" r="1.8" fill="#f0b300"/><circle cx="363.86" cy="279.78" r="1.8" fill="#f1b800"/><circle cx="451.46" cy="279.78" r="1.8" fill="#f1b800"/><circle cx="367.63" cy="281.16" r="1.8" fill="#f2ba00"/><circle cx="455.23" cy="281.16" r="1.8" fill="#f2ba00"/><circle cx="371.10" cy="270.02" r="1.8" fill="#f3bd00"/><circle cx="458.70" cy="270.02" r="1.8" fill="#f3bd00"/><circle cx="374.28" cy="265.33" r="1.8" fill="#f3bf00"/><circle cx="461.88" cy="265.33" r="1.8" fill="#f3bf00"/><circle cx="400.90" cy="279.57" r="1.8" fill="#f7d300"/><circle cx="488.50" cy="279.57" r="1.8" fill="#f7d300"/></g>
<rect x="499.20" y="243.90" width="9.20" height="72.00" fill="url(#pal)" stroke="#222" stroke-width="0.6"/>
<text transform="translate(517.00 319.20)" text-anchor="start" font-size="10.1">15</text>
<text transform="translate(517.00 304.80)" text-anchor="start" font-size="10.1">16</text>
<text transform="translate(517.00 290.40)" text-anchor="start" font-size="10.1">17</text>
<text transform="translate(517.00 276.00)" text-anchor="start" font-size="10.1">18</text>
<text transform="translate(517.00 261.60)" text-anchor="start" font-size="10.1">19</text>
<text transform="translate(517.00 247.20)" text-anchor="start" font-size="10.1">20</text>
<path d="M499.20 301.50H508.40 M499.20 287.10H508.40 M499.20 272.70H508.40 M499.20 258.30H508.40" stroke="#000" stroke-width="0.6"/>
<text transform="translate(610.00 329.50)" text-anchor="middle" font-size="10.1">0</text>
<text transform="translate(625.65 329.50)" text-anchor="middle" font-size="10.1">2</text>
<text transform="translate(641.31 329.50)" text-anchor="middle" font-size="10.1">4</text>
<text transform="translate(656.96 329.50)" text-anchor="middle" font-size="10.1">6</text>
<text transform="translate(672.62 329.50)" text-anchor="middle" font-size="10.1">8</text>
<text transform="translate(688.27 329.50)" text-anchor="middle" font-size="10.1">10</text>
<text transform="translate(703.92 329.50)" text-anchor="middle" font-size="10.1">12</text>
<text transform="translate(719.58 329.50)" text-anchor="middle" font-size="10.1">14</text>
<text transform="translate(735.23 329.50)" text-anchor="middle" font-size="10.1">16</text>
<text transform="translate(750.88 329.50)" text-anchor="middle" font-size="10.1">18</text>
<text transform="translate(766.54 329.50)" text-anchor="middle" font-size="10.1">20</text>
<text transform="translate(782.19 329.50)" text-anchor="middle" font-size="10.1">22</text>
<text transform="translate(797.85 329.50)" text-anchor="middle" font-size="10.1">24</text>
<text transform="translate(813.50 329.50)" text-anchor="middle" font-size="10.1">26</text>
<text transform="translate(603.10 319.30)" text-anchor="end" font-size="10.1">0.3</text>
<text transform="translate(603.10 283.30)" text-anchor="end" font-size="10.1">0.32</text>
<text transform="translate(603.10 247.30)" text-anchor="end" font-size="10.1">0.34</text>
<path d="M608.90 315.90v-4.60 M608.90 243.90v4.60 M612.81 315.90v-2.30 M612.81 243.90v2.30 M616.73 315.90v-2.30 M616.73 243.90v2.30 M620.64 315.90v-2.30 M620.64 243.90v2.30 M624.55 315.90v-4.60 M624.55 243.90v4.60 M628.47 315.90v-2.30 M628.47 243.90v2.30 M632.38 315.90v-2.30 M632.38 243.90v2.30 M636.29 315.90v-2.30 M636.29 243.90v2.30 M640.21 315.90v-4.60 M640.21 243.90v4.60 M644.12 315.90v-2.30 M644.12 243.90v2.30 M648.03 315.90v-2.30 M648.03 243.90v2.30 M651.95 315.90v-2.30 M651.95 243.90v2.30 M655.86 315.90v-4.60 M655.86 243.90v4.60 M659.77 315.90v-2.30 M659.77 243.90v2.30 M663.69 315.90v-2.30 M663.69 243.90v2.30 M667.60 315.90v-2.30 M667.60 243.90v2.30 M671.52 315.90v-4.60 M671.52 243.90v4.60 M675.43 315.90v-2.30 M675.43 243.90v2.30 M679.34 315.90v-2.30 M679.34 243.90v2.30 M683.26 315.90v-2.30 M683.26 243.90v2.30 M687.17 315.90v-4.60 M687.17 243.90v4.60 M691.08 315.90v-2.30 M691.08 243.90v2.30 M695.00 315.90v-2.30 M695.00 243.90v2.30 M698.91 315.90v-2.30 M698.91 243.90v2.30 M702.82 315.90v-4.60 M702.82 243.90v4.60 M706.74 315.90v-2.30 M706.74 243.90v2.30 M710.65 315.90v-2.30 M710.65 243.90v2.30 M714.56 315.90v-2.30 M714.56 243.90v2.30 M718.48 315.90v-4.60 M718.48 243.90v4.60 M722.39 315.90v-2.30 M722.39 243.90v2.30 M726.30 315.90v-2.30 M726.30 243.90v2.30 M730.22 315.90v-2.30 M730.22 243.90v2.30 M734.13 315.90v-4.60 M734.13 243.90v4.60 M738.04 315.90v-2.30 M738.04 243.90v2.30 M741.96 315.90v-2.30 M741.96 243.90v2.30 M745.87 315.90v-2.30 M745.87 243.90v2.30 M749.78 315.90v-4.60 M749.78 243.90v4.60 M753.70 315.90v-2.30 M753.70 243.90v2.30 M757.61 315.90v-2.30 M757.61 243.90v2.30 M761.52 315.90v-2.30 M761.52 243.90v2.30 M765.44 315.90v-4.60 M765.44 243.90v4.60 M769.35 315.90v-2.30 M769.35 243.90v2.30 M773.27 315.90v-2.30 M773.27 243.90v2.30 M777.18 315.90v-2.30 M777.18 243.90v2.30 M781.09 315.90v-4.60 M781.09 243.90v4.60 M785.01 315.90v-2.30 M785.01 243.90v2.30 M788.92 315.90v-2.30 M788.92 243.90v2.30 M792.83 315.90v-2.30 M792.83 243.90v2.30 M796.75 315.90v-4.60 M796.75 243.90v4.60 M800.66 315.90v-2.30 M800.66 243.90v2.30 M804.57 315.90v-2.30 M804.57 243.90v2.30 M808.49 315.90v-2.30 M808.49 243.90v2.30 M812.40 315.90v-4.60 M812.40 243.90v4.60 M608.90 315.90h4.60 M812.40 315.90h-4.60 M608.90 308.70h2.30 M812.40 308.70h-2.30 M608.90 301.50h2.30 M812.40 301.50h-2.30 M608.90 294.30h2.30 M812.40 294.30h-2.30 M608.90 287.10h2.30 M812.40 287.10h-2.30 M608.90 279.90h4.60 M812.40 279.90h-4.60 M608.90 272.70h2.30 M812.40 272.70h-2.30 M608.90 265.50h2.30 M812.40 265.50h-2.30 M608.90 258.30h2.30 M812.40 258.30h-2.30 M608.90 251.10h2.30 M812.40 251.10h-2.30 M608.90 243.90h4.60 M812.40 243.90h-4.60" stroke="#000" stroke-width="0.6" fill="none"/>
<rect x="608.90" y="243.90" width="203.50" height="72.00" fill="none" stroke="#000" stroke-width="1.1"/>
<text transform="translate(710.25 344.60)" text-anchor="middle" font-size="9.0" textLength="61.20" lengthAdjust="spacingAndGlyphs">Frequency (1/d)</text>
<text transform="translate(564.50 280.10) rotate(-90)" text-anchor="middle" font-size="9.0" textLength="68.20" lengthAdjust="spacingAndGlyphs">Phase disp (mag)</text>
<path d="M609.64 251.49 L610.48 257.40 L611.33 255.29 L612.59 253.18 L613.43 252.76 L614.45 255.29 L615.54 254.02 L616.81 256.13 L617.65 260.35 L618.49 261.61 L619.51 259.08 L620.60 256.13 L621.87 254.45 L623.13 253.18 L624.23 252.76 L625.07 255.71 L625.92 261.19 L626.51 262.46 L627.35 259.08 L628.19 254.45 L629.29 252.34 L630.30 253.60 L631.31 256.55 L632.41 258.24 L633.51 256.13 L634.52 255.29 L635.53 259.08 L636.37 273.84 L637.22 263.30 L637.89 253.18 L638.40 263.30 L638.90 288.60 L639.41 308.84 L639.92 288.60 L640.42 267.52 L641.10 256.13 L641.77 257.40 L642.53 254.87 L643.37 255.71 L644.22 254.45 L645.06 257.40 L645.65 261.61 L646.49 260.77 L647.17 254.87 L648.01 253.60 L648.86 253.18 L649.70 254.02 L650.54 256.13 L651.22 256.98 L651.81 253.60 L652.65 253.18 L653.49 259.93 L654.34 271.73 L655.18 272.58 L656.45 271.31 L657.46 270.47 L658.30 262.46 L659.14 254.87 L660.24 252.76 L661.08 253.18 L661.93 257.40 L662.60 261.19 L663.36 259.93 L664.04 254.87 L664.88 252.76 L665.89 254.02 L666.99 256.55 L667.83 254.45 L668.42 254.87 L669.10 259.93 L669.77 261.19 L670.61 257.40 L671.63 254.02 L672.72 253.18 L673.00 253.60 L674.27 254.02 L675.36 256.13 L676.37 253.18 L677.64 252.76 L678.90 253.60 L680.17 254.45 L681.43 257.82 L682.70 254.45 L683.96 253.18 L685.65 253.18 L686.92 254.02 L688.18 255.29 L689.45 256.13 L690.71 256.13 L691.72 254.02 L692.57 252.34 L693.41 255.71 L694.25 258.66 L695.10 256.55 L695.94 253.18 L697.04 252.34 L698.30 252.76 L699.57 252.76 L700.83 253.18 L702.10 255.71 L702.69 258.24 L703.36 254.87 L704.04 254.45 L704.71 257.40 L705.39 260.35 L706.06 256.55 L706.73 252.76 L708.00 252.34 L709.27 252.34 L710.11 253.18 L710.95 258.24 L711.63 263.72 L712.22 263.30 L712.81 257.40 L713.48 254.45 L714.33 254.87 L715.17 258.24 L716.18 261.61 L717.28 263.30 L718.12 259.08 L718.96 253.60 L719.81 252.76 L720.65 253.18 L721.49 254.87 L722.17 255.71 L722.76 254.87 L723.43 262.46 L724.02 269.20 L724.45 271.57 L724.95 267.52 L725.63 258.24 L726.30 252.76 L726.98 253.18 L727.65 260.77 L728.33 268.36 L729.00 263.30 L729.67 254.87 L730.52 252.76 L731.61 253.60 L732.46 256.13 L733.30 254.45 L734.14 255.29 L734.99 253.60 L735.83 254.87 L736.67 253.18 L737.94 252.76 L738.95 254.87 L739.63 259.08 L740.22 260.35 L740.72 256.98 L741.00 253.60 L742.34 254.49 L743.50 253.16 L744.57 254.94 L745.64 253.60 L746.80 253.16 L748.13 255.39 L749.47 259.40 L750.63 255.39 L751.88 252.71 L753.48 252.27 L754.82 253.16 L755.98 255.39 L756.87 254.05 L757.94 257.17 L758.83 258.06 L759.90 254.49 L761.06 252.71 L762.40 253.16 L763.73 254.49 L764.63 255.39 L765.52 260.29 L766.14 262.52 L766.86 258.51 L767.75 254.05 L769.08 252.71 L770.42 254.05 L771.76 253.16 L773.10 253.60 L774.17 255.83 L775.33 257.61 L776.48 255.39 L777.55 252.71 L778.89 254.49 L779.78 257.61 L780.67 258.95 L781.83 255.83 L782.90 252.71 L783.97 253.60 L784.87 257.61 L785.58 260.29 L786.47 258.51 L787.36 254.49 L788.70 252.71 L790.04 253.60 L791.37 254.05 L792.71 253.60 L793.78 252.71 L794.67 255.83 L795.56 259.40 L796.46 257.17 L797.35 255.39 L798.24 256.72 L799.13 254.49 L800.29 253.60 L801.45 255.39 L802.34 257.61 L803.23 255.83 L804.30 259.40" stroke="#111" stroke-width="0.7" fill="none" stroke-linejoin="round"/>
<path d="M639.60 247.30V280.30" stroke="#ff0000" stroke-opacity="0.58" stroke-width="1.15"/>
<text transform="translate(44.60 445.75)" text-anchor="middle" font-size="10.1">35</text>
<text transform="translate(116.33 445.75)" text-anchor="middle" font-size="10.1">35.5</text>
<text transform="translate(188.07 445.75)" text-anchor="middle" font-size="10.1">36</text>
<text transform="translate(259.80 445.75)" text-anchor="middle" font-size="10.1">36.5</text>
<text transform="translate(37.00 363.55)" text-anchor="end" font-size="10.1">21</text>
<text transform="translate(37.00 387.55)" text-anchor="end" font-size="10.1">22</text>
<text transform="translate(37.00 411.55)" text-anchor="end" font-size="10.1">23</text>
<text transform="translate(37.00 435.55)" text-anchor="end" font-size="10.1">24</text>
<path d="M43.50 432.15v-4.60 M43.50 360.15v4.60 M57.85 432.15v-2.30 M57.85 360.15v2.30 M72.19 432.15v-2.30 M72.19 360.15v2.30 M86.54 432.15v-2.30 M86.54 360.15v2.30 M100.89 432.15v-2.30 M100.89 360.15v2.30 M115.23 432.15v-4.60 M115.23 360.15v4.60 M129.58 432.15v-2.30 M129.58 360.15v2.30 M143.93 432.15v-2.30 M143.93 360.15v2.30 M158.27 432.15v-2.30 M158.27 360.15v2.30 M172.62 432.15v-2.30 M172.62 360.15v2.30 M186.97 432.15v-4.60 M186.97 360.15v4.60 M201.31 432.15v-2.30 M201.31 360.15v2.30 M215.66 432.15v-2.30 M215.66 360.15v2.30 M230.01 432.15v-2.30 M230.01 360.15v2.30 M244.35 432.15v-2.30 M244.35 360.15v2.30 M258.70 432.15v-4.60 M258.70 360.15v4.60 M43.50 360.15h4.60 M258.70 360.15h-4.60 M43.50 364.95h2.30 M258.70 364.95h-2.30 M43.50 369.75h2.30 M258.70 369.75h-2.30 M43.50 374.55h2.30 M258.70 374.55h-2.30 M43.50 379.35h2.30 M258.70 379.35h-2.30 M43.50 384.15h4.60 M258.70 384.15h-4.60 M43.50 388.95h2.30 M258.70 388.95h-2.30 M43.50 393.75h2.30 M258.70 393.75h-2.30 M43.50 398.55h2.30 M258.70 398.55h-2.30 M43.50 403.35h2.30 M258.70 403.35h-2.30 M43.50 408.15h4.60 M258.70 408.15h-4.60 M43.50 412.95h2.30 M258.70 412.95h-2.30 M43.50 417.75h2.30 M258.70 417.75h-2.30 M43.50 422.55h2.30 M258.70 422.55h-2.30 M43.50 427.35h2.30 M258.70 427.35h-2.30 M43.50 432.15h4.60 M258.70 432.15h-4.60" stroke="#000" stroke-width="0.6" fill="none"/>
<rect x="43.50" y="360.15" width="215.20" height="72.00" fill="none" stroke="#000" stroke-width="1.1"/>
<text transform="translate(150.70 460.85)" text-anchor="middle" font-size="9.0" textLength="68.00" lengthAdjust="spacingAndGlyphs">BJD−2457400 (d)</text>
<text transform="translate(11.60 396.35) rotate(-90)" text-anchor="middle" font-size="9.0" textLength="30.00" lengthAdjust="spacingAndGlyphs">Kp mag</text>
<path d="M51.37 374.69V385.95 M54.34 386.36V405.82 M57.20 379.09V390.36 M60.28 380.22V397.63 M77.69 383.70V400.08 M80.66 380.73V394.04 M83.52 387.59V405.00 M86.49 380.83V393.12 M89.46 369.05V378.27 M92.43 386.46V402.85 M104.21 378.78V392.10 M106.98 392.40V415.96 M109.95 387.69V407.15 M112.92 383.19V398.55 M115.78 376.43V387.69 M118.65 395.48V423.13 M121.62 388.61V409.10 M124.49 380.63V392.92 M127.51 383.08V397.42 M130.37 371.10V380.32 M133.34 394.14V421.80 M139.39 385.85V402.23 M142.25 380.01V392.30 M145.12 390.46V412.99 M148.09 388.31V409.81 M150.96 388.51V408.99 M153.83 381.65V394.96 M156.80 379.09V391.38 M159.66 390.77V414.32 M162.73 397.22V432.15 M165.50 378.27V390.56 M168.47 377.35V388.61 M171.44 380.63V392.92 M174.41 388.61V410.12 M183.22 375.81V388.10 M186.19 383.29V403.77 M189.16 377.55V390.87 M192.02 379.81V394.14 M194.99 376.84V390.15 M197.86 377.76V391.07 M200.83 374.38V386.67 M203.80 391.38V416.98" stroke="#d0d0d0" stroke-width="0.9" fill="none"/>
<g fill="#000"><circle cx="51.37" cy="380.32" r="1.65"/><circle cx="54.34" cy="396.09" r="1.65"/><circle cx="57.20" cy="384.72" r="1.65"/><circle cx="60.28" cy="388.92" r="1.65"/><circle cx="77.69" cy="391.89" r="1.65"/><circle cx="80.66" cy="387.39" r="1.65"/><circle cx="83.52" cy="396.30" r="1.65"/><circle cx="86.49" cy="386.98" r="1.65"/><circle cx="89.46" cy="373.66" r="1.65"/><circle cx="92.43" cy="394.66" r="1.65"/><circle cx="104.21" cy="385.44" r="1.65"/><circle cx="106.98" cy="404.18" r="1.65"/><circle cx="109.95" cy="397.42" r="1.65"/><circle cx="112.92" cy="390.87" r="1.65"/><circle cx="115.78" cy="382.06" r="1.65"/><circle cx="118.65" cy="409.30" r="1.65"/><circle cx="121.62" cy="398.86" r="1.65"/><circle cx="124.49" cy="386.77" r="1.65"/><circle cx="127.51" cy="390.25" r="1.65"/><circle cx="130.37" cy="375.71" r="1.65"/><circle cx="133.34" cy="407.97" r="1.65"/><circle cx="139.39" cy="394.04" r="1.65"/><circle cx="142.25" cy="386.16" r="1.65"/><circle cx="145.12" cy="401.72" r="1.65"/><circle cx="148.09" cy="399.06" r="1.65"/><circle cx="150.96" cy="398.75" r="1.65"/><circle cx="153.83" cy="388.31" r="1.65"/><circle cx="156.80" cy="385.23" r="1.65"/><circle cx="159.66" cy="402.54" r="1.65"/><circle cx="162.73" cy="416.67" r="1.65"/><circle cx="165.50" cy="384.42" r="1.65"/><circle cx="168.47" cy="382.98" r="1.65"/><circle cx="171.44" cy="386.77" r="1.65"/><circle cx="174.41" cy="399.37" r="1.65"/><circle cx="183.22" cy="381.96" r="1.65"/><circle cx="186.19" cy="393.53" r="1.65"/><circle cx="189.16" cy="384.21" r="1.65"/><circle cx="192.02" cy="386.98" r="1.65"/><circle cx="194.99" cy="383.49" r="1.65"/><circle cx="197.86" cy="384.42" r="1.65"/><circle cx="200.83" cy="380.52" r="1.65"/><circle cx="203.80" cy="404.18" r="1.65"/></g>
<text transform="translate(248.90 371.75)" text-anchor="end" font-size="10.1">449579</text>
<text transform="translate(321.20 445.75)" text-anchor="middle" font-size="10.1">0</text>
<text transform="translate(343.10 445.75)" text-anchor="middle" font-size="10.1">0.25</text>
<text transform="translate(365.00 445.75)" text-anchor="middle" font-size="10.1">0.5</text>
<text transform="translate(386.90 445.75)" text-anchor="middle" font-size="10.1">0.75</text>
<text transform="translate(408.80 445.75)" text-anchor="middle" font-size="10.1">1</text>
<text transform="translate(430.70 445.75)" text-anchor="middle" font-size="10.1">1.25</text>
<text transform="translate(452.60 445.75)" text-anchor="middle" font-size="10.1">1.5</text>
<text transform="translate(474.50 445.75)" text-anchor="middle" font-size="10.1">1.75</text>
<text transform="translate(496.40 445.75)" text-anchor="middle" font-size="10.1">2</text>
<text transform="translate(313.60 363.55)" text-anchor="end" font-size="10.1">21</text>
<text transform="translate(313.60 387.55)" text-anchor="end" font-size="10.1">22</text>
<text transform="translate(313.60 411.55)" text-anchor="end" font-size="10.1">23</text>
<text transform="translate(313.60 435.55)" text-anchor="end" font-size="10.1">24</text>
<path d="M320.10 432.15v-4.60 M320.10 360.15v4.60 M324.48 432.15v-2.30 M324.48 360.15v2.30 M328.86 432.15v-2.30 M328.86 360.15v2.30 M333.24 432.15v-2.30 M333.24 360.15v2.30 M337.62 432.15v-2.30 M337.62 360.15v2.30 M342.00 432.15v-4.60 M342.00 360.15v4.60 M346.38 432.15v-2.30 M346.38 360.15v2.30 M350.76 432.15v-2.30 M350.76 360.15v2.30 M355.14 432.15v-2.30 M355.14 360.15v2.30 M359.52 432.15v-2.30 M359.52 360.15v2.30 M363.90 432.15v-4.60 M363.90 360.15v4.60 M368.28 432.15v-2.30 M368.28 360.15v2.30 M372.66 432.15v-2.30 M372.66 360.15v2.30 M377.04 432.15v-2.30 M377.04 360.15v2.30 M381.42 432.15v-2.30 M381.42 360.15v2.30 M385.80 432.15v-4.60 M385.80 360.15v4.60 M390.18 432.15v-2.30 M390.18 360.15v2.30 M394.56 432.15v-2.30 M394.56 360.15v2.30 M398.94 432.15v-2.30 M398.94 360.15v2.30 M403.32 432.15v-2.30 M403.32 360.15v2.30 M407.70 432.15v-4.60 M407.70 360.15v4.60 M412.08 432.15v-2.30 M412.08 360.15v2.30 M416.46 432.15v-2.30 M416.46 360.15v2.30 M420.84 432.15v-2.30 M420.84 360.15v2.30 M425.22 432.15v-2.30 M425.22 360.15v2.30 M429.60 432.15v-4.60 M429.60 360.15v4.60 M433.98 432.15v-2.30 M433.98 360.15v2.30 M438.36 432.15v-2.30 M438.36 360.15v2.30 M442.74 432.15v-2.30 M442.74 360.15v2.30 M447.12 432.15v-2.30 M447.12 360.15v2.30 M451.50 432.15v-4.60 M451.50 360.15v4.60 M455.88 432.15v-2.30 M455.88 360.15v2.30 M460.26 432.15v-2.30 M460.26 360.15v2.30 M464.64 432.15v-2.30 M464.64 360.15v2.30 M469.02 432.15v-2.30 M469.02 360.15v2.30 M473.40 432.15v-4.60 M473.40 360.15v4.60 M477.78 432.15v-2.30 M477.78 360.15v2.30 M482.16 432.15v-2.30 M482.16 360.15v2.30 M486.54 432.15v-2.30 M486.54 360.15v2.30 M490.92 432.15v-2.30 M490.92 360.15v2.30 M495.30 432.15v-4.60 M495.30 360.15v4.60 M320.10 360.15h4.60 M495.30 360.15h-4.60 M320.10 364.95h2.30 M495.30 364.95h-2.30 M320.10 369.75h2.30 M495.30 369.75h-2.30 M320.10 374.55h2.30 M495.30 374.55h-2.30 M320.10 379.35h2.30 M495.30 379.35h-2.30 M320.10 384.15h4.60 M495.30 384.15h-4.60 M320.10 388.95h2.30 M495.30 388.95h-2.30 M320.10 393.75h2.30 M495.30 393.75h-2.30 M320.10 398.55h2.30 M495.30 398.55h-2.30 M320.10 403.35h2.30 M495.30 403.35h-2.30 M320.10 408.15h4.60 M495.30 408.15h-4.60 M320.10 412.95h2.30 M495.30 412.95h-2.30 M320.10 417.75h2.30 M495.30 417.75h-2.30 M320.10 422.55h2.30 M495.30 422.55h-2.30 M320.10 427.35h2.30 M495.30 427.35h-2.30 M320.10 432.15h4.60 M495.30 432.15h-4.60" stroke="#000" stroke-width="0.6" fill="none"/>
<rect x="320.10" y="360.15" width="175.20" height="72.00" fill="none" stroke="#000" stroke-width="1.1"/>
<text transform="translate(407.30 460.85)" text-anchor="middle" font-size="9.0" textLength="103.00" lengthAdjust="spacingAndGlyphs">Rotation phase – P = 4.5 h</text>
<text transform="translate(288.00 396.35) rotate(-90)" text-anchor="middle" font-size="9.0" textLength="30.00" lengthAdjust="spacingAndGlyphs">Kp mag</text>
<clipPath id="cm3"><rect x="318.10" y="360.15" width="179.20" height="72.00"/></clipPath>
<g clip-path="url(#cm3)"><g stroke-width="0.72" opacity="0.95"><path d="M400.18 374.69V385.95" stroke="#31003a"/><path d="M487.78 374.69V385.95" stroke="#31003a"/><path d="M322.27 386.36V405.82" stroke="#39004f"/><path d="M409.87 386.36V405.82" stroke="#39004f"/><path d="M331.64 379.09V390.36" stroke="#400063"/><path d="M419.24 379.09V390.36" stroke="#400063"/><path d="M341.67 380.22V397.63" stroke="#470078"/><path d="M429.27 380.22V397.63" stroke="#470078"/><path d="M398.51 383.70V400.08" stroke="#6601d6"/><path d="M486.11 383.70V400.08" stroke="#6601d6"/><path d="M320.61 380.73V394.04" stroke="#6a01e1"/><path d="M408.21 380.73V394.04" stroke="#6a01e1"/><path d="M329.97 387.59V405.00" stroke="#6e02eb"/><path d="M417.57 387.59V405.00" stroke="#6e02eb"/><path d="M339.67 380.83V393.12" stroke="#7202f2"/><path d="M427.27 380.83V393.12" stroke="#7202f2"/><path d="M349.37 369.05V378.27" stroke="#7602f8"/><path d="M436.97 369.05V378.27" stroke="#7602f8"/><path d="M359.07 386.46V402.85" stroke="#7a03fc"/><path d="M446.67 386.46V402.85" stroke="#7a03fc"/><path d="M397.52 378.78V392.10" stroke="#8706fa"/><path d="M485.12 378.78V392.10" stroke="#8706fa"/><path d="M406.55 392.40V415.96" stroke="#8a07f5"/><path d="M494.15 392.40V415.96" stroke="#8a07f5"/><path d="M328.65 387.69V407.15" stroke="#8e08ee"/><path d="M416.25 387.69V407.15" stroke="#8e08ee"/><path d="M338.34 383.19V398.55" stroke="#9109e5"/><path d="M425.94 383.19V398.55" stroke="#9109e5"/><path d="M347.71 376.43V387.69" stroke="#940adb"/><path d="M435.31 376.43V387.69" stroke="#940adb"/><path d="M357.07 395.48V423.13" stroke="#970bcf"/><path d="M444.67 395.48V423.13" stroke="#970bcf"/><path d="M366.77 388.61V409.10" stroke="#9a0cc1"/><path d="M454.37 388.61V409.10" stroke="#9a0cc1"/><path d="M376.13 380.63V392.92" stroke="#9c0eb3"/><path d="M463.73 380.63V392.92" stroke="#9c0eb3"/><path d="M385.98 383.08V397.42" stroke="#9f0fa2"/><path d="M473.58 383.08V397.42" stroke="#9f0fa2"/><path d="M395.35 371.10V380.32" stroke="#a21191"/><path d="M482.95 371.10V380.32" stroke="#a21191"/><path d="M405.04 394.14V421.80" stroke="#a5137e"/><path d="M492.64 394.14V421.80" stroke="#a5137e"/><path d="M337.17 385.85V402.23" stroke="#aa1756"/><path d="M424.77 385.85V402.23" stroke="#aa1756"/><path d="M346.54 380.01V392.30" stroke="#ad1941"/><path d="M434.14 380.01V392.30" stroke="#ad1941"/><path d="M355.90 390.46V412.99" stroke="#af1b2c"/><path d="M443.50 390.46V412.99" stroke="#af1b2c"/><path d="M365.60 388.31V409.81" stroke="#b21d16"/><path d="M453.20 388.31V409.81" stroke="#b21d16"/><path d="M374.96 388.51V408.99" stroke="#b42001"/><path d="M462.56 388.51V408.99" stroke="#b42001"/><path d="M384.32 381.65V394.96" stroke="#b72200"/><path d="M471.92 381.65V394.96" stroke="#b72200"/><path d="M394.02 379.09V391.38" stroke="#b92500"/><path d="M481.62 379.09V391.38" stroke="#b92500"/><path d="M403.38 390.77V414.32" stroke="#bb2800"/><path d="M490.98 390.77V414.32" stroke="#bb2800"/><path d="M325.81 397.22V432.15" stroke="#be2b00"/><path d="M413.41 397.22V432.15" stroke="#be2b00"/><path d="M334.84 378.27V390.56" stroke="#c02e00"/><path d="M422.44 378.27V390.56" stroke="#c02e00"/><path d="M344.54 377.35V388.61" stroke="#c23200"/><path d="M432.14 377.35V388.61" stroke="#c23200"/><path d="M354.24 380.63V392.92" stroke="#c53600"/><path d="M441.84 380.63V392.92" stroke="#c53600"/><path d="M363.93 388.61V410.12" stroke="#c73900"/><path d="M451.53 388.61V410.12" stroke="#c73900"/><path d="M392.69 375.81V388.10" stroke="#cd4600"/><path d="M480.29 375.81V388.10" stroke="#cd4600"/><path d="M402.39 383.29V403.77" stroke="#d04a00"/><path d="M489.99 383.29V403.77" stroke="#d04a00"/><path d="M324.49 377.55V390.87" stroke="#d24f00"/><path d="M412.09 377.55V390.87" stroke="#d24f00"/><path d="M333.85 379.81V394.14" stroke="#d45400"/><path d="M421.45 379.81V394.14" stroke="#d45400"/><path d="M343.55 376.84V390.15" stroke="#d65900"/><path d="M431.15 376.84V390.15" stroke="#d65900"/><path d="M352.91 377.76V391.07" stroke="#d85e00"/><path d="M440.51 377.76V391.07" stroke="#d85e00"/><path d="M362.61 374.38V386.67" stroke="#da6400"/><path d="M450.21 374.38V386.67" stroke="#da6400"/><path d="M372.30 391.38V416.98" stroke="#dc6900"/><path d="M459.90 391.38V416.98" stroke="#dc6900"/></g><circle cx="400.18" cy="380.32" r="1.8" fill="#31003a"/><circle cx="487.78" cy="380.32" r="1.8" fill="#31003a"/><circle cx="322.27" cy="396.09" r="1.8" fill="#39004f"/><circle cx="409.87" cy="396.09" r="1.8" fill="#39004f"/><circle cx="331.64" cy="384.72" r="1.8" fill="#400063"/><circle cx="419.24" cy="384.72" r="1.8" fill="#400063"/><circle cx="341.67" cy="388.92" r="1.8" fill="#470078"/><circle cx="429.27" cy="388.92" r="1.8" fill="#470078"/><circle cx="398.51" cy="391.89" r="1.8" fill="#6601d6"/><circle cx="486.11" cy="391.89" r="1.8" fill="#6601d6"/><circle cx="320.61" cy="387.39" r="1.8" fill="#6a01e1"/><circle cx="408.21" cy="387.39" r="1.8" fill="#6a01e1"/><circle cx="329.97" cy="396.30" r="1.8" fill="#6e02eb"/><circle cx="417.57" cy="396.30" r="1.8" fill="#6e02eb"/><circle cx="339.67" cy="386.98" r="1.8" fill="#7202f2"/><circle cx="427.27" cy="386.98" r="1.8" fill="#7202f2"/><circle cx="349.37" cy="373.66" r="1.8" fill="#7602f8"/><circle cx="436.97" cy="373.66" r="1.8" fill="#7602f8"/><circle cx="359.07" cy="394.66" r="1.8" fill="#7a03fc"/><circle cx="446.67" cy="394.66" r="1.8" fill="#7a03fc"/><circle cx="397.52" cy="385.44" r="1.8" fill="#8706fa"/><circle cx="485.12" cy="385.44" r="1.8" fill="#8706fa"/><circle cx="406.55" cy="404.18" r="1.8" fill="#8a07f5"/><circle cx="494.15" cy="404.18" r="1.8" fill="#8a07f5"/><circle cx="328.65" cy="397.42" r="1.8" fill="#8e08ee"/><circle cx="416.25" cy="397.42" r="1.8" fill="#8e08ee"/><circle cx="338.34" cy="390.87" r="1.8" fill="#9109e5"/><circle cx="425.94" cy="390.87" r="1.8" fill="#9109e5"/><circle cx="347.71" cy="382.06" r="1.8" fill="#940adb"/><circle cx="435.31" cy="382.06" r="1.8" fill="#940adb"/><circle cx="357.07" cy="409.30" r="1.8" fill="#970bcf"/><circle cx="444.67" cy="409.30" r="1.8" fill="#970bcf"/><circle cx="366.77" cy="398.86" r="1.8" fill="#9a0cc1"/><circle cx="454.37" cy="398.86" r="1.8" fill="#9a0cc1"/><circle cx="376.13" cy="386.77" r="1.8" fill="#9c0eb3"/><circle cx="463.73" cy="386.77" r="1.8" fill="#9c0eb3"/><circle cx="385.98" cy="390.25" r="1.8" fill="#9f0fa2"/><circle cx="473.58" cy="390.25" r="1.8" fill="#9f0fa2"/><circle cx="395.35" cy="375.71" r="1.8" fill="#a21191"/><circle cx="482.95" cy="375.71" r="1.8" fill="#a21191"/><circle cx="405.04" cy="407.97" r="1.8" fill="#a5137e"/><circle cx="492.64" cy="407.97" r="1.8" fill="#a5137e"/><circle cx="337.17" cy="394.04" r="1.8" fill="#aa1756"/><circle cx="424.77" cy="394.04" r="1.8" fill="#aa1756"/><circle cx="346.54" cy="386.16" r="1.8" fill="#ad1941"/><circle cx="434.14" cy="386.16" r="1.8" fill="#ad1941"/><circle cx="355.90" cy="401.72" r="1.8" fill="#af1b2c"/><circle cx="443.50" cy="401.72" r="1.8" fill="#af1b2c"/><circle cx="365.60" cy="399.06" r="1.8" fill="#b21d16"/><circle cx="453.20" cy="399.06" r="1.8" fill="#b21d16"/><circle cx="374.96" cy="398.75" r="1.8" fill="#b42001"/><circle cx="462.56" cy="398.75" r="1.8" fill="#b42001"/><circle cx="384.32" cy="388.31" r="1.8" fill="#b72200"/><circle cx="471.92" cy="388.31" r="1.8" fill="#b72200"/><circle cx="394.02" cy="385.23" r="1.8" fill="#b92500"/><circle cx="481.62" cy="385.23" r="1.8" fill="#b92500"/><circle cx="403.38" cy="402.54" r="1.8" fill="#bb2800"/><circle cx="490.98" cy="402.54" r="1.8" fill="#bb2800"/><circle cx="325.81" cy="416.67" r="1.8" fill="#be2b00"/><circle cx="413.41" cy="416.67" r="1.8" fill="#be2b00"/><circle cx="334.84" cy="384.42" r="1.8" fill="#c02e00"/><circle cx="422.44" cy="384.42" r="1.8" fill="#c02e00"/><circle cx="344.54" cy="382.98" r="1.8" fill="#c23200"/><circle cx="432.14" cy="382.98" r="1.8" fill="#c23200"/><circle cx="354.24" cy="386.77" r="1.8" fill="#c53600"/><circle cx="441.84" cy="386.77" r="1.8" fill="#c53600"/><circle cx="363.93" cy="399.37" r="1.8" fill="#c73900"/><circle cx="451.53" cy="399.37" r="1.8" fill="#c73900"/><circle cx="392.69" cy="381.96" r="1.8" fill="#cd4600"/><circle cx="480.29" cy="381.96" r="1.8" fill="#cd4600"/><circle cx="402.39" cy="393.53" r="1.8" fill="#d04a00"/><circle cx="489.99" cy="393.53" r="1.8" fill="#d04a00"/><circle cx="324.49" cy="384.21" r="1.8" fill="#d24f00"/><circle cx="412.09" cy="384.21" r="1.8" fill="#d24f00"/><circle cx="333.85" cy="386.98" r="1.8" fill="#d45400"/><circle cx="421.45" cy="386.98" r="1.8" fill="#d45400"/><circle cx="343.55" cy="383.49" r="1.8" fill="#d65900"/><circle cx="431.15" cy="383.49" r="1.8" fill="#d65900"/><circle cx="352.91" cy="384.42" r="1.8" fill="#d85e00"/><circle cx="440.51" cy="384.42" r="1.8" fill="#d85e00"/><circle cx="362.61" cy="380.52" r="1.8" fill="#da6400"/><circle cx="450.21" cy="380.52" r="1.8" fill="#da6400"/><circle cx="372.30" cy="404.18" r="1.8" fill="#dc6900"/><circle cx="459.90" cy="404.18" r="1.8" fill="#dc6900"/></g>
<rect x="499.20" y="360.15" width="9.20" height="72.00" fill="url(#pal)" stroke="#222" stroke-width="0.6"/>
<text transform="translate(517.00 435.45)" text-anchor="start" font-size="10.1">35</text>
<text transform="translate(517.00 411.45)" text-anchor="start" font-size="10.1">35.5</text>
<text transform="translate(517.00 387.45)" text-anchor="start" font-size="10.1">36</text>
<text transform="translate(517.00 363.45)" text-anchor="start" font-size="10.1">36.5</text>
<path d="M499.20 408.15H508.40 M499.20 384.15H508.40" stroke="#000" stroke-width="0.6"/>
<text transform="translate(610.00 445.75)" text-anchor="middle" font-size="10.1">0</text>
<text transform="translate(625.65 445.75)" text-anchor="middle" font-size="10.1">2</text>
<text transform="translate(641.31 445.75)" text-anchor="middle" font-size="10.1">4</text>
<text transform="translate(656.96 445.75)" text-anchor="middle" font-size="10.1">6</text>
<text transform="translate(672.62 445.75)" text-anchor="middle" font-size="10.1">8</text>
<text transform="translate(688.27 445.75)" text-anchor="middle" font-size="10.1">10</text>
<text transform="translate(703.92 445.75)" text-anchor="middle" font-size="10.1">12</text>
<text transform="translate(719.58 445.75)" text-anchor="middle" font-size="10.1">14</text>
<text transform="translate(735.23 445.75)" text-anchor="middle" font-size="10.1">16</text>
<text transform="translate(750.88 445.75)" text-anchor="middle" font-size="10.1">18</text>
<text transform="translate(766.54 445.75)" text-anchor="middle" font-size="10.1">20</text>
<text transform="translate(782.19 445.75)" text-anchor="middle" font-size="10.1">22</text>
<text transform="translate(797.85 445.75)" text-anchor="middle" font-size="10.1">24</text>
<text transform="translate(813.50 445.75)" text-anchor="middle" font-size="10.1">26</text>
<text transform="translate(603.10 435.55)" text-anchor="end" font-size="10.1">0.3</text>
<text transform="translate(603.10 421.15)" text-anchor="end" font-size="10.1">0.32</text>
<text transform="translate(603.10 406.75)" text-anchor="end" font-size="10.1">0.34</text>
<text transform="translate(603.10 392.35)" text-anchor="end" font-size="10.1">0.36</text>
<text transform="translate(603.10 377.95)" text-anchor="end" font-size="10.1">0.38</text>
<text transform="translate(603.10 363.55)" text-anchor="end" font-size="10.1">0.4</text>
<path d="M608.90 432.15v-4.60 M608.90 360.15v4.60 M612.81 432.15v-2.30 M612.81 360.15v2.30 M616.73 432.15v-2.30 M616.73 360.15v2.30 M620.64 432.15v-2.30 M620.64 360.15v2.30 M624.55 432.15v-4.60 M624.55 360.15v4.60 M628.47 432.15v-2.30 M628.47 360.15v2.30 M632.38 432.15v-2.30 M632.38 360.15v2.30 M636.29 432.15v-2.30 M636.29 360.15v2.30 M640.21 432.15v-4.60 M640.21 360.15v4.60 M644.12 432.15v-2.30 M644.12 360.15v2.30 M648.03 432.15v-2.30 M648.03 360.15v2.30 M651.95 432.15v-2.30 M651.95 360.15v2.30 M655.86 432.15v-4.60 M655.86 360.15v4.60 M659.77 432.15v-2.30 M659.77 360.15v2.30 M663.69 432.15v-2.30 M663.69 360.15v2.30 M667.60 432.15v-2.30 M667.60 360.15v2.30 M671.52 432.15v-4.60 M671.52 360.15v4.60 M675.43 432.15v-2.30 M675.43 360.15v2.30 M679.34 432.15v-2.30 M679.34 360.15v2.30 M683.26 432.15v-2.30 M683.26 360.15v2.30 M687.17 432.15v-4.60 M687.17 360.15v4.60 M691.08 432.15v-2.30 M691.08 360.15v2.30 M695.00 432.15v-2.30 M695.00 360.15v2.30 M698.91 432.15v-2.30 M698.91 360.15v2.30 M702.82 432.15v-4.60 M702.82 360.15v4.60 M706.74 432.15v-2.30 M706.74 360.15v2.30 M710.65 432.15v-2.30 M710.65 360.15v2.30 M714.56 432.15v-2.30 M714.56 360.15v2.30 M718.48 432.15v-4.60 M718.48 360.15v4.60 M722.39 432.15v-2.30 M722.39 360.15v2.30 M726.30 432.15v-2.30 M726.30 360.15v2.30 M730.22 432.15v-2.30 M730.22 360.15v2.30 M734.13 432.15v-4.60 M734.13 360.15v4.60 M738.04 432.15v-2.30 M738.04 360.15v2.30 M741.96 432.15v-2.30 M741.96 360.15v2.30 M745.87 432.15v-2.30 M745.87 360.15v2.30 M749.78 432.15v-4.60 M749.78 360.15v4.60 M753.70 432.15v-2.30 M753.70 360.15v2.30 M757.61 432.15v-2.30 M757.61 360.15v2.30 M761.52 432.15v-2.30 M761.52 360.15v2.30 M765.44 432.15v-4.60 M765.44 360.15v4.60 M769.35 432.15v-2.30 M769.35 360.15v2.30 M773.27 432.15v-2.30 M773.27 360.15v2.30 M777.18 432.15v-2.30 M777.18 360.15v2.30 M781.09 432.15v-4.60 M781.09 360.15v4.60 M785.01 432.15v-2.30 M785.01 360.15v2.30 M788.92 432.15v-2.30 M788.92 360.15v2.30 M792.83 432.15v-2.30 M792.83 360.15v2.30 M796.75 432.15v-4.60 M796.75 360.15v4.60 M800.66 432.15v-2.30 M800.66 360.15v2.30 M804.57 432.15v-2.30 M804.57 360.15v2.30 M808.49 432.15v-2.30 M808.49 360.15v2.30 M812.40 432.15v-4.60 M812.40 360.15v4.60 M608.90 432.15h4.60 M812.40 432.15h-4.60 M608.90 429.27h2.30 M812.40 429.27h-2.30 M608.90 426.39h2.30 M812.40 426.39h-2.30 M608.90 423.51h2.30 M812.40 423.51h-2.30 M608.90 420.63h2.30 M812.40 420.63h-2.30 M608.90 417.75h4.60 M812.40 417.75h-4.60 M608.90 414.87h2.30 M812.40 414.87h-2.30 M608.90 411.99h2.30 M812.40 411.99h-2.30 M608.90 409.11h2.30 M812.40 409.11h-2.30 M608.90 406.23h2.30 M812.40 406.23h-2.30 M608.90 403.35h4.60 M812.40 403.35h-4.60 M608.90 400.47h2.30 M812.40 400.47h-2.30 M608.90 397.59h2.30 M812.40 397.59h-2.30 M608.90 394.71h2.30 M812.40 394.71h-2.30 M608.90 391.83h2.30 M812.40 391.83h-2.30 M608.90 388.95h4.60 M812.40 388.95h-4.60 M608.90 386.07h2.30 M812.40 386.07h-2.30 M608.90 383.19h2.30 M812.40 383.19h-2.30 M608.90 380.31h2.30 M812.40 380.31h-2.30 M608.90 377.43h2.30 M812.40 377.43h-2.30 M608.90 374.55h4.60 M812.40 374.55h-4.60 M608.90 371.67h2.30 M812.40 371.67h-2.30 M608.90 368.79h2.30 M812.40 368.79h-2.30 M608.90 365.91h2.30 M812.40 365.91h-2.30 M608.90 363.03h2.30 M812.40 363.03h-2.30 M608.90 360.15h4.60 M812.40 360.15h-4.60" stroke="#000" stroke-width="0.6" fill="none"/>
<rect x="608.90" y="360.15" width="203.50" height="72.00" fill="none" stroke="#000" stroke-width="1.1"/>
<text transform="translate(710.25 460.85)" text-anchor="middle" font-size="9.0" textLength="61.20" lengthAdjust="spacingAndGlyphs">Frequency (1/d)</text>
<text transform="translate(564.50 396.35) rotate(-90)" text-anchor="middle" font-size="9.0" textLength="68.20" lengthAdjust="spacingAndGlyphs">Phase disp (mag)</text>
<path d="M609.64 377.19 L612.95 378.92 L615.60 380.11 L617.59 380.51 L619.31 377.86 L621.57 372.55 L624.22 370.57 L626.87 371.89 L629.52 373.61 L631.51 375.47 L632.57 376.27 L634.42 372.55 L636.81 369.64 L638.80 370.96 L641.45 373.22 L643.43 370.57 L645.42 368.31 L647.41 367.78 L650.72 368.31 L654.04 368.58 L657.35 370.17 L660.00 372.29 L662.65 374.14 L664.64 373.22 L666.63 370.57 L668.61 368.58 L671.27 367.52 L673.92 367.52 L677.23 368.58 L679.88 369.90 L681.87 372.29 L683.86 376.53 L685.58 383.16 L687.17 392.43 L688.76 403.04 L690.08 412.31 L691.41 419.60 L692.47 422.25 L693.53 419.60 L694.86 410.99 L696.45 397.73 L697.77 385.81 L699.10 376.53 L700.69 371.23 L702.41 368.31 L704.40 367.25 L706.39 367.92 L708.37 370.57 L710.36 375.20 L711.69 377.59 L713.89 375.20 L716.01 370.57 L717.60 368.58 L719.59 369.64 L721.58 371.23 L723.57 369.90 L726.22 367.92 L728.87 368.31 L731.52 368.84 L733.51 372.55 L735.49 377.19 L737.22 380.51 L738.54 381.57 L740.13 379.84 L742.12 376.53 L744.11 372.55 L746.10 369.24 L747.42 368.31 L749.14 370.57 L751.00 373.61 L752.06 374.14 L753.65 371.89 L755.37 369.24 L757.10 368.31 L759.35 368.84 L762.00 369.64 L763.72 372.55 L765.31 377.19 L767.30 380.51 L769.02 378.52 L771.28 374.54 L773.27 372.95 L775.25 373.88 L777.24 376.53 L779.63 378.52 L781.48 377.19 L783.20 373.22 L785.19 368.58 L787.18 367.25 L789.17 367.52 L790.76 369.24 L792.48 374.54 L794.20 381.17 L796.06 385.54 L797.78 386.60 L799.77 386.47 L802.69 386.73" stroke="#111" stroke-width="0.7" fill="none" stroke-linejoin="round"/>
<path d="M692.50 363.55V396.55" stroke="#ff0000" stroke-opacity="0.58" stroke-width="1.15"/>
<text transform="translate(44.60 562.00)" text-anchor="middle" font-size="10.1">40.5</text>
<text transform="translate(87.64 562.00)" text-anchor="middle" font-size="10.1">40.75</text>
<text transform="translate(130.68 562.00)" text-anchor="middle" font-size="10.1">41</text>
<text transform="translate(173.72 562.00)" text-anchor="middle" font-size="10.1">41.25</text>
<text transform="translate(216.76 562.00)" text-anchor="middle" font-size="10.1">41.5</text>
<text transform="translate(259.80 562.00)" text-anchor="middle" font-size="10.1">41.75</text>
<text transform="translate(37.00 479.80)" text-anchor="end" font-size="10.1">20</text>
<text transform="translate(37.00 497.80)" text-anchor="end" font-size="10.1">21</text>
<text transform="translate(37.00 515.80)" text-anchor="end" font-size="10.1">22</text>
<text transform="translate(37.00 533.80)" text-anchor="end" font-size="10.1">23</text>
<text transform="translate(37.00 551.80)" text-anchor="end" font-size="10.1">24</text>
<path d="M43.50 548.40v-4.60 M43.50 476.40v4.60 M52.11 548.40v-2.30 M52.11 476.40v2.30 M60.72 548.40v-2.30 M60.72 476.40v2.30 M69.32 548.40v-2.30 M69.32 476.40v2.30 M77.93 548.40v-2.30 M77.93 476.40v2.30 M86.54 548.40v-4.60 M86.54 476.40v4.60 M95.15 548.40v-2.30 M95.15 476.40v2.30 M103.76 548.40v-2.30 M103.76 476.40v2.30 M112.36 548.40v-2.30 M112.36 476.40v2.30 M120.97 548.40v-2.30 M120.97 476.40v2.30 M129.58 548.40v-4.60 M129.58 476.40v4.60 M138.19 548.40v-2.30 M138.19 476.40v2.30 M146.80 548.40v-2.30 M146.80 476.40v2.30 M155.40 548.40v-2.30 M155.40 476.40v2.30 M164.01 548.40v-2.30 M164.01 476.40v2.30 M172.62 548.40v-4.60 M172.62 476.40v4.60 M181.23 548.40v-2.30 M181.23 476.40v2.30 M189.84 548.40v-2.30 M189.84 476.40v2.30 M198.44 548.40v-2.30 M198.44 476.40v2.30 M207.05 548.40v-2.30 M207.05 476.40v2.30 M215.66 548.40v-4.60 M215.66 476.40v4.60 M224.27 548.40v-2.30 M224.27 476.40v2.30 M232.88 548.40v-2.30 M232.88 476.40v2.30 M241.48 548.40v-2.30 M241.48 476.40v2.30 M250.09 548.40v-2.30 M250.09 476.40v2.30 M258.70 548.40v-4.60 M258.70 476.40v4.60 M43.50 476.40h4.60 M258.70 476.40h-4.60 M43.50 480.00h2.30 M258.70 480.00h-2.30 M43.50 483.60h2.30 M258.70 483.60h-2.30 M43.50 487.20h2.30 M258.70 487.20h-2.30 M43.50 490.80h2.30 M258.70 490.80h-2.30 M43.50 494.40h4.60 M258.70 494.40h-4.60 M43.50 498.00h2.30 M258.70 498.00h-2.30 M43.50 501.60h2.30 M258.70 501.60h-2.30 M43.50 505.20h2.30 M258.70 505.20h-2.30 M43.50 508.80h2.30 M258.70 508.80h-2.30 M43.50 512.40h4.60 M258.70 512.40h-4.60 M43.50 516.00h2.30 M258.70 516.00h-2.30 M43.50 519.60h2.30 M258.70 519.60h-2.30 M43.50 523.20h2.30 M258.70 523.20h-2.30 M43.50 526.80h2.30 M258.70 526.80h-2.30 M43.50 530.40h4.60 M258.70 530.40h-4.60 M43.50 534.00h2.30 M258.70 534.00h-2.30 M43.50 537.60h2.30 M258.70 537.60h-2.30 M43.50 541.20h2.30 M258.70 541.20h-2.30 M43.50 544.80h2.30 M258.70 544.80h-2.30 M43.50 548.40h4.60 M258.70 548.40h-4.60" stroke="#000" stroke-width="0.6" fill="none"/>
<rect x="43.50" y="476.40" width="215.20" height="72.00" fill="none" stroke="#000" stroke-width="1.1"/>
<text transform="translate(150.70 577.10)" text-anchor="middle" font-size="9.0" textLength="68.00" lengthAdjust="spacingAndGlyphs">BJD−2457400 (d)</text>
<text transform="translate(11.60 512.60) rotate(-90)" text-anchor="middle" font-size="9.0" textLength="30.00" lengthAdjust="spacingAndGlyphs">Kp mag</text>
<path d="M62.89 496.42V509.73 M66.47 496.42V509.73 M73.43 498.78V512.09 M77.02 503.59V517.93 M94.63 503.28V515.57 M98.11 494.07V502.26 M101.60 500.31V510.55 M108.56 509.12V531.65 M112.14 501.34V511.58 M115.63 512.40V529.81 M122.59 511.17V527.55 M129.66 501.34V509.53 M133.24 503.59V512.19 M140.25 505.13V514.34 M143.73 508.10V520.39 M154.39 514.24V536.77 M157.77 513.22V526.53 M161.35 507.69V518.95 M164.83 504.00V513.22 M168.42 507.69V519.98 M171.90 503.18V512.40 M175.48 500.21V508.40 M189.51 499.08V507.69 M200.06 501.13V509.73 M207.13 506.15V516.39 M210.61 508.40V519.67 M214.09 507.38V520.69 M217.67 505.54V515.78 M221.16 503.39V512.60 M224.72 512.50V527.86 M228.20 504.31V513.52 M231.68 506.66V517.93 M235.37 501.85V510.04" stroke="#d0d0d0" stroke-width="0.9" fill="none"/>
<g fill="#000"><circle cx="62.89" cy="503.08" r="1.65"/><circle cx="66.47" cy="503.08" r="1.65"/><circle cx="73.43" cy="505.43" r="1.65"/><circle cx="77.02" cy="510.76" r="1.65"/><circle cx="94.63" cy="509.43" r="1.65"/><circle cx="98.11" cy="498.16" r="1.65"/><circle cx="101.60" cy="505.43" r="1.65"/><circle cx="108.56" cy="520.39" r="1.65"/><circle cx="112.14" cy="506.46" r="1.65"/><circle cx="115.63" cy="521.10" r="1.65"/><circle cx="122.59" cy="519.36" r="1.65"/><circle cx="129.66" cy="505.43" r="1.65"/><circle cx="133.24" cy="507.89" r="1.65"/><circle cx="140.25" cy="509.73" r="1.65"/><circle cx="143.73" cy="514.24" r="1.65"/><circle cx="154.39" cy="525.51" r="1.65"/><circle cx="157.77" cy="519.87" r="1.65"/><circle cx="161.35" cy="513.32" r="1.65"/><circle cx="164.83" cy="508.61" r="1.65"/><circle cx="168.42" cy="513.83" r="1.65"/><circle cx="171.90" cy="507.79" r="1.65"/><circle cx="175.48" cy="504.31" r="1.65"/><circle cx="189.51" cy="503.39" r="1.65"/><circle cx="200.06" cy="505.43" r="1.65"/><circle cx="207.13" cy="511.27" r="1.65"/><circle cx="210.61" cy="514.04" r="1.65"/><circle cx="214.09" cy="514.04" r="1.65"/><circle cx="217.67" cy="510.66" r="1.65"/><circle cx="221.16" cy="507.99" r="1.65"/><circle cx="224.72" cy="520.18" r="1.65"/><circle cx="228.20" cy="508.92" r="1.65"/><circle cx="231.68" cy="512.30" r="1.65"/><circle cx="235.37" cy="505.95" r="1.65"/></g>
<text transform="translate(248.90 488.00)" text-anchor="end" font-size="10.1">484673</text>
<text transform="translate(321.20 562.00)" text-anchor="middle" font-size="10.1">0</text>
<text transform="translate(343.10 562.00)" text-anchor="middle" font-size="10.1">0.25</text>
<text transform="translate(365.00 562.00)" text-anchor="middle" font-size="10.1">0.5</text>
<text transform="translate(386.90 562.00)" text-anchor="middle" font-size="10.1">0.75</text>
<text transform="translate(408.80 562.00)" text-anchor="middle" font-size="10.1">1</text>
<text transform="translate(430.70 562.00)" text-anchor="middle" font-size="10.1">1.25</text>
<text transform="translate(452.60 562.00)" text-anchor="middle" font-size="10.1">1.5</text>
<text transform="translate(474.50 562.00)" text-anchor="middle" font-size="10.1">1.75</text>
<text transform="translate(496.40 562.00)" text-anchor="middle" font-size="10.1">2</text>
<text transform="translate(313.60 479.80)" text-anchor="end" font-size="10.1">20</text>
<text transform="translate(313.60 497.80)" text-anchor="end" font-size="10.1">21</text>
<text transform="translate(313.60 515.80)" text-anchor="end" font-size="10.1">22</text>
<text transform="translate(313.60 533.80)" text-anchor="end" font-size="10.1">23</text>
<text transform="translate(313.60 551.80)" text-anchor="end" font-size="10.1">24</text>
<path d="M320.10 548.40v-4.60 M320.10 476.40v4.60 M324.48 548.40v-2.30 M324.48 476.40v2.30 M328.86 548.40v-2.30 M328.86 476.40v2.30 M333.24 548.40v-2.30 M333.24 476.40v2.30 M337.62 548.40v-2.30 M337.62 476.40v2.30 M342.00 548.40v-4.60 M342.00 476.40v4.60 M346.38 548.40v-2.30 M346.38 476.40v2.30 M350.76 548.40v-2.30 M350.76 476.40v2.30 M355.14 548.40v-2.30 M355.14 476.40v2.30 M359.52 548.40v-2.30 M359.52 476.40v2.30 M363.90 548.40v-4.60 M363.90 476.40v4.60 M368.28 548.40v-2.30 M368.28 476.40v2.30 M372.66 548.40v-2.30 M372.66 476.40v2.30 M377.04 548.40v-2.30 M377.04 476.40v2.30 M381.42 548.40v-2.30 M381.42 476.40v2.30 M385.80 548.40v-4.60 M385.80 476.40v4.60 M390.18 548.40v-2.30 M390.18 476.40v2.30 M394.56 548.40v-2.30 M394.56 476.40v2.30 M398.94 548.40v-2.30 M398.94 476.40v2.30 M403.32 548.40v-2.30 M403.32 476.40v2.30 M407.70 548.40v-4.60 M407.70 476.40v4.60 M412.08 548.40v-2.30 M412.08 476.40v2.30 M416.46 548.40v-2.30 M416.46 476.40v2.30 M420.84 548.40v-2.30 M420.84 476.40v2.30 M425.22 548.40v-2.30 M425.22 476.40v2.30 M429.60 548.40v-4.60 M429.60 476.40v4.60 M433.98 548.40v-2.30 M433.98 476.40v2.30 M438.36 548.40v-2.30 M438.36 476.40v2.30 M442.74 548.40v-2.30 M442.74 476.40v2.30 M447.12 548.40v-2.30 M447.12 476.40v2.30 M451.50 548.40v-4.60 M451.50 476.40v4.60 M455.88 548.40v-2.30 M455.88 476.40v2.30 M460.26 548.40v-2.30 M460.26 476.40v2.30 M464.64 548.40v-2.30 M464.64 476.40v2.30 M469.02 548.40v-2.30 M469.02 476.40v2.30 M473.40 548.40v-4.60 M473.40 476.40v4.60 M477.78 548.40v-2.30 M477.78 476.40v2.30 M482.16 548.40v-2.30 M482.16 476.40v2.30 M486.54 548.40v-2.30 M486.54 476.40v2.30 M490.92 548.40v-2.30 M490.92 476.40v2.30 M495.30 548.40v-4.60 M495.30 476.40v4.60 M320.10 476.40h4.60 M495.30 476.40h-4.60 M320.10 480.00h2.30 M495.30 480.00h-2.30 M320.10 483.60h2.30 M495.30 483.60h-2.30 M320.10 487.20h2.30 M495.30 487.20h-2.30 M320.10 490.80h2.30 M495.30 490.80h-2.30 M320.10 494.40h4.60 M495.30 494.40h-4.60 M320.10 498.00h2.30 M495.30 498.00h-2.30 M320.10 501.60h2.30 M495.30 501.60h-2.30 M320.10 505.20h2.30 M495.30 505.20h-2.30 M320.10 508.80h2.30 M495.30 508.80h-2.30 M320.10 512.40h4.60 M495.30 512.40h-4.60 M320.10 516.00h2.30 M495.30 516.00h-2.30 M320.10 519.60h2.30 M495.30 519.60h-2.30 M320.10 523.20h2.30 M495.30 523.20h-2.30 M320.10 526.80h2.30 M495.30 526.80h-2.30 M320.10 530.40h4.60 M495.30 530.40h-4.60 M320.10 534.00h2.30 M495.30 534.00h-2.30 M320.10 537.60h2.30 M495.30 537.60h-2.30 M320.10 541.20h2.30 M495.30 541.20h-2.30 M320.10 544.80h2.30 M495.30 544.80h-2.30 M320.10 548.40h4.60 M495.30 548.40h-4.60" stroke="#000" stroke-width="0.6" fill="none"/>
<rect x="320.10" y="476.40" width="175.20" height="72.00" fill="none" stroke="#000" stroke-width="1.1"/>
<text transform="translate(407.30 577.10)" text-anchor="middle" font-size="9.0" textLength="108.50" lengthAdjust="spacingAndGlyphs">Rotation phase – P = 12.9 h</text>
<text transform="translate(288.00 512.60) rotate(-90)" text-anchor="middle" font-size="9.0" textLength="30.00" lengthAdjust="spacingAndGlyphs">Kp mag</text>
<clipPath id="cm4"><rect x="318.10" y="476.40" width="179.20" height="72.00"/></clipPath>
<g clip-path="url(#cm4)"><g stroke-width="0.72" opacity="0.95"><path d="M385.13 496.42V509.73" stroke="#4d0089"/><path d="M472.73 496.42V509.73" stroke="#4d0089"/><path d="M388.53 496.42V509.73" stroke="#53009e"/><path d="M476.13 496.42V509.73" stroke="#53009e"/><path d="M395.13 498.78V512.09" stroke="#5f01c4"/><path d="M482.73 498.78V512.09" stroke="#5f01c4"/><path d="M398.53 503.59V517.93" stroke="#6501d4"/><path d="M486.13 503.59V517.93" stroke="#6501d4"/><path d="M327.63 503.28V515.57" stroke="#7c03fe"/><path d="M415.23 503.28V515.57" stroke="#7c03fe"/><path d="M330.93 494.07V502.26" stroke="#8004ff"/><path d="M418.53 494.07V502.26" stroke="#8004ff"/><path d="M334.23 500.31V510.55" stroke="#8405fd"/><path d="M421.83 500.31V510.55" stroke="#8405fd"/><path d="M340.83 509.12V531.65" stroke="#8c07f1"/><path d="M428.43 509.12V531.65" stroke="#8c07f1"/><path d="M344.23 501.34V511.58" stroke="#9008e7"/><path d="M431.83 501.34V511.58" stroke="#9008e7"/><path d="M347.53 512.40V529.81" stroke="#940adb"/><path d="M435.13 512.40V529.81" stroke="#940adb"/><path d="M354.13 511.17V527.55" stroke="#9b0dbd"/><path d="M441.73 511.17V527.55" stroke="#9b0dbd"/><path d="M360.83 501.34V509.53" stroke="#a11095"/><path d="M448.43 501.34V509.53" stroke="#a11095"/><path d="M364.23 503.59V512.19" stroke="#a5127f"/><path d="M451.83 503.59V512.19" stroke="#a5127f"/><path d="M370.88 505.13V514.34" stroke="#ab174f"/><path d="M458.48 505.13V514.34" stroke="#ab174f"/><path d="M374.18 508.10V520.39" stroke="#ae1a36"/><path d="M461.78 508.10V520.39" stroke="#ae1a36"/><path d="M384.28 514.24V536.77" stroke="#b72300"/><path d="M471.88 514.24V536.77" stroke="#b72300"/><path d="M387.48 513.22V526.53" stroke="#ba2600"/><path d="M475.08 513.22V526.53" stroke="#ba2600"/><path d="M390.88 507.69V518.95" stroke="#bd2a00"/><path d="M478.48 507.69V518.95" stroke="#bd2a00"/><path d="M394.18 504.00V513.22" stroke="#bf2e00"/><path d="M481.78 504.00V513.22" stroke="#bf2e00"/><path d="M397.58 507.69V519.98" stroke="#c23200"/><path d="M485.18 507.69V519.98" stroke="#c23200"/><path d="M400.88 503.18V512.40" stroke="#c53600"/><path d="M488.48 503.18V512.40" stroke="#c53600"/><path d="M404.28 500.21V508.40" stroke="#c83b00"/><path d="M491.88 500.21V508.40" stroke="#c83b00"/><path d="M329.98 499.08V507.69" stroke="#d25000"/><path d="M417.58 499.08V507.69" stroke="#d25000"/><path d="M339.98 501.13V509.73" stroke="#da6200"/><path d="M427.58 501.13V509.73" stroke="#da6200"/><path d="M346.68 506.15V516.39" stroke="#de7000"/><path d="M434.28 506.15V516.39" stroke="#de7000"/><path d="M349.98 508.40V519.67" stroke="#e17700"/><path d="M437.58 508.40V519.67" stroke="#e17700"/><path d="M353.28 507.38V520.69" stroke="#e37f00"/><path d="M440.88 507.38V520.69" stroke="#e37f00"/><path d="M356.68 505.54V515.78" stroke="#e58700"/><path d="M444.28 505.54V515.78" stroke="#e58700"/><path d="M359.98 503.39V512.60" stroke="#e88f00"/><path d="M447.58 503.39V512.60" stroke="#e88f00"/><path d="M363.35 512.50V527.86" stroke="#ea9800"/><path d="M450.95 512.50V527.86" stroke="#ea9800"/><path d="M366.66 504.31V513.52" stroke="#eca100"/><path d="M454.26 504.31V513.52" stroke="#eca100"/><path d="M369.96 506.66V517.93" stroke="#eeab00"/><path d="M457.56 506.66V517.93" stroke="#eeab00"/><path d="M373.45 501.85V510.04" stroke="#f1b500"/><path d="M461.05 501.85V510.04" stroke="#f1b500"/></g><circle cx="385.13" cy="503.08" r="1.8" fill="#4d0089"/><circle cx="472.73" cy="503.08" r="1.8" fill="#4d0089"/><circle cx="388.53" cy="503.08" r="1.8" fill="#53009e"/><circle cx="476.13" cy="503.08" r="1.8" fill="#53009e"/><circle cx="395.13" cy="505.43" r="1.8" fill="#5f01c4"/><circle cx="482.73" cy="505.43" r="1.8" fill="#5f01c4"/><circle cx="398.53" cy="510.76" r="1.8" fill="#6501d4"/><circle cx="486.13" cy="510.76" r="1.8" fill="#6501d4"/><circle cx="327.63" cy="509.43" r="1.8" fill="#7c03fe"/><circle cx="415.23" cy="509.43" r="1.8" fill="#7c03fe"/><circle cx="330.93" cy="498.16" r="1.8" fill="#8004ff"/><circle cx="418.53" cy="498.16" r="1.8" fill="#8004ff"/><circle cx="334.23" cy="505.43" r="1.8" fill="#8405fd"/><circle cx="421.83" cy="505.43" r="1.8" fill="#8405fd"/><circle cx="340.83" cy="520.39" r="1.8" fill="#8c07f1"/><circle cx="428.43" cy="520.39" r="1.8" fill="#8c07f1"/><circle cx="344.23" cy="506.46" r="1.8" fill="#9008e7"/><circle cx="431.83" cy="506.46" r="1.8" fill="#9008e7"/><circle cx="347.53" cy="521.10" r="1.8" fill="#940adb"/><circle cx="435.13" cy="521.10" r="1.8" fill="#940adb"/><circle cx="354.13" cy="519.36" r="1.8" fill="#9b0dbd"/><circle cx="441.73" cy="519.36" r="1.8" fill="#9b0dbd"/><circle cx="360.83" cy="505.43" r="1.8" fill="#a11095"/><circle cx="448.43" cy="505.43" r="1.8" fill="#a11095"/><circle cx="364.23" cy="507.89" r="1.8" fill="#a5127f"/><circle cx="451.83" cy="507.89" r="1.8" fill="#a5127f"/><circle cx="370.88" cy="509.73" r="1.8" fill="#ab174f"/><circle cx="458.48" cy="509.73" r="1.8" fill="#ab174f"/><circle cx="374.18" cy="514.24" r="1.8" fill="#ae1a36"/><circle cx="461.78" cy="514.24" r="1.8" fill="#ae1a36"/><circle cx="384.28" cy="525.51" r="1.8" fill="#b72300"/><circle cx="471.88" cy="525.51" r="1.8" fill="#b72300"/><circle cx="387.48" cy="519.87" r="1.8" fill="#ba2600"/><circle cx="475.08" cy="519.87" r="1.8" fill="#ba2600"/><circle cx="390.88" cy="513.32" r="1.8" fill="#bd2a00"/><circle cx="478.48" cy="513.32" r="1.8" fill="#bd2a00"/><circle cx="394.18" cy="508.61" r="1.8" fill="#bf2e00"/><circle cx="481.78" cy="508.61" r="1.8" fill="#bf2e00"/><circle cx="397.58" cy="513.83" r="1.8" fill="#c23200"/><circle cx="485.18" cy="513.83" r="1.8" fill="#c23200"/><circle cx="400.88" cy="507.79" r="1.8" fill="#c53600"/><circle cx="488.48" cy="507.79" r="1.8" fill="#c53600"/><circle cx="404.28" cy="504.31" r="1.8" fill="#c83b00"/><circle cx="491.88" cy="504.31" r="1.8" fill="#c83b00"/><circle cx="329.98" cy="503.39" r="1.8" fill="#d25000"/><circle cx="417.58" cy="503.39" r="1.8" fill="#d25000"/><circle cx="339.98" cy="505.43" r="1.8" fill="#da6200"/><circle cx="427.58" cy="505.43" r="1.8" fill="#da6200"/><circle cx="346.68" cy="511.27" r="1.8" fill="#de7000"/><circle cx="434.28" cy="511.27" r="1.8" fill="#de7000"/><circle cx="349.98" cy="514.04" r="1.8" fill="#e17700"/><circle cx="437.58" cy="514.04" r="1.8" fill="#e17700"/><circle cx="353.28" cy="514.04" r="1.8" fill="#e37f00"/><circle cx="440.88" cy="514.04" r="1.8" fill="#e37f00"/><circle cx="356.68" cy="510.66" r="1.8" fill="#e58700"/><circle cx="444.28" cy="510.66" r="1.8" fill="#e58700"/><circle cx="359.98" cy="507.99" r="1.8" fill="#e88f00"/><circle cx="447.58" cy="507.99" r="1.8" fill="#e88f00"/><circle cx="363.35" cy="520.18" r="1.8" fill="#ea9800"/><circle cx="450.95" cy="520.18" r="1.8" fill="#ea9800"/><circle cx="366.66" cy="508.92" r="1.8" fill="#eca100"/><circle cx="454.26" cy="508.92" r="1.8" fill="#eca100"/><circle cx="369.96" cy="512.30" r="1.8" fill="#eeab00"/><circle cx="457.56" cy="512.30" r="1.8" fill="#eeab00"/><circle cx="373.45" cy="505.95" r="1.8" fill="#f1b500"/><circle cx="461.05" cy="505.95" r="1.8" fill="#f1b500"/></g>
<rect x="499.20" y="476.40" width="9.20" height="72.00" fill="url(#pal)" stroke="#222" stroke-width="0.6"/>
<text transform="translate(517.00 551.70)" text-anchor="start" font-size="10.1">40.5</text>
<text transform="translate(517.00 537.30)" text-anchor="start" font-size="10.1">40.75</text>
<text transform="translate(517.00 522.90)" text-anchor="start" font-size="10.1">41</text>
<text transform="translate(517.00 508.50)" text-anchor="start" font-size="10.1">41.25</text>
<text transform="translate(517.00 494.10)" text-anchor="start" font-size="10.1">41.5</text>
<text transform="translate(517.00 479.70)" text-anchor="start" font-size="10.1">41.75</text>
<path d="M499.20 534.00H508.40 M499.20 519.60H508.40 M499.20 505.20H508.40 M499.20 490.80H508.40" stroke="#000" stroke-width="0.6"/>
<text transform="translate(610.00 562.00)" text-anchor="middle" font-size="10.1">0</text>
<text transform="translate(625.65 562.00)" text-anchor="middle" font-size="10.1">2</text>
<text transform="translate(641.31 562.00)" text-anchor="middle" font-size="10.1">4</text>
<text transform="translate(656.96 562.00)" text-anchor="middle" font-size="10.1">6</text>
<text transform="translate(672.62 562.00)" text-anchor="middle" font-size="10.1">8</text>
<text transform="translate(688.27 562.00)" text-anchor="middle" font-size="10.1">10</text>
<text transform="translate(703.92 562.00)" text-anchor="middle" font-size="10.1">12</text>
<text transform="translate(719.58 562.00)" text-anchor="middle" font-size="10.1">14</text>
<text transform="translate(735.23 562.00)" text-anchor="middle" font-size="10.1">16</text>
<text transform="translate(750.88 562.00)" text-anchor="middle" font-size="10.1">18</text>
<text transform="translate(766.54 562.00)" text-anchor="middle" font-size="10.1">20</text>
<text transform="translate(782.19 562.00)" text-anchor="middle" font-size="10.1">22</text>
<text transform="translate(797.85 562.00)" text-anchor="middle" font-size="10.1">24</text>
<text transform="translate(813.50 562.00)" text-anchor="middle" font-size="10.1">26</text>
<text transform="translate(603.10 551.80)" text-anchor="end" font-size="10.1">1.45</text>
<text transform="translate(603.10 533.80)" text-anchor="end" font-size="10.1">1.5</text>
<text transform="translate(603.10 515.80)" text-anchor="end" font-size="10.1">1.55</text>
<text transform="translate(603.10 497.80)" text-anchor="end" font-size="10.1">1.6</text>
<text transform="translate(603.10 479.80)" text-anchor="end" font-size="10.1">1.65</text>
<path d="M608.90 548.40v-4.60 M608.90 476.40v4.60 M612.81 548.40v-2.30 M612.81 476.40v2.30 M616.73 548.40v-2.30 M616.73 476.40v2.30 M620.64 548.40v-2.30 M620.64 476.40v2.30 M624.55 548.40v-4.60 M624.55 476.40v4.60 M628.47 548.40v-2.30 M628.47 476.40v2.30 M632.38 548.40v-2.30 M632.38 476.40v2.30 M636.29 548.40v-2.30 M636.29 476.40v2.30 M640.21 548.40v-4.60 M640.21 476.40v4.60 M644.12 548.40v-2.30 M644.12 476.40v2.30 M648.03 548.40v-2.30 M648.03 476.40v2.30 M651.95 548.40v-2.30 M651.95 476.40v2.30 M655.86 548.40v-4.60 M655.86 476.40v4.60 M659.77 548.40v-2.30 M659.77 476.40v2.30 M663.69 548.40v-2.30 M663.69 476.40v2.30 M667.60 548.40v-2.30 M667.60 476.40v2.30 M671.52 548.40v-4.60 M671.52 476.40v4.60 M675.43 548.40v-2.30 M675.43 476.40v2.30 M679.34 548.40v-2.30 M679.34 476.40v2.30 M683.26 548.40v-2.30 M683.26 476.40v2.30 M687.17 548.40v-4.60 M687.17 476.40v4.60 M691.08 548.40v-2.30 M691.08 476.40v2.30 M695.00 548.40v-2.30 M695.00 476.40v2.30 M698.91 548.40v-2.30 M698.91 476.40v2.30 M702.82 548.40v-4.60 M702.82 476.40v4.60 M706.74 548.40v-2.30 M706.74 476.40v2.30 M710.65 548.40v-2.30 M710.65 476.40v2.30 M714.56 548.40v-2.30 M714.56 476.40v2.30 M718.48 548.40v-4.60 M718.48 476.40v4.60 M722.39 548.40v-2.30 M722.39 476.40v2.30 M726.30 548.40v-2.30 M726.30 476.40v2.30 M730.22 548.40v-2.30 M730.22 476.40v2.30 M734.13 548.40v-4.60 M734.13 476.40v4.60 M738.04 548.40v-2.30 M738.04 476.40v2.30 M741.96 548.40v-2.30 M741.96 476.40v2.30 M745.87 548.40v-2.30 M745.87 476.40v2.30 M749.78 548.40v-4.60 M749.78 476.40v4.60 M753.70 548.40v-2.30 M753.70 476.40v2.30 M757.61 548.40v-2.30 M757.61 476.40v2.30 M761.52 548.40v-2.30 M761.52 476.40v2.30 M765.44 548.40v-4.60 M765.44 476.40v4.60 M769.35 548.40v-2.30 M769.35 476.40v2.30 M773.27 548.40v-2.30 M773.27 476.40v2.30 M777.18 548.40v-2.30 M777.18 476.40v2.30 M781.09 548.40v-4.60 M781.09 476.40v4.60 M785.01 548.40v-2.30 M785.01 476.40v2.30 M788.92 548.40v-2.30 M788.92 476.40v2.30 M792.83 548.40v-2.30 M792.83 476.40v2.30 M796.75 548.40v-4.60 M796.75 476.40v4.60 M800.66 548.40v-2.30 M800.66 476.40v2.30 M804.57 548.40v-2.30 M804.57 476.40v2.30 M808.49 548.40v-2.30 M808.49 476.40v2.30 M812.40 548.40v-4.60 M812.40 476.40v4.60 M608.90 548.40h4.60 M812.40 548.40h-4.60 M608.90 544.80h2.30 M812.40 544.80h-2.30 M608.90 541.20h2.30 M812.40 541.20h-2.30 M608.90 537.60h2.30 M812.40 537.60h-2.30 M608.90 534.00h2.30 M812.40 534.00h-2.30 M608.90 530.40h4.60 M812.40 530.40h-4.60 M608.90 526.80h2.30 M812.40 526.80h-2.30 M608.90 523.20h2.30 M812.40 523.20h-2.30 M608.90 519.60h2.30 M812.40 519.60h-2.30 M608.90 516.00h2.30 M812.40 516.00h-2.30 M608.90 512.40h4.60 M812.40 512.40h-4.60 M608.90 508.80h2.30 M812.40 508.80h-2.30 M608.90 505.20h2.30 M812.40 505.20h-2.30 M608.90 501.60h2.30 M812.40 501.60h-2.30 M608.90 498.00h2.30 M812.40 498.00h-2.30 M608.90 494.40h4.60 M812.40 494.40h-4.60 M608.90 490.80h2.30 M812.40 490.80h-2.30 M608.90 487.20h2.30 M812.40 487.20h-2.30 M608.90 483.60h2.30 M812.40 483.60h-2.30 M608.90 480.00h2.30 M812.40 480.00h-2.30 M608.90 476.40h4.60 M812.40 476.40h-4.60" stroke="#000" stroke-width="0.6" fill="none"/>
<rect x="608.90" y="476.40" width="203.50" height="72.00" fill="none" stroke="#000" stroke-width="1.1"/>
<text transform="translate(710.25 577.10)" text-anchor="middle" font-size="9.0" textLength="61.20" lengthAdjust="spacingAndGlyphs">Frequency (1/d)</text>
<text transform="translate(564.50 512.60) rotate(-90)" text-anchor="middle" font-size="9.0" textLength="68.20" lengthAdjust="spacingAndGlyphs">Phase disp (mag)</text>
<path d="M609.64 525.66 L611.63 526.99 L613.61 530.30 L615.60 532.29 L616.93 530.30 L617.99 521.69 L618.92 508.43 L620.24 497.17 L621.57 499.82 L622.89 505.78 L624.22 509.10 L625.54 503.13 L626.87 497.57 L628.19 497.57 L630.18 499.42 L632.17 501.14 L633.89 502.87 L635.22 512.41 L636.54 525.66 L638.13 534.28 L639.19 528.31 L640.12 515.06 L641.18 504.46 L642.11 500.75 L643.43 502.47 L644.76 505.12 L646.08 506.45 L647.41 504.46 L648.73 499.82 L650.06 497.43 L652.05 497.17 L653.77 493.86 L655.10 491.87 L656.69 493.86 L658.01 495.84 L659.34 497.17 L661.33 495.84 L663.98 494.12 L665.70 491.20 L667.29 487.89 L668.61 487.23 L669.94 491.20 L671.27 499.16 L672.59 505.12 L673.65 506.45 L674.98 503.13 L676.30 496.51 L677.89 491.20 L678.95 490.54 L680.54 491.47 L682.53 492.80 L684.52 493.86 L686.51 494.25 L688.49 491.87 L690.48 488.82 L692.47 487.49 L694.46 487.63 L696.45 488.55 L697.77 493.86 L699.10 501.81 L700.42 507.77 L701.48 508.43 L702.81 503.13 L704.13 492.53 L705.33 487.23 L706.39 489.22 L707.71 497.83 L709.04 506.45 L710.36 509.10 L712.30 501.81 L714.29 495.18 L716.28 493.59 L718.27 495.18 L720.25 498.49 L722.24 501.81 L723.96 503.40 L726.22 502.87 L728.20 501.14 L729.80 496.51 L731.25 489.88 L732.84 487.23 L734.17 489.22 L735.89 495.18 L737.75 498.49 L739.47 495.84 L741.19 491.20 L742.78 487.89 L744.11 487.63 L745.70 489.88 L747.42 491.87 L749.14 491.87 L750.73 491.20 L752.33 495.18 L754.05 503.80 L755.37 508.43 L756.70 505.78 L758.02 498.49 L759.35 492.53 L760.28 491.87 L761.60 499.16 L762.93 509.10 L764.39 513.47 L765.71 508.43 L767.04 499.16 L768.23 495.18 L769.55 500.48 L770.88 507.77 L772.20 509.76 L773.53 508.43 L774.86 503.13 L776.58 495.84 L778.30 491.47 L779.89 491.20 L781.48 493.86 L783.20 499.16 L784.93 501.14 L786.52 501.14 L787.84 505.12 L789.17 512.41 L790.76 518.37 L792.08 512.41 L793.41 503.13 L794.73 493.86 L796.06 487.89 L797.39 489.22 L798.71 493.86 L799.77 495.45 L801.10 492.53 L802.42 489.22 L803.75 486.96" stroke="#111" stroke-width="0.7" fill="none" stroke-linejoin="round"/>
<path d="M638.40 479.80V512.80" stroke="#ff0000" stroke-opacity="0.58" stroke-width="1.15"/>
<text transform="translate(44.60 678.25)" text-anchor="middle" font-size="10.1">18.5</text>
<text transform="translate(98.40 678.25)" text-anchor="middle" font-size="10.1">19</text>
<text transform="translate(152.20 678.25)" text-anchor="middle" font-size="10.1">19.5</text>
<text transform="translate(206.00 678.25)" text-anchor="middle" font-size="10.1">20</text>
<text transform="translate(259.80 678.25)" text-anchor="middle" font-size="10.1">20.5</text>
<text transform="translate(37.00 596.05)" text-anchor="end" font-size="10.1">20</text>
<text transform="translate(37.00 620.05)" text-anchor="end" font-size="10.1">21</text>
<text transform="translate(37.00 644.05)" text-anchor="end" font-size="10.1">22</text>
<text transform="translate(37.00 668.05)" text-anchor="end" font-size="10.1">23</text>
<path d="M43.50 664.65v-4.60 M43.50 592.65v4.60 M54.26 664.65v-2.30 M54.26 592.65v2.30 M65.02 664.65v-2.30 M65.02 592.65v2.30 M75.78 664.65v-2.30 M75.78 592.65v2.30 M86.54 664.65v-2.30 M86.54 592.65v2.30 M97.30 664.65v-4.60 M97.30 592.65v4.60 M108.06 664.65v-2.30 M108.06 592.65v2.30 M118.82 664.65v-2.30 M118.82 592.65v2.30 M129.58 664.65v-2.30 M129.58 592.65v2.30 M140.34 664.65v-2.30 M140.34 592.65v2.30 M151.10 664.65v-4.60 M151.10 592.65v4.60 M161.86 664.65v-2.30 M161.86 592.65v2.30 M172.62 664.65v-2.30 M172.62 592.65v2.30 M183.38 664.65v-2.30 M183.38 592.65v2.30 M194.14 664.65v-2.30 M194.14 592.65v2.30 M204.90 664.65v-4.60 M204.90 592.65v4.60 M215.66 664.65v-2.30 M215.66 592.65v2.30 M226.42 664.65v-2.30 M226.42 592.65v2.30 M237.18 664.65v-2.30 M237.18 592.65v2.30 M247.94 664.65v-2.30 M247.94 592.65v2.30 M258.70 664.65v-4.60 M258.70 592.65v4.60 M43.50 592.65h4.60 M258.70 592.65h-4.60 M43.50 597.45h2.30 M258.70 597.45h-2.30 M43.50 602.25h2.30 M258.70 602.25h-2.30 M43.50 607.05h2.30 M258.70 607.05h-2.30 M43.50 611.85h2.30 M258.70 611.85h-2.30 M43.50 616.65h4.60 M258.70 616.65h-4.60 M43.50 621.45h2.30 M258.70 621.45h-2.30 M43.50 626.25h2.30 M258.70 626.25h-2.30 M43.50 631.05h2.30 M258.70 631.05h-2.30 M43.50 635.85h2.30 M258.70 635.85h-2.30 M43.50 640.65h4.60 M258.70 640.65h-4.60 M43.50 645.45h2.30 M258.70 645.45h-2.30 M43.50 650.25h2.30 M258.70 650.25h-2.30 M43.50 655.05h2.30 M258.70 655.05h-2.30 M43.50 659.85h2.30 M258.70 659.85h-2.30 M43.50 664.65h4.60 M258.70 664.65h-4.60" stroke="#000" stroke-width="0.6" fill="none"/>
<rect x="43.50" y="592.65" width="215.20" height="72.00" fill="none" stroke="#000" stroke-width="1.1"/>
<text transform="translate(150.70 693.35)" text-anchor="middle" font-size="9.0" textLength="68.00" lengthAdjust="spacingAndGlyphs">BJD−2457400 (d)</text>
<text transform="translate(11.60 628.85) rotate(-90)" text-anchor="middle" font-size="9.0" textLength="30.00" lengthAdjust="spacingAndGlyphs">Kp mag</text>
<path d="M48.31 630.31V643.33 M50.34 621.64V633.20 M52.65 623.08V634.65 M54.75 614.70V621.93 M56.99 618.89V627.57 M59.23 619.76V628.43 M61.40 626.12V637.69 M63.64 628.51V642.24 M65.73 620.92V631.04 M68.05 621.78V632.63 M70.29 625.40V641.30 M72.46 613.47V623.59 M74.55 604.65V611.88 M76.80 613.18V621.86 M79.04 613.54V623.66 M81.20 626.34V648.02 M83.45 624.75V642.10 M85.61 629.52V649.76 M87.71 609.49V617.45 M90.02 611.16V619.11 M92.19 610.94V618.89 M94.43 613.83V622.51 M96.53 619.04V633.49 M100.89 613.98V624.10 M103.06 613.25V623.37 M105.37 608.27V615.49 M107.54 615.13V629.59 M109.71 609.35V618.02 M111.95 612.53V622.65 M114.19 620.48V637.83 M116.36 617.95V635.30 M118.60 621.20V635.66 M120.77 609.86V618.53 M122.94 614.55V626.12 M125.18 619.98V632.27 M131.69 634.43V654.67 M133.93 624.89V637.90 M136.17 617.23V625.90 M138.27 604.22V610.00 M140.43 602.41V607.47 M142.60 619.98V630.10 M144.84 621.06V631.90 M149.33 621.49V630.89 M158.17 630.82V641.66 M164.67 610.72V616.51 M166.84 615.78V623.73 M173.49 627.42V639.71 M175.66 616.72V624.67 M177.90 613.33V619.83 M180.07 612.24V618.75 M182.31 610.58V616.36 M184.48 620.92V629.59 M186.65 623.73V633.86 M188.89 623.73V633.86 M191.13 621.06V629.73 M193.30 615.28V622.51 M195.47 631.90V644.92 M197.64 614.77V621.28 M199.88 618.75V626.70 M202.05 619.98V628.65 M204.29 629.37V643.11 M206.46 621.28V629.95 M208.70 623.95V633.35 M210.87 614.63V621.86" stroke="#d0d0d0" stroke-width="0.9" fill="none"/>
<g fill="#000"><circle cx="48.31" cy="636.82" r="1.65"/><circle cx="50.34" cy="627.42" r="1.65"/><circle cx="52.65" cy="628.87" r="1.65"/><circle cx="54.75" cy="618.31" r="1.65"/><circle cx="56.99" cy="623.23" r="1.65"/><circle cx="59.23" cy="624.10" r="1.65"/><circle cx="61.40" cy="631.90" r="1.65"/><circle cx="63.64" cy="635.37" r="1.65"/><circle cx="65.73" cy="625.98" r="1.65"/><circle cx="68.05" cy="627.20" r="1.65"/><circle cx="70.29" cy="633.35" r="1.65"/><circle cx="72.46" cy="618.53" r="1.65"/><circle cx="74.55" cy="608.27" r="1.65"/><circle cx="76.80" cy="617.52" r="1.65"/><circle cx="79.04" cy="618.60" r="1.65"/><circle cx="81.20" cy="637.18" r="1.65"/><circle cx="83.45" cy="633.42" r="1.65"/><circle cx="85.61" cy="639.64" r="1.65"/><circle cx="87.71" cy="613.47" r="1.65"/><circle cx="90.02" cy="615.13" r="1.65"/><circle cx="92.19" cy="614.92" r="1.65"/><circle cx="94.43" cy="618.17" r="1.65"/><circle cx="96.53" cy="626.27" r="1.65"/><circle cx="100.89" cy="619.04" r="1.65"/><circle cx="103.06" cy="618.31" r="1.65"/><circle cx="105.37" cy="611.88" r="1.65"/><circle cx="107.54" cy="622.36" r="1.65"/><circle cx="109.71" cy="613.69" r="1.65"/><circle cx="111.95" cy="617.59" r="1.65"/><circle cx="114.19" cy="629.16" r="1.65"/><circle cx="116.36" cy="626.63" r="1.65"/><circle cx="118.60" cy="628.43" r="1.65"/><circle cx="120.77" cy="614.19" r="1.65"/><circle cx="122.94" cy="620.34" r="1.65"/><circle cx="125.18" cy="626.12" r="1.65"/><circle cx="131.69" cy="644.55" r="1.65"/><circle cx="133.93" cy="631.40" r="1.65"/><circle cx="136.17" cy="621.57" r="1.65"/><circle cx="138.27" cy="607.11" r="1.65"/><circle cx="140.43" cy="604.94" r="1.65"/><circle cx="142.60" cy="625.04" r="1.65"/><circle cx="144.84" cy="626.48" r="1.65"/><circle cx="149.33" cy="626.19" r="1.65"/><circle cx="158.17" cy="636.24" r="1.65"/><circle cx="164.67" cy="613.61" r="1.65"/><circle cx="166.84" cy="619.76" r="1.65"/><circle cx="173.49" cy="633.57" r="1.65"/><circle cx="175.66" cy="620.70" r="1.65"/><circle cx="177.90" cy="616.58" r="1.65"/><circle cx="180.07" cy="615.49" r="1.65"/><circle cx="182.31" cy="613.47" r="1.65"/><circle cx="184.48" cy="625.25" r="1.65"/><circle cx="186.65" cy="628.80" r="1.65"/><circle cx="188.89" cy="628.80" r="1.65"/><circle cx="191.13" cy="625.40" r="1.65"/><circle cx="193.30" cy="618.89" r="1.65"/><circle cx="195.47" cy="638.41" r="1.65"/><circle cx="197.64" cy="618.02" r="1.65"/><circle cx="199.88" cy="622.72" r="1.65"/><circle cx="202.05" cy="624.31" r="1.65"/><circle cx="204.29" cy="636.24" r="1.65"/><circle cx="206.46" cy="625.61" r="1.65"/><circle cx="208.70" cy="628.65" r="1.65"/><circle cx="210.87" cy="618.24" r="1.65"/></g>
<text transform="translate(246.60 604.55)" text-anchor="end" font-size="10.1">2002 WY28</text>
<text transform="translate(321.20 678.25)" text-anchor="middle" font-size="10.1">0</text>
<text transform="translate(343.10 678.25)" text-anchor="middle" font-size="10.1">0.25</text>
<text transform="translate(365.00 678.25)" text-anchor="middle" font-size="10.1">0.5</text>
<text transform="translate(386.90 678.25)" text-anchor="middle" font-size="10.1">0.75</text>
<text transform="translate(408.80 678.25)" text-anchor="middle" font-size="10.1">1</text>
<text transform="translate(430.70 678.25)" text-anchor="middle" font-size="10.1">1.25</text>
<text transform="translate(452.60 678.25)" text-anchor="middle" font-size="10.1">1.5</text>
<text transform="translate(474.50 678.25)" text-anchor="middle" font-size="10.1">1.75</text>
<text transform="translate(496.40 678.25)" text-anchor="middle" font-size="10.1">2</text>
<text transform="translate(313.60 596.05)" text-anchor="end" font-size="10.1">20</text>
<text transform="translate(313.60 620.05)" text-anchor="end" font-size="10.1">21</text>
<text transform="translate(313.60 644.05)" text-anchor="end" font-size="10.1">22</text>
<text transform="translate(313.60 668.05)" text-anchor="end" font-size="10.1">23</text>
<path d="M320.10 664.65v-4.60 M320.10 592.65v4.60 M324.48 664.65v-2.30 M324.48 592.65v2.30 M328.86 664.65v-2.30 M328.86 592.65v2.30 M333.24 664.65v-2.30 M333.24 592.65v2.30 M337.62 664.65v-2.30 M337.62 592.65v2.30 M342.00 664.65v-4.60 M342.00 592.65v4.60 M346.38 664.65v-2.30 M346.38 592.65v2.30 M350.76 664.65v-2.30 M350.76 592.65v2.30 M355.14 664.65v-2.30 M355.14 592.65v2.30 M359.52 664.65v-2.30 M359.52 592.65v2.30 M363.90 664.65v-4.60 M363.90 592.65v4.60 M368.28 664.65v-2.30 M368.28 592.65v2.30 M372.66 664.65v-2.30 M372.66 592.65v2.30 M377.04 664.65v-2.30 M377.04 592.65v2.30 M381.42 664.65v-2.30 M381.42 592.65v2.30 M385.80 664.65v-4.60 M385.80 592.65v4.60 M390.18 664.65v-2.30 M390.18 592.65v2.30 M394.56 664.65v-2.30 M394.56 592.65v2.30 M398.94 664.65v-2.30 M398.94 592.65v2.30 M403.32 664.65v-2.30 M403.32 592.65v2.30 M407.70 664.65v-4.60 M407.70 592.65v4.60 M412.08 664.65v-2.30 M412.08 592.65v2.30 M416.46 664.65v-2.30 M416.46 592.65v2.30 M420.84 664.65v-2.30 M420.84 592.65v2.30 M425.22 664.65v-2.30 M425.22 592.65v2.30 M429.60 664.65v-4.60 M429.60 592.65v4.60 M433.98 664.65v-2.30 M433.98 592.65v2.30 M438.36 664.65v-2.30 M438.36 592.65v2.30 M442.74 664.65v-2.30 M442.74 592.65v2.30 M447.12 664.65v-2.30 M447.12 592.65v2.30 M451.50 664.65v-4.60 M451.50 592.65v4.60 M455.88 664.65v-2.30 M455.88 592.65v2.30 M460.26 664.65v-2.30 M460.26 592.65v2.30 M464.64 664.65v-2.30 M464.64 592.65v2.30 M469.02 664.65v-2.30 M469.02 592.65v2.30 M473.40 664.65v-4.60 M473.40 592.65v4.60 M477.78 664.65v-2.30 M477.78 592.65v2.30 M482.16 664.65v-2.30 M482.16 592.65v2.30 M486.54 664.65v-2.30 M486.54 592.65v2.30 M490.92 664.65v-2.30 M490.92 592.65v2.30 M495.30 664.65v-4.60 M495.30 592.65v4.60 M320.10 592.65h4.60 M495.30 592.65h-4.60 M320.10 597.45h2.30 M495.30 597.45h-2.30 M320.10 602.25h2.30 M495.30 602.25h-2.30 M320.10 607.05h2.30 M495.30 607.05h-2.30 M320.10 611.85h2.30 M495.30 611.85h-2.30 M320.10 616.65h4.60 M495.30 616.65h-4.60 M320.10 621.45h2.30 M495.30 621.45h-2.30 M320.10 626.25h2.30 M495.30 626.25h-2.30 M320.10 631.05h2.30 M495.30 631.05h-2.30 M320.10 635.85h2.30 M495.30 635.85h-2.30 M320.10 640.65h4.60 M495.30 640.65h-4.60 M320.10 645.45h2.30 M495.30 645.45h-2.30 M320.10 650.25h2.30 M495.30 650.25h-2.30 M320.10 655.05h2.30 M495.30 655.05h-2.30 M320.10 659.85h2.30 M495.30 659.85h-2.30 M320.10 664.65h4.60 M495.30 664.65h-4.60" stroke="#000" stroke-width="0.6" fill="none"/>
<rect x="320.10" y="592.65" width="175.20" height="72.00" fill="none" stroke="#000" stroke-width="1.1"/>
<text transform="translate(407.30 693.35)" text-anchor="middle" font-size="9.0" textLength="100.80" lengthAdjust="spacingAndGlyphs">Rotation phase – P= 6.9 h</text>
<text transform="translate(288.00 628.85) rotate(-90)" text-anchor="middle" font-size="9.0" textLength="30.00" lengthAdjust="spacingAndGlyphs">Kp mag</text>
<clipPath id="cm5"><rect x="318.10" y="592.65" width="179.20" height="72.00"/></clipPath>
<g clip-path="url(#cm5)"><g stroke-width="0.72" opacity="0.95"><path d="M384.26 630.31V643.33" stroke="#260024"/><path d="M471.86 630.31V643.33" stroke="#260024"/><path d="M390.02 621.64V633.20" stroke="#2d0033"/><path d="M477.62 621.64V633.20" stroke="#2d0033"/><path d="M396.61 623.08V634.65" stroke="#350043"/><path d="M484.21 623.08V634.65" stroke="#350043"/><path d="M402.57 614.70V621.93" stroke="#3a0052"/><path d="M490.17 614.70V621.93" stroke="#3a0052"/><path d="M321.35 618.89V627.57" stroke="#400062"/><path d="M408.95 618.89V627.57" stroke="#400062"/><path d="M327.73 619.76V628.43" stroke="#450071"/><path d="M415.33 619.76V628.43" stroke="#450071"/><path d="M333.90 626.12V637.69" stroke="#4a007f"/><path d="M421.50 626.12V637.69" stroke="#4a007f"/><path d="M340.28 628.51V642.24" stroke="#4e008d"/><path d="M427.88 628.51V642.24" stroke="#4e008d"/><path d="M346.24 620.92V631.04" stroke="#52009a"/><path d="M433.84 620.92V631.04" stroke="#52009a"/><path d="M352.83 621.78V632.63" stroke="#5600a8"/><path d="M440.43 621.78V632.63" stroke="#5600a8"/><path d="M359.20 625.40V641.30" stroke="#5a00b4"/><path d="M446.80 625.40V641.30" stroke="#5a00b4"/><path d="M365.38 613.47V623.59" stroke="#5e01bf"/><path d="M452.98 613.47V623.59" stroke="#5e01bf"/><path d="M371.34 604.65V611.88" stroke="#6101c9"/><path d="M458.94 604.65V611.88" stroke="#6101c9"/><path d="M377.72 613.18V621.86" stroke="#6401d3"/><path d="M465.32 613.18V621.86" stroke="#6401d3"/><path d="M384.10 613.54V623.66" stroke="#6801dc"/><path d="M471.70 613.54V623.66" stroke="#6801dc"/><path d="M390.27 626.34V648.02" stroke="#6b01e3"/><path d="M477.87 626.34V648.02" stroke="#6b01e3"/><path d="M396.65 624.75V642.10" stroke="#6e02ea"/><path d="M484.25 624.75V642.10" stroke="#6e02ea"/><path d="M402.82 629.52V649.76" stroke="#7102f0"/><path d="M490.42 629.52V649.76" stroke="#7102f0"/><path d="M321.18 609.49V617.45" stroke="#7402f5"/><path d="M408.78 609.49V617.45" stroke="#7402f5"/><path d="M327.77 611.16V619.11" stroke="#7703f9"/><path d="M415.37 611.16V619.11" stroke="#7703f9"/><path d="M333.94 610.94V618.89" stroke="#7903fc"/><path d="M421.54 610.94V618.89" stroke="#7903fc"/><path d="M340.32 613.83V622.51" stroke="#7c03fe"/><path d="M427.92 613.83V622.51" stroke="#7c03fe"/><path d="M346.28 619.04V633.49" stroke="#7f04ff"/><path d="M433.88 619.04V633.49" stroke="#7f04ff"/><path d="M358.70 613.98V624.10" stroke="#8405fe"/><path d="M446.30 613.98V624.10" stroke="#8405fe"/><path d="M364.87 613.25V623.37" stroke="#8605fb"/><path d="M452.47 613.25V623.37" stroke="#8605fb"/><path d="M371.45 608.27V615.49" stroke="#8906f8"/><path d="M459.05 608.27V615.49" stroke="#8906f8"/><path d="M377.62 615.13V629.59" stroke="#8b07f4"/><path d="M465.22 615.13V629.59" stroke="#8b07f4"/><path d="M383.79 609.35V618.02" stroke="#8d07ee"/><path d="M471.39 609.35V618.02" stroke="#8d07ee"/><path d="M390.17 612.53V622.65" stroke="#9008e8"/><path d="M477.77 612.53V622.65" stroke="#9008e8"/><path d="M396.55 620.48V637.83" stroke="#9209e1"/><path d="M484.15 620.48V637.83" stroke="#9209e1"/><path d="M402.72 617.95V635.30" stroke="#940ad9"/><path d="M490.32 617.95V635.30" stroke="#940ad9"/><path d="M321.50 621.20V635.66" stroke="#970bcf"/><path d="M409.10 621.20V635.66" stroke="#970bcf"/><path d="M327.67 609.86V618.53" stroke="#990cc5"/><path d="M415.27 609.86V618.53" stroke="#990cc5"/><path d="M333.84 614.55V626.12" stroke="#9b0dbb"/><path d="M421.44 614.55V626.12" stroke="#9b0dbb"/><path d="M340.22 619.98V632.27" stroke="#9d0eaf"/><path d="M427.82 619.98V632.27" stroke="#9d0eaf"/><path d="M358.74 634.43V654.67" stroke="#a31289"/><path d="M446.34 634.43V654.67" stroke="#a31289"/><path d="M365.11 624.89V637.90" stroke="#a5137b"/><path d="M452.71 624.89V637.90" stroke="#a5137b"/><path d="M371.49 617.23V625.90" stroke="#a7146c"/><path d="M459.09 617.23V625.90" stroke="#a7146c"/><path d="M377.46 604.22V610.00" stroke="#a9165d"/><path d="M465.06 604.22V610.00" stroke="#a9165d"/><path d="M383.63 602.41V607.47" stroke="#ab174e"/><path d="M471.23 602.41V607.47" stroke="#ab174e"/><path d="M389.80 619.98V630.10" stroke="#ad193f"/><path d="M477.40 619.98V630.10" stroke="#ad193f"/><path d="M396.18 621.06V631.90" stroke="#af1b2e"/><path d="M483.78 621.06V631.90" stroke="#af1b2e"/><path d="M321.33 621.49V630.89" stroke="#b31e0d"/><path d="M408.93 621.49V630.89" stroke="#b31e0d"/><path d="M346.50 630.82V641.66" stroke="#ba2700"/><path d="M434.10 630.82V641.66" stroke="#ba2700"/><path d="M365.02 610.72V616.51" stroke="#bf2e00"/><path d="M452.62 610.72V616.51" stroke="#bf2e00"/><path d="M371.19 615.78V623.73" stroke="#c13000"/><path d="M458.79 615.78V623.73" stroke="#c13000"/><path d="M390.11 627.42V639.71" stroke="#c63800"/><path d="M477.71 627.42V639.71" stroke="#c63800"/><path d="M396.29 616.72V624.67" stroke="#c83b00"/><path d="M483.89 616.72V624.67" stroke="#c83b00"/><path d="M402.66 613.33V619.83" stroke="#ca3e00"/><path d="M490.26 613.33V619.83" stroke="#ca3e00"/><path d="M321.24 612.24V618.75" stroke="#cb4100"/><path d="M408.84 612.24V618.75" stroke="#cb4100"/><path d="M327.61 610.58V616.36" stroke="#cd4400"/><path d="M415.21 610.58V616.36" stroke="#cd4400"/><path d="M333.79 620.92V629.59" stroke="#ce4800"/><path d="M421.39 620.92V629.59" stroke="#ce4800"/><path d="M339.96 623.73V633.86" stroke="#d04b00"/><path d="M427.56 623.73V633.86" stroke="#d04b00"/><path d="M346.33 623.73V633.86" stroke="#d24f00"/><path d="M433.93 623.73V633.86" stroke="#d24f00"/><path d="M352.71 621.06V629.73" stroke="#d35200"/><path d="M440.31 621.06V629.73" stroke="#d35200"/><path d="M358.88 615.28V622.51" stroke="#d55600"/><path d="M446.48 615.28V622.51" stroke="#d55600"/><path d="M365.06 631.90V644.92" stroke="#d65a00"/><path d="M452.66 631.90V644.92" stroke="#d65a00"/><path d="M371.23 614.77V621.28" stroke="#d85e00"/><path d="M458.83 614.77V621.28" stroke="#d85e00"/><path d="M377.61 618.75V626.70" stroke="#d96200"/><path d="M465.21 618.75V626.70" stroke="#d96200"/><path d="M383.78 619.98V628.65" stroke="#db6600"/><path d="M471.38 619.98V628.65" stroke="#db6600"/><path d="M390.15 629.37V643.11" stroke="#dc6a00"/><path d="M477.75 629.37V643.11" stroke="#dc6a00"/><path d="M396.33 621.28V629.95" stroke="#de6f00"/><path d="M483.93 621.28V629.95" stroke="#de6f00"/><path d="M402.70 623.95V633.35" stroke="#df7300"/><path d="M490.30 623.95V633.35" stroke="#df7300"/><path d="M321.28 614.63V621.86" stroke="#e17800"/><path d="M408.88 614.63V621.86" stroke="#e17800"/></g><circle cx="384.26" cy="636.82" r="1.8" fill="#260024"/><circle cx="471.86" cy="636.82" r="1.8" fill="#260024"/><circle cx="390.02" cy="627.42" r="1.8" fill="#2d0033"/><circle cx="477.62" cy="627.42" r="1.8" fill="#2d0033"/><circle cx="396.61" cy="628.87" r="1.8" fill="#350043"/><circle cx="484.21" cy="628.87" r="1.8" fill="#350043"/><circle cx="402.57" cy="618.31" r="1.8" fill="#3a0052"/><circle cx="490.17" cy="618.31" r="1.8" fill="#3a0052"/><circle cx="321.35" cy="623.23" r="1.8" fill="#400062"/><circle cx="408.95" cy="623.23" r="1.8" fill="#400062"/><circle cx="327.73" cy="624.10" r="1.8" fill="#450071"/><circle cx="415.33" cy="624.10" r="1.8" fill="#450071"/><circle cx="333.90" cy="631.90" r="1.8" fill="#4a007f"/><circle cx="421.50" cy="631.90" r="1.8" fill="#4a007f"/><circle cx="340.28" cy="635.37" r="1.8" fill="#4e008d"/><circle cx="427.88" cy="635.37" r="1.8" fill="#4e008d"/><circle cx="346.24" cy="625.98" r="1.8" fill="#52009a"/><circle cx="433.84" cy="625.98" r="1.8" fill="#52009a"/><circle cx="352.83" cy="627.20" r="1.8" fill="#5600a8"/><circle cx="440.43" cy="627.20" r="1.8" fill="#5600a8"/><circle cx="359.20" cy="633.35" r="1.8" fill="#5a00b4"/><circle cx="446.80" cy="633.35" r="1.8" fill="#5a00b4"/><circle cx="365.38" cy="618.53" r="1.8" fill="#5e01bf"/><circle cx="452.98" cy="618.53" r="1.8" fill="#5e01bf"/><circle cx="371.34" cy="608.27" r="1.8" fill="#6101c9"/><circle cx="458.94" cy="608.27" r="1.8" fill="#6101c9"/><circle cx="377.72" cy="617.52" r="1.8" fill="#6401d3"/><circle cx="465.32" cy="617.52" r="1.8" fill="#6401d3"/><circle cx="384.10" cy="618.60" r="1.8" fill="#6801dc"/><circle cx="471.70" cy="618.60" r="1.8" fill="#6801dc"/><circle cx="390.27" cy="637.18" r="1.8" fill="#6b01e3"/><circle cx="477.87" cy="637.18" r="1.8" fill="#6b01e3"/><circle cx="396.65" cy="633.42" r="1.8" fill="#6e02ea"/><circle cx="484.25" cy="633.42" r="1.8" fill="#6e02ea"/><circle cx="402.82" cy="639.64" r="1.8" fill="#7102f0"/><circle cx="490.42" cy="639.64" r="1.8" fill="#7102f0"/><circle cx="321.18" cy="613.47" r="1.8" fill="#7402f5"/><circle cx="408.78" cy="613.47" r="1.8" fill="#7402f5"/><circle cx="327.77" cy="615.13" r="1.8" fill="#7703f9"/><circle cx="415.37" cy="615.13" r="1.8" fill="#7703f9"/><circle cx="333.94" cy="614.92" r="1.8" fill="#7903fc"/><circle cx="421.54" cy="614.92" r="1.8" fill="#7903fc"/><circle cx="340.32" cy="618.17" r="1.8" fill="#7c03fe"/><circle cx="427.92" cy="618.17" r="1.8" fill="#7c03fe"/><circle cx="346.28" cy="626.27" r="1.8" fill="#7f04ff"/><circle cx="433.88" cy="626.27" r="1.8" fill="#7f04ff"/><circle cx="358.70" cy="619.04" r="1.8" fill="#8405fe"/><circle cx="446.30" cy="619.04" r="1.8" fill="#8405fe"/><circle cx="364.87" cy="618.31" r="1.8" fill="#8605fb"/><circle cx="452.47" cy="618.31" r="1.8" fill="#8605fb"/><circle cx="371.45" cy="611.88" r="1.8" fill="#8906f8"/><circle cx="459.05" cy="611.88" r="1.8" fill="#8906f8"/><circle cx="377.62" cy="622.36" r="1.8" fill="#8b07f4"/><circle cx="465.22" cy="622.36" r="1.8" fill="#8b07f4"/><circle cx="383.79" cy="613.69" r="1.8" fill="#8d07ee"/><circle cx="471.39" cy="613.69" r="1.8" fill="#8d07ee"/><circle cx="390.17" cy="617.59" r="1.8" fill="#9008e8"/><circle cx="477.77" cy="617.59" r="1.8" fill="#9008e8"/><circle cx="396.55" cy="629.16" r="1.8" fill="#9209e1"/><circle cx="484.15" cy="629.16" r="1.8" fill="#9209e1"/><circle cx="402.72" cy="626.63" r="1.8" fill="#940ad9"/><circle cx="490.32" cy="626.63" r="1.8" fill="#940ad9"/><circle cx="321.50" cy="628.43" r="1.8" fill="#970bcf"/><circle cx="409.10" cy="628.43" r="1.8" fill="#970bcf"/><circle cx="327.67" cy="614.19" r="1.8" fill="#990cc5"/><circle cx="415.27" cy="614.19" r="1.8" fill="#990cc5"/><circle cx="333.84" cy="620.34" r="1.8" fill="#9b0dbb"/><circle cx="421.44" cy="620.34" r="1.8" fill="#9b0dbb"/><circle cx="340.22" cy="626.12" r="1.8" fill="#9d0eaf"/><circle cx="427.82" cy="626.12" r="1.8" fill="#9d0eaf"/><circle cx="358.74" cy="644.55" r="1.8" fill="#a31289"/><circle cx="446.34" cy="644.55" r="1.8" fill="#a31289"/><circle cx="365.11" cy="631.40" r="1.8" fill="#a5137b"/><circle cx="452.71" cy="631.40" r="1.8" fill="#a5137b"/><circle cx="371.49" cy="621.57" r="1.8" fill="#a7146c"/><circle cx="459.09" cy="621.57" r="1.8" fill="#a7146c"/><circle cx="377.46" cy="607.11" r="1.8" fill="#a9165d"/><circle cx="465.06" cy="607.11" r="1.8" fill="#a9165d"/><circle cx="383.63" cy="604.94" r="1.8" fill="#ab174e"/><circle cx="471.23" cy="604.94" r="1.8" fill="#ab174e"/><circle cx="389.80" cy="625.04" r="1.8" fill="#ad193f"/><circle cx="477.40" cy="625.04" r="1.8" fill="#ad193f"/><circle cx="396.18" cy="626.48" r="1.8" fill="#af1b2e"/><circle cx="483.78" cy="626.48" r="1.8" fill="#af1b2e"/><circle cx="321.33" cy="626.19" r="1.8" fill="#b31e0d"/><circle cx="408.93" cy="626.19" r="1.8" fill="#b31e0d"/><circle cx="346.50" cy="636.24" r="1.8" fill="#ba2700"/><circle cx="434.10" cy="636.24" r="1.8" fill="#ba2700"/><circle cx="365.02" cy="613.61" r="1.8" fill="#bf2e00"/><circle cx="452.62" cy="613.61" r="1.8" fill="#bf2e00"/><circle cx="371.19" cy="619.76" r="1.8" fill="#c13000"/><circle cx="458.79" cy="619.76" r="1.8" fill="#c13000"/><circle cx="390.11" cy="633.57" r="1.8" fill="#c63800"/><circle cx="477.71" cy="633.57" r="1.8" fill="#c63800"/><circle cx="396.29" cy="620.70" r="1.8" fill="#c83b00"/><circle cx="483.89" cy="620.70" r="1.8" fill="#c83b00"/><circle cx="402.66" cy="616.58" r="1.8" fill="#ca3e00"/><circle cx="490.26" cy="616.58" r="1.8" fill="#ca3e00"/><circle cx="321.24" cy="615.49" r="1.8" fill="#cb4100"/><circle cx="408.84" cy="615.49" r="1.8" fill="#cb4100"/><circle cx="327.61" cy="613.47" r="1.8" fill="#cd4400"/><circle cx="415.21" cy="613.47" r="1.8" fill="#cd4400"/><circle cx="333.79" cy="625.25" r="1.8" fill="#ce4800"/><circle cx="421.39" cy="625.25" r="1.8" fill="#ce4800"/><circle cx="339.96" cy="628.80" r="1.8" fill="#d04b00"/><circle cx="427.56" cy="628.80" r="1.8" fill="#d04b00"/><circle cx="346.33" cy="628.80" r="1.8" fill="#d24f00"/><circle cx="433.93" cy="628.80" r="1.8" fill="#d24f00"/><circle cx="352.71" cy="625.40" r="1.8" fill="#d35200"/><circle cx="440.31" cy="625.40" r="1.8" fill="#d35200"/><circle cx="358.88" cy="618.89" r="1.8" fill="#d55600"/><circle cx="446.48" cy="618.89" r="1.8" fill="#d55600"/><circle cx="365.06" cy="638.41" r="1.8" fill="#d65a00"/><circle cx="452.66" cy="638.41" r="1.8" fill="#d65a00"/><circle cx="371.23" cy="618.02" r="1.8" fill="#d85e00"/><circle cx="458.83" cy="618.02" r="1.8" fill="#d85e00"/><circle cx="377.61" cy="622.72" r="1.8" fill="#d96200"/><circle cx="465.21" cy="622.72" r="1.8" fill="#d96200"/><circle cx="383.78" cy="624.31" r="1.8" fill="#db6600"/><circle cx="471.38" cy="624.31" r="1.8" fill="#db6600"/><circle cx="390.15" cy="636.24" r="1.8" fill="#dc6a00"/><circle cx="477.75" cy="636.24" r="1.8" fill="#dc6a00"/><circle cx="396.33" cy="625.61" r="1.8" fill="#de6f00"/><circle cx="483.93" cy="625.61" r="1.8" fill="#de6f00"/><circle cx="402.70" cy="628.65" r="1.8" fill="#df7300"/><circle cx="490.30" cy="628.65" r="1.8" fill="#df7300"/><circle cx="321.28" cy="618.24" r="1.8" fill="#e17800"/><circle cx="408.88" cy="618.24" r="1.8" fill="#e17800"/></g>
<rect x="499.20" y="592.65" width="9.20" height="72.00" fill="url(#pal)" stroke="#222" stroke-width="0.6"/>
<text transform="translate(517.00 667.95)" text-anchor="start" font-size="10.1">18.5</text>
<text transform="translate(517.00 649.95)" text-anchor="start" font-size="10.1">19</text>
<text transform="translate(517.00 631.95)" text-anchor="start" font-size="10.1">19.5</text>
<text transform="translate(517.00 613.95)" text-anchor="start" font-size="10.1">20</text>
<text transform="translate(517.00 595.95)" text-anchor="start" font-size="10.1">20.5</text>
<path d="M499.20 646.65H508.40 M499.20 628.65H508.40 M499.20 610.65H508.40" stroke="#000" stroke-width="0.6"/>
<text transform="translate(610.00 678.25)" text-anchor="middle" font-size="10.1">0</text>
<text transform="translate(625.65 678.25)" text-anchor="middle" font-size="10.1">2</text>
<text transform="translate(641.31 678.25)" text-anchor="middle" font-size="10.1">4</text>
<text transform="translate(656.96 678.25)" text-anchor="middle" font-size="10.1">6</text>
<text transform="translate(672.62 678.25)" text-anchor="middle" font-size="10.1">8</text>
<text transform="translate(688.27 678.25)" text-anchor="middle" font-size="10.1">10</text>
<text transform="translate(703.92 678.25)" text-anchor="middle" font-size="10.1">12</text>
<text transform="translate(719.58 678.25)" text-anchor="middle" font-size="10.1">14</text>
<text transform="translate(735.23 678.25)" text-anchor="middle" font-size="10.1">16</text>
<text transform="translate(750.88 678.25)" text-anchor="middle" font-size="10.1">18</text>
<text transform="translate(766.54 678.25)" text-anchor="middle" font-size="10.1">20</text>
<text transform="translate(782.19 678.25)" text-anchor="middle" font-size="10.1">22</text>
<text transform="translate(797.85 678.25)" text-anchor="middle" font-size="10.1">24</text>
<text transform="translate(813.50 678.25)" text-anchor="middle" font-size="10.1">26</text>
<text transform="translate(603.10 668.05)" text-anchor="end" font-size="10.1">0.3</text>
<text transform="translate(603.10 644.05)" text-anchor="end" font-size="10.1">0.32</text>
<text transform="translate(603.10 620.05)" text-anchor="end" font-size="10.1">0.34</text>
<text transform="translate(603.10 596.05)" text-anchor="end" font-size="10.1">0.36</text>
<path d="M608.90 664.65v-4.60 M608.90 592.65v4.60 M612.81 664.65v-2.30 M612.81 592.65v2.30 M616.73 664.65v-2.30 M616.73 592.65v2.30 M620.64 664.65v-2.30 M620.64 592.65v2.30 M624.55 664.65v-4.60 M624.55 592.65v4.60 M628.47 664.65v-2.30 M628.47 592.65v2.30 M632.38 664.65v-2.30 M632.38 592.65v2.30 M636.29 664.65v-2.30 M636.29 592.65v2.30 M640.21 664.65v-4.60 M640.21 592.65v4.60 M644.12 664.65v-2.30 M644.12 592.65v2.30 M648.03 664.65v-2.30 M648.03 592.65v2.30 M651.95 664.65v-2.30 M651.95 592.65v2.30 M655.86 664.65v-4.60 M655.86 592.65v4.60 M659.77 664.65v-2.30 M659.77 592.65v2.30 M663.69 664.65v-2.30 M663.69 592.65v2.30 M667.60 664.65v-2.30 M667.60 592.65v2.30 M671.52 664.65v-4.60 M671.52 592.65v4.60 M675.43 664.65v-2.30 M675.43 592.65v2.30 M679.34 664.65v-2.30 M679.34 592.65v2.30 M683.26 664.65v-2.30 M683.26 592.65v2.30 M687.17 664.65v-4.60 M687.17 592.65v4.60 M691.08 664.65v-2.30 M691.08 592.65v2.30 M695.00 664.65v-2.30 M695.00 592.65v2.30 M698.91 664.65v-2.30 M698.91 592.65v2.30 M702.82 664.65v-4.60 M702.82 592.65v4.60 M706.74 664.65v-2.30 M706.74 592.65v2.30 M710.65 664.65v-2.30 M710.65 592.65v2.30 M714.56 664.65v-2.30 M714.56 592.65v2.30 M718.48 664.65v-4.60 M718.48 592.65v4.60 M722.39 664.65v-2.30 M722.39 592.65v2.30 M726.30 664.65v-2.30 M726.30 592.65v2.30 M730.22 664.65v-2.30 M730.22 592.65v2.30 M734.13 664.65v-4.60 M734.13 592.65v4.60 M738.04 664.65v-2.30 M738.04 592.65v2.30 M741.96 664.65v-2.30 M741.96 592.65v2.30 M745.87 664.65v-2.30 M745.87 592.65v2.30 M749.78 664.65v-4.60 M749.78 592.65v4.60 M753.70 664.65v-2.30 M753.70 592.65v2.30 M757.61 664.65v-2.30 M757.61 592.65v2.30 M761.52 664.65v-2.30 M761.52 592.65v2.30 M765.44 664.65v-4.60 M765.44 592.65v4.60 M769.35 664.65v-2.30 M769.35 592.65v2.30 M773.27 664.65v-2.30 M773.27 592.65v2.30 M777.18 664.65v-2.30 M777.18 592.65v2.30 M781.09 664.65v-4.60 M781.09 592.65v4.60 M785.01 664.65v-2.30 M785.01 592.65v2.30 M788.92 664.65v-2.30 M788.92 592.65v2.30 M792.83 664.65v-2.30 M792.83 592.65v2.30 M796.75 664.65v-4.60 M796.75 592.65v4.60 M800.66 664.65v-2.30 M800.66 592.65v2.30 M804.57 664.65v-2.30 M804.57 592.65v2.30 M808.49 664.65v-2.30 M808.49 592.65v2.30 M812.40 664.65v-4.60 M812.40 592.65v4.60 M608.90 664.65h4.60 M812.40 664.65h-4.60 M608.90 659.85h2.30 M812.40 659.85h-2.30 M608.90 655.05h2.30 M812.40 655.05h-2.30 M608.90 650.25h2.30 M812.40 650.25h-2.30 M608.90 645.45h2.30 M812.40 645.45h-2.30 M608.90 640.65h4.60 M812.40 640.65h-4.60 M608.90 635.85h2.30 M812.40 635.85h-2.30 M608.90 631.05h2.30 M812.40 631.05h-2.30 M608.90 626.25h2.30 M812.40 626.25h-2.30 M608.90 621.45h2.30 M812.40 621.45h-2.30 M608.90 616.65h4.60 M812.40 616.65h-4.60 M608.90 611.85h2.30 M812.40 611.85h-2.30 M608.90 607.05h2.30 M812.40 607.05h-2.30 M608.90 602.25h2.30 M812.40 602.25h-2.30 M608.90 597.45h2.30 M812.40 597.45h-2.30 M608.90 592.65h4.60 M812.40 592.65h-4.60" stroke="#000" stroke-width="0.6" fill="none"/>
<rect x="608.90" y="592.65" width="203.50" height="72.00" fill="none" stroke="#000" stroke-width="1.1"/>
<text transform="translate(710.25 693.35)" text-anchor="middle" font-size="9.0" textLength="61.20" lengthAdjust="spacingAndGlyphs">Frequency (1/d)</text>
<text transform="translate(564.50 628.85) rotate(-90)" text-anchor="middle" font-size="9.0" textLength="68.20" lengthAdjust="spacingAndGlyphs">Phase disp (mag)</text>
<path d="M609.64 617.81 L611.63 617.54 L613.61 615.82 L615.34 611.84 L616.93 608.80 L618.25 611.18 L619.58 615.82 L620.90 617.81 L622.23 614.49 L623.55 608.53 L624.88 605.88 L626.47 606.14 L628.19 608.53 L629.92 614.49 L631.51 618.87 L632.83 617.81 L634.42 612.51 L636.14 607.87 L638.13 605.61 L640.12 605.48 L642.11 607.20 L644.10 612.51 L646.08 618.47 L648.07 622.45 L649.40 620.46 L650.72 612.51 L652.05 606.54 L652.98 606.14 L654.04 613.83 L655.10 632.39 L656.02 646.96 L656.69 652.27 L657.48 646.96 L658.41 633.71 L659.34 625.76 L660.13 626.42 L660.93 635.04 L661.99 646.96 L663.05 654.92 L663.71 656.24 L664.64 649.61 L665.70 633.71 L666.76 620.46 L667.95 613.83 L669.28 611.84 L670.60 611.84 L672.59 613.17 L673.92 617.81 L675.51 623.77 L676.83 625.76 L678.16 621.78 L679.48 612.51 L680.81 607.20 L681.87 606.94 L683.19 609.86 L684.52 610.52 L685.84 607.20 L686.90 606.54 L688.23 610.52 L689.55 615.16 L690.48 616.22 L691.81 612.51 L693.53 608.53 L695.12 607.47 L697.11 606.54 L698.43 606.54 L699.76 609.86 L701.48 615.16 L702.81 616.75 L704.40 614.49 L705.99 609.86 L708.11 606.54 L710.36 605.61 L710.98 605.88 L712.96 607.87 L714.69 610.52 L716.01 611.18 L717.60 608.53 L719.19 605.61 L720.25 605.88 L721.58 609.19 L723.17 611.84 L724.49 609.86 L725.82 606.54 L726.88 605.61 L728.47 607.87 L730.19 609.59 L731.92 607.87 L733.51 606.54 L735.49 606.94 L738.14 606.54 L741.46 606.28 L744.77 606.28 L746.76 607.20 L748.75 609.59 L750.07 610.12 L752.06 609.19 L754.71 607.87 L757.10 606.54 L758.42 607.87 L759.75 612.51 L761.07 616.22 L762.13 616.48 L763.33 613.17 L764.65 607.87 L765.98 605.61 L767.30 606.54 L768.63 609.86 L770.35 612.90 L771.94 612.24 L773.93 610.52 L775.92 607.87 L777.90 605.88 L779.89 605.88 L781.88 605.61 L783.20 607.87 L784.53 611.84 L785.86 613.43 L786.92 610.52 L788.11 606.54 L789.17 607.20 L790.23 612.51 L791.42 619.13 L792.48 622.05 L793.54 619.13 L794.73 611.84 L796.06 607.20 L797.12 606.28 L798.71 607.20 L800.43 608.53 L802.16 607.20 L803.75 606.14" stroke="#111" stroke-width="0.7" fill="none" stroke-linejoin="round"/>
<path d="M663.45 596.05V629.05" stroke="#ff0000" stroke-opacity="0.58" stroke-width="1.15"/>
<text transform="translate(44.60 794.50)" text-anchor="middle" font-size="10.1">34.25</text>
<text transform="translate(98.40 794.50)" text-anchor="middle" font-size="10.1">34.5</text>
<text transform="translate(152.20 794.50)" text-anchor="middle" font-size="10.1">34.75</text>
<text transform="translate(206.00 794.50)" text-anchor="middle" font-size="10.1">35</text>
<text transform="translate(259.80 794.50)" text-anchor="middle" font-size="10.1">35.25</text>
<text transform="translate(37.00 712.30)" text-anchor="end" font-size="10.1">20</text>
<text transform="translate(37.00 730.30)" text-anchor="end" font-size="10.1">21</text>
<text transform="translate(37.00 748.30)" text-anchor="end" font-size="10.1">22</text>
<text transform="translate(37.00 766.30)" text-anchor="end" font-size="10.1">23</text>
<text transform="translate(37.00 784.30)" text-anchor="end" font-size="10.1">24</text>
<path d="M43.50 780.90v-4.60 M43.50 708.90v4.60 M54.26 780.90v-2.30 M54.26 708.90v2.30 M65.02 780.90v-2.30 M65.02 708.90v2.30 M75.78 780.90v-2.30 M75.78 708.90v2.30 M86.54 780.90v-2.30 M86.54 708.90v2.30 M97.30 780.90v-4.60 M97.30 708.90v4.60 M108.06 780.90v-2.30 M108.06 708.90v2.30 M118.82 780.90v-2.30 M118.82 708.90v2.30 M129.58 780.90v-2.30 M129.58 708.90v2.30 M140.34 780.90v-2.30 M140.34 708.90v2.30 M151.10 780.90v-4.60 M151.10 708.90v4.60 M161.86 780.90v-2.30 M161.86 708.90v2.30 M172.62 780.90v-2.30 M172.62 708.90v2.30 M183.38 780.90v-2.30 M183.38 708.90v2.30 M194.14 780.90v-2.30 M194.14 708.90v2.30 M204.90 780.90v-4.60 M204.90 708.90v4.60 M215.66 780.90v-2.30 M215.66 708.90v2.30 M226.42 780.90v-2.30 M226.42 708.90v2.30 M237.18 780.90v-2.30 M237.18 708.90v2.30 M247.94 780.90v-2.30 M247.94 708.90v2.30 M258.70 780.90v-4.60 M258.70 708.90v4.60 M43.50 708.90h4.60 M258.70 708.90h-4.60 M43.50 712.50h2.30 M258.70 712.50h-2.30 M43.50 716.10h2.30 M258.70 716.10h-2.30 M43.50 719.70h2.30 M258.70 719.70h-2.30 M43.50 723.30h2.30 M258.70 723.30h-2.30 M43.50 726.90h4.60 M258.70 726.90h-4.60 M43.50 730.50h2.30 M258.70 730.50h-2.30 M43.50 734.10h2.30 M258.70 734.10h-2.30 M43.50 737.70h2.30 M258.70 737.70h-2.30 M43.50 741.30h2.30 M258.70 741.30h-2.30 M43.50 744.90h4.60 M258.70 744.90h-4.60 M43.50 748.50h2.30 M258.70 748.50h-2.30 M43.50 752.10h2.30 M258.70 752.10h-2.30 M43.50 755.70h2.30 M258.70 755.70h-2.30 M43.50 759.30h2.30 M258.70 759.30h-2.30 M43.50 762.90h4.60 M258.70 762.90h-4.60 M43.50 766.50h2.30 M258.70 766.50h-2.30 M43.50 770.10h2.30 M258.70 770.10h-2.30 M43.50 773.70h2.30 M258.70 773.70h-2.30 M43.50 777.30h2.30 M258.70 777.30h-2.30 M43.50 780.90h4.60 M258.70 780.90h-4.60" stroke="#000" stroke-width="0.6" fill="none"/>
<rect x="43.50" y="708.90" width="215.20" height="72.00" fill="none" stroke="#000" stroke-width="1.1"/>
<text transform="translate(150.70 809.60)" text-anchor="middle" font-size="9.0" textLength="68.00" lengthAdjust="spacingAndGlyphs">BJD−2457400 (d)</text>
<text transform="translate(11.60 745.10) rotate(-90)" text-anchor="middle" font-size="9.0" textLength="30.00" lengthAdjust="spacingAndGlyphs">Kp mag</text>
<path d="M93.58 727.70V739.99 M106.69 727.50V734.67 M111.20 733.44V744.70 M115.60 741.43V764.98 M119.90 727.60V735.80 M124.31 729.14V739.38 M128.71 739.38V763.96 M137.52 735.49V745.73 M141.92 725.35V731.49 M150.73 740.30V758.73 M155.23 726.17V732.31 M168.34 738.87V754.23 M172.75 732.93V741.12 M176.90 738.70V749.90 M181.58 730.98V739.17 M185.99 728.11V735.28 M190.39 731.29V739.48 M194.69 738.15V748.39 M212.31 732.42V741.63 M216.61 726.07V732.21 M221.11 730.78V738.97 M225.52 728.01V734.16 M229.92 732.31V742.55 M234.33 733.34V743.58 M243.13 734.57V744.81 M256.24 737.43V746.65" stroke="#d0d0d0" stroke-width="0.9" fill="none"/>
<g fill="#000"><circle cx="93.58" cy="733.85" r="1.65"/><circle cx="106.69" cy="731.08" r="1.65"/><circle cx="111.20" cy="739.07" r="1.65"/><circle cx="115.60" cy="753.20" r="1.65"/><circle cx="119.90" cy="731.70" r="1.65"/><circle cx="124.31" cy="734.26" r="1.65"/><circle cx="128.71" cy="751.67" r="1.65"/><circle cx="137.52" cy="740.61" r="1.65"/><circle cx="141.92" cy="728.42" r="1.65"/><circle cx="150.73" cy="749.52" r="1.65"/><circle cx="155.23" cy="729.24" r="1.65"/><circle cx="168.34" cy="746.55" r="1.65"/><circle cx="172.75" cy="737.02" r="1.65"/><circle cx="176.90" cy="744.30" r="1.65"/><circle cx="181.58" cy="735.08" r="1.65"/><circle cx="185.99" cy="731.70" r="1.65"/><circle cx="190.39" cy="735.39" r="1.65"/><circle cx="194.69" cy="743.27" r="1.65"/><circle cx="212.31" cy="737.02" r="1.65"/><circle cx="216.61" cy="729.14" r="1.65"/><circle cx="221.11" cy="734.87" r="1.65"/><circle cx="225.52" cy="731.08" r="1.65"/><circle cx="229.92" cy="737.43" r="1.65"/><circle cx="234.33" cy="738.46" r="1.65"/><circle cx="243.13" cy="739.69" r="1.65"/><circle cx="256.24" cy="742.04" r="1.65"/></g>
<text transform="translate(58.80 775.70)" text-anchor="start" font-size="10.1">2005 QX175</text>
<text transform="translate(321.20 794.50)" text-anchor="middle" font-size="10.1">0</text>
<text transform="translate(343.10 794.50)" text-anchor="middle" font-size="10.1">0.25</text>
<text transform="translate(365.00 794.50)" text-anchor="middle" font-size="10.1">0.5</text>
<text transform="translate(386.90 794.50)" text-anchor="middle" font-size="10.1">0.75</text>
<text transform="translate(408.80 794.50)" text-anchor="middle" font-size="10.1">1</text>
<text transform="translate(430.70 794.50)" text-anchor="middle" font-size="10.1">1.25</text>
<text transform="translate(452.60 794.50)" text-anchor="middle" font-size="10.1">1.5</text>
<text transform="translate(474.50 794.50)" text-anchor="middle" font-size="10.1">1.75</text>
<text transform="translate(496.40 794.50)" text-anchor="middle" font-size="10.1">2</text>
<text transform="translate(313.60 712.30)" text-anchor="end" font-size="10.1">20</text>
<text transform="translate(313.60 730.30)" text-anchor="end" font-size="10.1">21</text>
<text transform="translate(313.60 748.30)" text-anchor="end" font-size="10.1">22</text>
<text transform="translate(313.60 766.30)" text-anchor="end" font-size="10.1">23</text>
<text transform="translate(313.60 784.30)" text-anchor="end" font-size="10.1">24</text>
<path d="M320.10 780.90v-4.60 M320.10 708.90v4.60 M324.48 780.90v-2.30 M324.48 708.90v2.30 M328.86 780.90v-2.30 M328.86 708.90v2.30 M333.24 780.90v-2.30 M333.24 708.90v2.30 M337.62 780.90v-2.30 M337.62 708.90v2.30 M342.00 780.90v-4.60 M342.00 708.90v4.60 M346.38 780.90v-2.30 M346.38 708.90v2.30 M350.76 780.90v-2.30 M350.76 708.90v2.30 M355.14 780.90v-2.30 M355.14 708.90v2.30 M359.52 780.90v-2.30 M359.52 708.90v2.30 M363.90 780.90v-4.60 M363.90 708.90v4.60 M368.28 780.90v-2.30 M368.28 708.90v2.30 M372.66 780.90v-2.30 M372.66 708.90v2.30 M377.04 780.90v-2.30 M377.04 708.90v2.30 M381.42 780.90v-2.30 M381.42 708.90v2.30 M385.80 780.90v-4.60 M385.80 708.90v4.60 M390.18 780.90v-2.30 M390.18 708.90v2.30 M394.56 780.90v-2.30 M394.56 708.90v2.30 M398.94 780.90v-2.30 M398.94 708.90v2.30 M403.32 780.90v-2.30 M403.32 708.90v2.30 M407.70 780.90v-4.60 M407.70 708.90v4.60 M412.08 780.90v-2.30 M412.08 708.90v2.30 M416.46 780.90v-2.30 M416.46 708.90v2.30 M420.84 780.90v-2.30 M420.84 708.90v2.30 M425.22 780.90v-2.30 M425.22 708.90v2.30 M429.60 780.90v-4.60 M429.60 708.90v4.60 M433.98 780.90v-2.30 M433.98 708.90v2.30 M438.36 780.90v-2.30 M438.36 708.90v2.30 M442.74 780.90v-2.30 M442.74 708.90v2.30 M447.12 780.90v-2.30 M447.12 708.90v2.30 M451.50 780.90v-4.60 M451.50 708.90v4.60 M455.88 780.90v-2.30 M455.88 708.90v2.30 M460.26 780.90v-2.30 M460.26 708.90v2.30 M464.64 780.90v-2.30 M464.64 708.90v2.30 M469.02 780.90v-2.30 M469.02 708.90v2.30 M473.40 780.90v-4.60 M473.40 708.90v4.60 M477.78 780.90v-2.30 M477.78 708.90v2.30 M482.16 780.90v-2.30 M482.16 708.90v2.30 M486.54 780.90v-2.30 M486.54 708.90v2.30 M490.92 780.90v-2.30 M490.92 708.90v2.30 M495.30 780.90v-4.60 M495.30 708.90v4.60 M320.10 708.90h4.60 M495.30 708.90h-4.60 M320.10 712.50h2.30 M495.30 712.50h-2.30 M320.10 716.10h2.30 M495.30 716.10h-2.30 M320.10 719.70h2.30 M495.30 719.70h-2.30 M320.10 723.30h2.30 M495.30 723.30h-2.30 M320.10 726.90h4.60 M495.30 726.90h-4.60 M320.10 730.50h2.30 M495.30 730.50h-2.30 M320.10 734.10h2.30 M495.30 734.10h-2.30 M320.10 737.70h2.30 M495.30 737.70h-2.30 M320.10 741.30h2.30 M495.30 741.30h-2.30 M320.10 744.90h4.60 M495.30 744.90h-4.60 M320.10 748.50h2.30 M495.30 748.50h-2.30 M320.10 752.10h2.30 M495.30 752.10h-2.30 M320.10 755.70h2.30 M495.30 755.70h-2.30 M320.10 759.30h2.30 M495.30 759.30h-2.30 M320.10 762.90h4.60 M495.30 762.90h-4.60 M320.10 766.50h2.30 M495.30 766.50h-2.30 M320.10 770.10h2.30 M495.30 770.10h-2.30 M320.10 773.70h2.30 M495.30 773.70h-2.30 M320.10 777.30h2.30 M495.30 777.30h-2.30 M320.10 780.90h4.60 M495.30 780.90h-4.60" stroke="#000" stroke-width="0.6" fill="none"/>
<rect x="320.10" y="708.90" width="175.20" height="72.00" fill="none" stroke="#000" stroke-width="1.1"/>
<text transform="translate(407.30 809.60)" text-anchor="middle" font-size="9.0" textLength="103.00" lengthAdjust="spacingAndGlyphs">Rotation phase – P = 3.6 h</text>
<text transform="translate(288.00 745.10) rotate(-90)" text-anchor="middle" font-size="9.0" textLength="30.00" lengthAdjust="spacingAndGlyphs">Kp mag</text>
<clipPath id="cm6"><rect x="318.10" y="708.90" width="179.20" height="72.00"/></clipPath>
<g clip-path="url(#cm6)"><g stroke-width="0.72" opacity="0.95"><path d="M370.16 727.70V739.99" stroke="#7b03fe"/><path d="M457.76 727.70V739.99" stroke="#7b03fe"/><path d="M406.36 727.50V734.67" stroke="#8a06f5"/><path d="M493.96 727.50V734.67" stroke="#8a06f5"/><path d="M331.20 733.44V744.70" stroke="#8f08ea"/><path d="M418.80 733.44V744.70" stroke="#8f08ea"/><path d="M343.37 741.43V764.98" stroke="#940adb"/><path d="M430.97 741.43V764.98" stroke="#940adb"/><path d="M355.24 727.60V735.80" stroke="#980bc9"/><path d="M442.84 727.60V735.80" stroke="#980bc9"/><path d="M367.41 729.14V739.38" stroke="#9c0eb4"/><path d="M455.01 729.14V739.38" stroke="#9c0eb4"/><path d="M379.57 739.38V763.96" stroke="#a0109b"/><path d="M467.17 739.38V763.96" stroke="#a0109b"/><path d="M403.89 735.49V745.73" stroke="#a91562"/><path d="M491.49 735.49V745.73" stroke="#a91562"/><path d="M328.45 725.35V731.49" stroke="#ac1844"/><path d="M416.05 725.35V731.49" stroke="#ac1844"/><path d="M352.77 740.30V758.73" stroke="#b42003"/><path d="M440.37 740.30V758.73" stroke="#b42003"/><path d="M365.22 726.17V732.31" stroke="#b82400"/><path d="M452.82 726.17V732.31" stroke="#b82400"/><path d="M401.42 738.87V754.23" stroke="#c23200"/><path d="M489.02 738.87V754.23" stroke="#c23200"/><path d="M325.98 732.93V741.12" stroke="#c63700"/><path d="M413.58 732.93V741.12" stroke="#c63700"/><path d="M337.45 738.70V749.90" stroke="#c93d00"/><path d="M425.05 738.70V749.90" stroke="#c93d00"/><path d="M350.38 730.98V739.17" stroke="#cc4300"/><path d="M437.98 730.98V739.17" stroke="#cc4300"/><path d="M362.54 728.11V735.28" stroke="#cf4a00"/><path d="M450.14 728.11V735.28" stroke="#cf4a00"/><path d="M374.71 731.29V739.48" stroke="#d35100"/><path d="M462.31 731.29V739.48" stroke="#d35100"/><path d="M386.58 738.15V748.39" stroke="#d65800"/><path d="M474.18 738.15V748.39" stroke="#d65800"/><path d="M347.63 732.42V741.63" stroke="#e27b00"/><path d="M435.23 732.42V741.63" stroke="#e27b00"/><path d="M359.51 726.07V732.21" stroke="#e58500"/><path d="M447.11 726.07V732.21" stroke="#e58500"/><path d="M371.95 730.78V738.97" stroke="#e88f00"/><path d="M459.55 730.78V738.97" stroke="#e88f00"/><path d="M384.11 728.01V734.16" stroke="#eb9a00"/><path d="M471.71 728.01V734.16" stroke="#eb9a00"/><path d="M396.27 732.31V742.55" stroke="#eda600"/><path d="M483.87 732.31V742.55" stroke="#eda600"/><path d="M320.83 733.34V743.58" stroke="#f0b200"/><path d="M408.43 733.34V743.58" stroke="#f0b200"/><path d="M345.16 734.57V744.81" stroke="#f6cc00"/><path d="M432.76 734.57V744.81" stroke="#f6cc00"/><path d="M381.36 737.43V746.65" stroke="#fef600"/><path d="M468.96 737.43V746.65" stroke="#fef600"/></g><circle cx="370.16" cy="733.85" r="1.8" fill="#7b03fe"/><circle cx="457.76" cy="733.85" r="1.8" fill="#7b03fe"/><circle cx="406.36" cy="731.08" r="1.8" fill="#8a06f5"/><circle cx="493.96" cy="731.08" r="1.8" fill="#8a06f5"/><circle cx="331.20" cy="739.07" r="1.8" fill="#8f08ea"/><circle cx="418.80" cy="739.07" r="1.8" fill="#8f08ea"/><circle cx="343.37" cy="753.20" r="1.8" fill="#940adb"/><circle cx="430.97" cy="753.20" r="1.8" fill="#940adb"/><circle cx="355.24" cy="731.70" r="1.8" fill="#980bc9"/><circle cx="442.84" cy="731.70" r="1.8" fill="#980bc9"/><circle cx="367.41" cy="734.26" r="1.8" fill="#9c0eb4"/><circle cx="455.01" cy="734.26" r="1.8" fill="#9c0eb4"/><circle cx="379.57" cy="751.67" r="1.8" fill="#a0109b"/><circle cx="467.17" cy="751.67" r="1.8" fill="#a0109b"/><circle cx="403.89" cy="740.61" r="1.8" fill="#a91562"/><circle cx="491.49" cy="740.61" r="1.8" fill="#a91562"/><circle cx="328.45" cy="728.42" r="1.8" fill="#ac1844"/><circle cx="416.05" cy="728.42" r="1.8" fill="#ac1844"/><circle cx="352.77" cy="749.52" r="1.8" fill="#b42003"/><circle cx="440.37" cy="749.52" r="1.8" fill="#b42003"/><circle cx="365.22" cy="729.24" r="1.8" fill="#b82400"/><circle cx="452.82" cy="729.24" r="1.8" fill="#b82400"/><circle cx="401.42" cy="746.55" r="1.8" fill="#c23200"/><circle cx="489.02" cy="746.55" r="1.8" fill="#c23200"/><circle cx="325.98" cy="737.02" r="1.8" fill="#c63700"/><circle cx="413.58" cy="737.02" r="1.8" fill="#c63700"/><circle cx="337.45" cy="744.30" r="1.8" fill="#c93d00"/><circle cx="425.05" cy="744.30" r="1.8" fill="#c93d00"/><circle cx="350.38" cy="735.08" r="1.8" fill="#cc4300"/><circle cx="437.98" cy="735.08" r="1.8" fill="#cc4300"/><circle cx="362.54" cy="731.70" r="1.8" fill="#cf4a00"/><circle cx="450.14" cy="731.70" r="1.8" fill="#cf4a00"/><circle cx="374.71" cy="735.39" r="1.8" fill="#d35100"/><circle cx="462.31" cy="735.39" r="1.8" fill="#d35100"/><circle cx="386.58" cy="743.27" r="1.8" fill="#d65800"/><circle cx="474.18" cy="743.27" r="1.8" fill="#d65800"/><circle cx="347.63" cy="737.02" r="1.8" fill="#e27b00"/><circle cx="435.23" cy="737.02" r="1.8" fill="#e27b00"/><circle cx="359.51" cy="729.14" r="1.8" fill="#e58500"/><circle cx="447.11" cy="729.14" r="1.8" fill="#e58500"/><circle cx="371.95" cy="734.87" r="1.8" fill="#e88f00"/><circle cx="459.55" cy="734.87" r="1.8" fill="#e88f00"/><circle cx="384.11" cy="731.08" r="1.8" fill="#eb9a00"/><circle cx="471.71" cy="731.08" r="1.8" fill="#eb9a00"/><circle cx="396.27" cy="737.43" r="1.8" fill="#eda600"/><circle cx="483.87" cy="737.43" r="1.8" fill="#eda600"/><circle cx="320.83" cy="738.46" r="1.8" fill="#f0b200"/><circle cx="408.43" cy="738.46" r="1.8" fill="#f0b200"/><circle cx="345.16" cy="739.69" r="1.8" fill="#f6cc00"/><circle cx="432.76" cy="739.69" r="1.8" fill="#f6cc00"/><circle cx="381.36" cy="742.04" r="1.8" fill="#fef600"/><circle cx="468.96" cy="742.04" r="1.8" fill="#fef600"/></g>
<rect x="499.20" y="708.90" width="9.20" height="72.00" fill="url(#pal)" stroke="#222" stroke-width="0.6"/>
<text transform="translate(517.00 784.20)" text-anchor="start" font-size="10.1">34.25</text>
<text transform="translate(517.00 766.20)" text-anchor="start" font-size="10.1">34.5</text>
<text transform="translate(517.00 748.20)" text-anchor="start" font-size="10.1">34.75</text>
<text transform="translate(517.00 730.20)" text-anchor="start" font-size="10.1">35</text>
<text transform="translate(517.00 712.20)" text-anchor="start" font-size="10.1">35.25</text>
<path d="M499.20 762.90H508.40 M499.20 744.90H508.40 M499.20 726.90H508.40" stroke="#000" stroke-width="0.6"/>
<text transform="translate(610.00 794.50)" text-anchor="middle" font-size="10.1">0</text>
<text transform="translate(625.65 794.50)" text-anchor="middle" font-size="10.1">2</text>
<text transform="translate(641.31 794.50)" text-anchor="middle" font-size="10.1">4</text>
<text transform="translate(656.96 794.50)" text-anchor="middle" font-size="10.1">6</text>
<text transform="translate(672.62 794.50)" text-anchor="middle" font-size="10.1">8</text>
<text transform="translate(688.27 794.50)" text-anchor="middle" font-size="10.1">10</text>
<text transform="translate(703.92 794.50)" text-anchor="middle" font-size="10.1">12</text>
<text transform="translate(719.58 794.50)" text-anchor="middle" font-size="10.1">14</text>
<text transform="translate(735.23 794.50)" text-anchor="middle" font-size="10.1">16</text>
<text transform="translate(750.88 794.50)" text-anchor="middle" font-size="10.1">18</text>
<text transform="translate(766.54 794.50)" text-anchor="middle" font-size="10.1">20</text>
<text transform="translate(782.19 794.50)" text-anchor="middle" font-size="10.1">22</text>
<text transform="translate(797.85 794.50)" text-anchor="middle" font-size="10.1">24</text>
<text transform="translate(813.50 794.50)" text-anchor="middle" font-size="10.1">26</text>
<text transform="translate(603.10 784.30)" text-anchor="end" font-size="10.1">0.3</text>
<text transform="translate(603.10 766.30)" text-anchor="end" font-size="10.1">0.32</text>
<text transform="translate(603.10 748.30)" text-anchor="end" font-size="10.1">0.34</text>
<text transform="translate(603.10 730.30)" text-anchor="end" font-size="10.1">0.36</text>
<text transform="translate(603.10 712.30)" text-anchor="end" font-size="10.1">0.38</text>
<path d="M608.90 780.90v-4.60 M608.90 708.90v4.60 M612.81 780.90v-2.30 M612.81 708.90v2.30 M616.73 780.90v-2.30 M616.73 708.90v2.30 M620.64 780.90v-2.30 M620.64 708.90v2.30 M624.55 780.90v-4.60 M624.55 708.90v4.60 M628.47 780.90v-2.30 M628.47 708.90v2.30 M632.38 780.90v-2.30 M632.38 708.90v2.30 M636.29 780.90v-2.30 M636.29 708.90v2.30 M640.21 780.90v-4.60 M640.21 708.90v4.60 M644.12 780.90v-2.30 M644.12 708.90v2.30 M648.03 780.90v-2.30 M648.03 708.90v2.30 M651.95 780.90v-2.30 M651.95 708.90v2.30 M655.86 780.90v-4.60 M655.86 708.90v4.60 M659.77 780.90v-2.30 M659.77 708.90v2.30 M663.69 780.90v-2.30 M663.69 708.90v2.30 M667.60 780.90v-2.30 M667.60 708.90v2.30 M671.52 780.90v-4.60 M671.52 708.90v4.60 M675.43 780.90v-2.30 M675.43 708.90v2.30 M679.34 780.90v-2.30 M679.34 708.90v2.30 M683.26 780.90v-2.30 M683.26 708.90v2.30 M687.17 780.90v-4.60 M687.17 708.90v4.60 M691.08 780.90v-2.30 M691.08 708.90v2.30 M695.00 780.90v-2.30 M695.00 708.90v2.30 M698.91 780.90v-2.30 M698.91 708.90v2.30 M702.82 780.90v-4.60 M702.82 708.90v4.60 M706.74 780.90v-2.30 M706.74 708.90v2.30 M710.65 780.90v-2.30 M710.65 708.90v2.30 M714.56 780.90v-2.30 M714.56 708.90v2.30 M718.48 780.90v-4.60 M718.48 708.90v4.60 M722.39 780.90v-2.30 M722.39 708.90v2.30 M726.30 780.90v-2.30 M726.30 708.90v2.30 M730.22 780.90v-2.30 M730.22 708.90v2.30 M734.13 780.90v-4.60 M734.13 708.90v4.60 M738.04 780.90v-2.30 M738.04 708.90v2.30 M741.96 780.90v-2.30 M741.96 708.90v2.30 M745.87 780.90v-2.30 M745.87 708.90v2.30 M749.78 780.90v-4.60 M749.78 708.90v4.60 M753.70 780.90v-2.30 M753.70 708.90v2.30 M757.61 780.90v-2.30 M757.61 708.90v2.30 M761.52 780.90v-2.30 M761.52 708.90v2.30 M765.44 780.90v-4.60 M765.44 708.90v4.60 M769.35 780.90v-2.30 M769.35 708.90v2.30 M773.27 780.90v-2.30 M773.27 708.90v2.30 M777.18 780.90v-2.30 M777.18 708.90v2.30 M781.09 780.90v-4.60 M781.09 708.90v4.60 M785.01 780.90v-2.30 M785.01 708.90v2.30 M788.92 780.90v-2.30 M788.92 708.90v2.30 M792.83 780.90v-2.30 M792.83 708.90v2.30 M796.75 780.90v-4.60 M796.75 708.90v4.60 M800.66 780.90v-2.30 M800.66 708.90v2.30 M804.57 780.90v-2.30 M804.57 708.90v2.30 M808.49 780.90v-2.30 M808.49 708.90v2.30 M812.40 780.90v-4.60 M812.40 708.90v4.60 M608.90 780.90h4.60 M812.40 780.90h-4.60 M608.90 777.30h2.30 M812.40 777.30h-2.30 M608.90 773.70h2.30 M812.40 773.70h-2.30 M608.90 770.10h2.30 M812.40 770.10h-2.30 M608.90 766.50h2.30 M812.40 766.50h-2.30 M608.90 762.90h4.60 M812.40 762.90h-4.60 M608.90 759.30h2.30 M812.40 759.30h-2.30 M608.90 755.70h2.30 M812.40 755.70h-2.30 M608.90 752.10h2.30 M812.40 752.10h-2.30 M608.90 748.50h2.30 M812.40 748.50h-2.30 M608.90 744.90h4.60 M812.40 744.90h-4.60 M608.90 741.30h2.30 M812.40 741.30h-2.30 M608.90 737.70h2.30 M812.40 737.70h-2.30 M608.90 734.10h2.30 M812.40 734.10h-2.30 M608.90 730.50h2.30 M812.40 730.50h-2.30 M608.90 726.90h4.60 M812.40 726.90h-4.60 M608.90 723.30h2.30 M812.40 723.30h-2.30 M608.90 719.70h2.30 M812.40 719.70h-2.30 M608.90 716.10h2.30 M812.40 716.10h-2.30 M608.90 712.50h2.30 M812.40 712.50h-2.30 M608.90 708.90h4.60 M812.40 708.90h-4.60" stroke="#000" stroke-width="0.6" fill="none"/>
<rect x="608.90" y="708.90" width="203.50" height="72.00" fill="none" stroke="#000" stroke-width="1.1"/>
<text transform="translate(710.25 809.60)" text-anchor="middle" font-size="9.0" textLength="61.20" lengthAdjust="spacingAndGlyphs">Frequency (1/d)</text>
<text transform="translate(564.50 745.10) rotate(-90)" text-anchor="middle" font-size="9.0" textLength="68.20" lengthAdjust="spacingAndGlyphs">Phase disp (mag)</text>
<path d="M609.64 727.45 L612.95 727.18 L616.27 726.65 L619.58 725.59 L622.23 723.47 L624.22 720.55 L626.20 715.92 L627.80 712.60 L629.12 711.54 L630.45 712.87 L632.17 716.84 L633.89 720.55 L635.48 722.28 L636.81 721.22 L638.40 717.24 L639.86 712.60 L641.05 710.22 L642.11 709.95 L643.43 711.94 L644.76 716.58 L646.35 722.54 L648.07 727.84 L649.40 730.23 L650.72 729.17 L652.05 725.19 L653.77 719.89 L655.36 716.58 L657.35 714.86 L659.34 714.59 L661.33 715.52 L663.31 717.24 L664.90 718.96 L666.23 719.49 L667.95 717.90 L669.94 715.52 L671.93 713.66 L673.92 712.34 L676.57 711.54 L679.22 711.28 L681.20 711.67 L682.93 713.27 L684.52 717.24 L685.84 723.20 L687.17 729.17 L688.76 733.14 L690.48 734.87 L692.20 735.13 L693.80 733.81 L695.39 731.16 L697.11 727.84 L698.43 726.52 L699.76 727.18 L701.48 729.83 L703.73 733.14 L705.72 735.80 L707.31 737.78 L708.64 741.10 L709.96 747.72 L711.29 757.66 L712.30 764.29 L713.63 768.93 L714.95 771.18 L716.01 771.18 L717.34 768.27 L718.66 760.31 L719.99 747.06 L721.31 731.16 L722.64 719.23 L723.96 713.27 L725.55 710.61 L727.14 710.22 L728.87 711.54 L730.59 715.25 L732.18 721.88 L733.77 731.16 L735.10 739.11 L736.42 744.14 L737.75 745.47 L739.07 743.08 L740.40 736.46 L741.72 728.51 L743.05 722.54 L744.37 719.89 L745.70 720.29 L747.02 725.19 L748.35 733.14 L749.67 740.43 L751.00 743.35 L752.33 741.10 L753.65 732.48 L754.98 723.87 L756.30 717.90 L757.63 715.52 L758.95 715.25 L760.28 716.84 L762.00 721.88 L763.72 727.84 L765.31 733.14 L766.90 735.80 L767.96 736.19 L769.29 733.81 L770.88 729.17 L772.60 725.86 L774.59 723.87 L776.58 721.88 L778.57 719.63 L780.55 717.24 L782.54 715.52 L784.53 714.33 L786.52 713.93 L788.51 714.19 L790.23 715.25 L791.82 717.64 L793.14 720.29 L794.47 721.61 L796.46 721.61 L798.45 720.82 L800.43 720.55 L802.42 720.95 L804.01 721.61" stroke="#111" stroke-width="0.7" fill="none" stroke-linejoin="round"/>
<path d="M715.00 712.30V745.30" stroke="#ff0000" stroke-opacity="0.58" stroke-width="1.15"/>
</svg>
</body></html>
